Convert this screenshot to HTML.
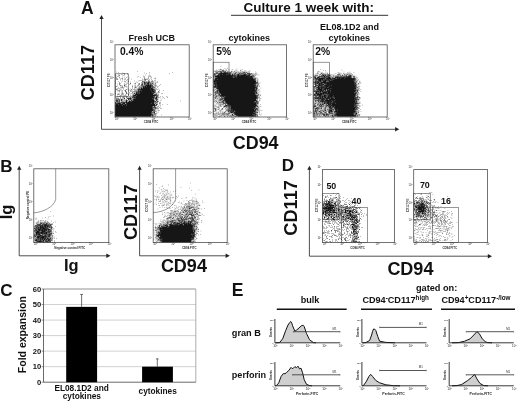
<!DOCTYPE html>
<html lang="en"><head><meta charset="utf-8"><title>Figure</title>
<style>html,body{margin:0;padding:0;background:#fff}svg{display:block}</style></head><body>
<svg width="520" height="403" viewBox="0 0 520 403" font-family="'Liberation Sans', sans-serif" font-weight="bold">
<defs><filter id="b" x="-5%" y="-5%" width="110%" height="110%"><feGaussianBlur stdDeviation="0.55"/></filter></defs>
<rect width="520" height="403" fill="#fff"/>
<text x="81.00" y="14.20" font-size="17.5" text-anchor="start" fill="#111" >A</text>
<path d="M101.50 18.00L101.50 129.30L396.30 129.30" stroke="#222" stroke-width="0.8" fill="none"/>
<path d="M101.50 15.00l-2.1 4h4.2z" fill="#222"/>
<path d="M399.30 129.30l-4.2 -2.2v4.4z" fill="#222"/>
<text transform="translate(94.40 72.60) rotate(-90)" font-size="18.2" text-anchor="middle" fill="#111" >CD117</text>
<text x="243.50" y="12.10" font-size="13.5" text-anchor="start" fill="#111" >Culture 1 week with:</text>
<path d="M231.00 15.30L388.20 15.30" stroke="#333" stroke-width="1.0" fill="none"/>
<text x="151.80" y="40.60" font-size="9" text-anchor="middle" fill="#111" >Fresh UCB</text>
<text x="249.20" y="40.60" font-size="9" text-anchor="middle" fill="#111" >cytokines</text>
<text x="349.40" y="30.00" font-size="9" text-anchor="middle" fill="#111" >EL08.1D2 and</text>
<text x="349.20" y="40.60" font-size="9" text-anchor="middle" fill="#111" >cytokines</text>
<text x="255.70" y="149.20" font-size="17.9" text-anchor="middle" fill="#111" >CD94</text>
<rect x="115.60" y="73.80" width="13.10" height="22.50" stroke="#444" stroke-width="0.55" fill="none"/>
<path d="M137 71.3h0.5v0.5h-0.5zM116.5 71.8h0.5v0.5h-0.5zM118.5 72.3h0.5v0.5h-0.5zM149.5 72.3h0.5v0.5h-0.5zM172.5 72.3h0.5v0.5h-0.5zM122.5 72.8h0.5v0.5h-0.5zM144.5 72.8h0.5v0.5h-0.5zM123 73.3h0.5v0.5h-0.5zM124.5 73.3h0.5v0.5h-0.5zM127 73.3h0.5v0.5h-0.5zM146.5 73.3h0.5v0.5h-0.5zM169.5 73.3h0.5v0.5h-0.5zM124.5 73.8h0.5v0.5h-0.5zM149.5 73.8h0.5v0.5h-0.5zM118.5 74.3h0.5v0.5h-0.5zM121.5 74.3h0.5v0.5h-0.5zM124.5 74.3h0.5v0.5h-0.5zM127 74.3h0.5v0.5h-0.5zM115.5 74.8h0.5v0.5h-0.5zM119.5 74.8h0.5v0.5h-0.5zM122.5 74.8h0.5v0.5h-0.5zM145 74.8h0.5v0.5h-0.5zM115.5 75.3h0.5v0.5h-0.5zM118 75.3h0.5v0.5h-0.5zM119 75.3h0.5v0.5h-0.5zM123 75.3h0.5v0.5h-0.5zM149.5 75.3h0.5v0.5h-0.5zM116.5 75.8h0.5v0.5h-0.5zM119 75.8h0.5v0.5h-0.5zM124 75.8h0.5v0.5h-0.5zM143.5 75.8h0.5v0.5h-0.5zM148 75.8h0.5v0.5h-0.5zM150 75.8h0.5v0.5h-0.5zM117.5 76.3h1v0.5h-1zM138 76.3h0.5v0.5h-0.5zM144.5 76.3h0.5v0.5h-0.5zM149 76.3h0.5v0.5h-0.5zM150 76.3h0.5v0.5h-0.5zM122 76.8h0.5v0.5h-0.5zM127 76.8h0.5v0.5h-0.5zM137.5 76.8h0.5v0.5h-0.5zM143 76.8h0.5v0.5h-0.5zM148 76.8h0.5v0.5h-0.5zM151 76.8h0.5v0.5h-0.5zM115 77.3h0.5v0.5h-0.5zM116.5 77.3h0.5v0.5h-0.5zM119.5 77.3h0.5v0.5h-0.5zM126 77.3h0.5v0.5h-0.5zM140 77.3h0.5v0.5h-0.5zM144 77.3h0.5v0.5h-0.5zM148 77.3h0.5v0.5h-0.5zM119 77.8h0.5v0.5h-0.5zM124.5 77.8h0.5v0.5h-0.5zM129 77.8h0.5v0.5h-0.5zM144.5 77.8h0.5v0.5h-0.5zM150.5 77.8h0.5v0.5h-0.5zM151.5 77.8h0.5v0.5h-0.5zM155.5 77.8h0.5v0.5h-0.5zM116 78.3h0.5v0.5h-0.5zM121.5 78.3h1.5v0.5h-1.5zM125.5 78.3h0.5v0.5h-0.5zM144 78.3h0.5v0.5h-0.5zM148.5 78.3h0.5v0.5h-0.5zM154.5 78.3h1v0.5h-1zM116.5 78.8h1.5v0.5h-1.5zM120 78.8h0.5v0.5h-0.5zM131 78.8h0.5v0.5h-0.5zM142 78.8h0.5v0.5h-0.5zM144 78.8h0.5v0.5h-0.5zM145.5 78.8h0.5v0.5h-0.5zM146.5 78.8h1v0.5h-1zM148.5 78.8h0.5v0.5h-0.5zM116 79.3h0.5v0.5h-0.5zM117.5 79.3h0.5v0.5h-0.5zM122 79.3h0.5v0.5h-0.5zM124 79.3h0.5v0.5h-0.5zM125.5 79.3h0.5v0.5h-0.5zM127.5 79.3h0.5v0.5h-0.5zM128.5 79.3h0.5v0.5h-0.5zM144.5 79.3h1v0.5h-1zM146.5 79.3h0.5v0.5h-0.5zM147.5 79.3h0.5v0.5h-0.5zM149 79.3h0.5v0.5h-0.5zM151.5 79.3h0.5v0.5h-0.5zM120.5 79.8h0.5v0.5h-0.5zM127.5 79.8h0.5v0.5h-0.5zM142.5 79.8h0.5v0.5h-0.5zM143.5 79.8h0.5v0.5h-0.5zM144.5 79.8h1.5v0.5h-1.5zM155 79.8h0.5v0.5h-0.5zM126.5 80.3h0.5v0.5h-0.5zM139.5 80.3h0.5v0.5h-0.5zM140.5 80.3h1v0.5h-1zM144.5 80.3h1v0.5h-1zM148 80.3h0.5v0.5h-0.5zM149.5 80.3h0.5v0.5h-0.5zM152.5 80.3h0.5v0.5h-0.5zM154.5 80.3h0.5v0.5h-0.5zM115.5 80.8h0.5v0.5h-0.5zM122 80.8h0.5v0.5h-0.5zM124 80.8h0.5v0.5h-0.5zM128.5 80.8h0.5v0.5h-0.5zM134 80.8h0.5v0.5h-0.5zM138.5 80.8h0.5v0.5h-0.5zM142.5 80.8h0.5v0.5h-0.5zM148 80.8h1v0.5h-1zM151.5 80.8h1v0.5h-1zM155.5 80.8h0.5v0.5h-0.5zM118.5 81.3h0.5v0.5h-0.5zM124.5 81.3h0.5v0.5h-0.5zM125.5 81.3h0.5v0.5h-0.5zM128 81.3h0.5v0.5h-0.5zM142.5 81.3h2v0.5h-2zM146 81.3h0.5v0.5h-0.5zM147 81.3h0.5v0.5h-0.5zM148 81.3h0.5v0.5h-0.5zM149 81.3h0.5v0.5h-0.5zM151 81.3h0.5v0.5h-0.5zM152.5 81.3h1v0.5h-1zM121 81.8h0.5v0.5h-0.5zM125 81.8h0.5v0.5h-0.5zM127.5 81.8h0.5v0.5h-0.5zM130.5 81.8h0.5v0.5h-0.5zM136.5 81.8h0.5v0.5h-0.5zM142 81.8h1v0.5h-1zM144 81.8h2.5v0.5h-2.5zM148 81.8h0.5v0.5h-0.5zM149 81.8h1.5v0.5h-1.5zM151.5 81.8h0.5v0.5h-0.5zM152.5 81.8h0.5v0.5h-0.5zM154 81.8h0.5v0.5h-0.5zM157 81.8h1v0.5h-1zM119 82.3h0.5v0.5h-0.5zM137 82.3h0.5v0.5h-0.5zM141.5 82.3h0.5v0.5h-0.5zM142.5 82.3h0.5v0.5h-0.5zM143.5 82.3h1.5v0.5h-1.5zM145.5 82.3h5v0.5h-5zM151.5 82.3h0.5v0.5h-0.5zM153.5 82.3h0.5v0.5h-0.5zM155 82.3h0.5v0.5h-0.5zM156.5 82.3h0.5v0.5h-0.5zM115 82.8h1v0.5h-1zM119.5 82.8h0.5v0.5h-0.5zM126.5 82.8h0.5v0.5h-0.5zM135.5 82.8h0.5v0.5h-0.5zM141 82.8h0.5v0.5h-0.5zM143 82.8h0.5v0.5h-0.5zM144 82.8h1.5v0.5h-1.5zM146.5 82.8h1v0.5h-1zM148 82.8h1v0.5h-1zM150.5 82.8h0.5v0.5h-0.5zM152 82.8h1.5v0.5h-1.5zM119.5 83.3h0.5v0.5h-0.5zM120.5 83.3h0.5v0.5h-0.5zM124 83.3h0.5v0.5h-0.5zM127.5 83.3h0.5v0.5h-0.5zM130 83.3h1v0.5h-1zM134 83.3h0.5v0.5h-0.5zM135.5 83.3h0.5v0.5h-0.5zM138 83.3h0.5v0.5h-0.5zM139.5 83.3h0.5v0.5h-0.5zM142 83.3h1v0.5h-1zM144 83.3h2v0.5h-2zM146.5 83.3h4v0.5h-4zM151 83.3h0.5v0.5h-0.5zM152 83.3h1v0.5h-1zM153.5 83.3h0.5v0.5h-0.5zM155 83.3h0.5v0.5h-0.5zM117 83.8h0.5v0.5h-0.5zM119 83.8h0.5v0.5h-0.5zM130 83.8h0.5v0.5h-0.5zM135.5 83.8h0.5v0.5h-0.5zM139 83.8h1v0.5h-1zM141.5 83.8h1v0.5h-1zM143 83.8h0.5v0.5h-0.5zM144.5 83.8h1v0.5h-1zM146 83.8h0.5v0.5h-0.5zM147 83.8h2v0.5h-2zM150 83.8h2v0.5h-2zM154 83.8h0.5v0.5h-0.5zM155 83.8h1v0.5h-1zM119.5 84.3h0.5v0.5h-0.5zM124 84.3h0.5v0.5h-0.5zM125.5 84.3h0.5v0.5h-0.5zM126.5 84.3h0.5v0.5h-0.5zM129 84.3h0.5v0.5h-0.5zM138 84.3h0.5v0.5h-0.5zM139.5 84.3h0.5v0.5h-0.5zM141.5 84.3h1.5v0.5h-1.5zM144 84.3h1.5v0.5h-1.5zM146.5 84.3h0.5v0.5h-0.5zM147.5 84.3h2.5v0.5h-2.5zM150.5 84.3h0.5v0.5h-0.5zM151.5 84.3h0.5v0.5h-0.5zM152.5 84.3h1v0.5h-1zM160 84.3h0.5v0.5h-0.5zM119 84.8h0.5v0.5h-0.5zM120.5 84.8h0.5v0.5h-0.5zM124 84.8h0.5v0.5h-0.5zM134 84.8h0.5v0.5h-0.5zM138 84.8h0.5v0.5h-0.5zM141 84.8h2.5v0.5h-2.5zM144.5 84.8h5v0.5h-5zM150 84.8h1.5v0.5h-1.5zM152.5 84.8h0.5v0.5h-0.5zM153.5 84.8h1v0.5h-1zM155 84.8h0.5v0.5h-0.5zM156.5 84.8h0.5v0.5h-0.5zM120 85.3h0.5v0.5h-0.5zM121.5 85.3h0.5v0.5h-0.5zM124 85.3h1v0.5h-1zM132 85.3h0.5v0.5h-0.5zM135.5 85.3h0.5v0.5h-0.5zM137 85.3h0.5v0.5h-0.5zM138.5 85.3h0.5v0.5h-0.5zM140.5 85.3h0.5v0.5h-0.5zM141.5 85.3h0.5v0.5h-0.5zM142.5 85.3h1v0.5h-1zM144 85.3h0.5v0.5h-0.5zM145.5 85.3h7.5v0.5h-7.5zM155.5 85.3h0.5v0.5h-0.5zM159.5 85.3h0.5v0.5h-0.5zM117.5 85.8h0.5v0.5h-0.5zM120 85.8h0.5v0.5h-0.5zM122.5 85.8h0.5v0.5h-0.5zM124 85.8h0.5v0.5h-0.5zM125.5 85.8h1v0.5h-1zM135.5 85.8h0.5v0.5h-0.5zM139 85.8h0.5v0.5h-0.5zM141 85.8h0.5v0.5h-0.5zM142.5 85.8h0.5v0.5h-0.5zM143.5 85.8h1v0.5h-1zM145 85.8h6.5v0.5h-6.5zM152.5 85.8h0.5v0.5h-0.5zM154 85.8h1.5v0.5h-1.5zM156 85.8h0.5v0.5h-0.5zM115.5 86.3h1.5v0.5h-1.5zM122 86.3h0.5v0.5h-0.5zM125.5 86.3h0.5v0.5h-0.5zM132 86.3h1v0.5h-1zM135 86.3h0.5v0.5h-0.5zM137 86.3h0.5v0.5h-0.5zM139 86.3h0.5v0.5h-0.5zM140 86.3h0.5v0.5h-0.5zM141 86.3h0.5v0.5h-0.5zM142 86.3h4.5v0.5h-4.5zM147 86.3h6v0.5h-6zM153.5 86.3h0.5v0.5h-0.5zM155 86.3h0.5v0.5h-0.5zM157.5 86.3h0.5v0.5h-0.5zM158.5 86.3h0.5v0.5h-0.5zM121.5 86.8h0.5v0.5h-0.5zM122.5 86.8h0.5v0.5h-0.5zM124.5 86.8h0.5v0.5h-0.5zM126.5 86.8h0.5v0.5h-0.5zM127.5 86.8h0.5v0.5h-0.5zM134 86.8h0.5v0.5h-0.5zM136.5 86.8h0.5v0.5h-0.5zM138.5 86.8h0.5v0.5h-0.5zM141.5 86.8h0.5v0.5h-0.5zM143 86.8h1v0.5h-1zM144.5 86.8h7v0.5h-7zM152.5 86.8h1.5v0.5h-1.5zM115.5 87.3h0.5v0.5h-0.5zM118 87.3h0.5v0.5h-0.5zM120.5 87.3h1v0.5h-1zM122 87.3h0.5v0.5h-0.5zM123.5 87.3h0.5v0.5h-0.5zM132 87.3h0.5v0.5h-0.5zM135 87.3h1v0.5h-1zM136.5 87.3h0.5v0.5h-0.5zM139.5 87.3h1v0.5h-1zM141 87.3h0.5v0.5h-0.5zM142 87.3h0.5v0.5h-0.5zM143 87.3h8.5v0.5h-8.5zM152 87.3h1v0.5h-1zM153.5 87.3h1.5v0.5h-1.5zM155.5 87.3h0.5v0.5h-0.5zM157.5 87.3h0.5v0.5h-0.5zM122.5 87.8h0.5v0.5h-0.5zM134.5 87.8h0.5v0.5h-0.5zM135.5 87.8h0.5v0.5h-0.5zM138.5 87.8h14v0.5h-14zM153 87.8h0.5v0.5h-0.5zM154 87.8h0.5v0.5h-0.5zM117.5 88.3h1v0.5h-1zM119 88.3h0.5v0.5h-0.5zM123.5 88.3h0.5v0.5h-0.5zM132 88.3h0.5v0.5h-0.5zM137 88.3h0.5v0.5h-0.5zM138.5 88.3h1v0.5h-1zM141 88.3h1v0.5h-1zM142.5 88.3h10.5v0.5h-10.5zM153.5 88.3h0.5v0.5h-0.5zM155.5 88.3h1v0.5h-1zM115 88.8h1.5v0.5h-1.5zM120 88.8h0.5v0.5h-0.5zM121.5 88.8h0.5v0.5h-0.5zM127.5 88.8h0.5v0.5h-0.5zM128.5 88.8h0.5v0.5h-0.5zM130.5 88.8h0.5v0.5h-0.5zM134.5 88.8h0.5v0.5h-0.5zM136.5 88.8h0.5v0.5h-0.5zM138.5 88.8h0.5v0.5h-0.5zM139.5 88.8h11v0.5h-11zM151 88.8h2v0.5h-2zM153.5 88.8h1.5v0.5h-1.5zM158 88.8h0.5v0.5h-0.5zM116 89.3h0.5v0.5h-0.5zM117 89.3h0.5v0.5h-0.5zM123 89.3h0.5v0.5h-0.5zM126 89.3h1v0.5h-1zM131 89.3h0.5v0.5h-0.5zM133.5 89.3h0.5v0.5h-0.5zM134.5 89.3h0.5v0.5h-0.5zM135.5 89.3h0.5v0.5h-0.5zM137 89.3h0.5v0.5h-0.5zM138 89.3h16.5v0.5h-16.5zM155 89.3h0.5v0.5h-0.5zM156 89.3h0.5v0.5h-0.5zM157.5 89.3h0.5v0.5h-0.5zM116.5 89.8h1v0.5h-1zM119 89.8h0.5v0.5h-0.5zM120.5 89.8h0.5v0.5h-0.5zM125.5 89.8h0.5v0.5h-0.5zM129 89.8h0.5v0.5h-0.5zM131 89.8h1.5v0.5h-1.5zM136 89.8h0.5v0.5h-0.5zM137 89.8h3.5v0.5h-3.5zM141 89.8h13.5v0.5h-13.5zM155 89.8h0.5v0.5h-0.5zM159.5 89.8h0.5v0.5h-0.5zM118 90.3h0.5v0.5h-0.5zM119.5 90.3h0.5v0.5h-0.5zM121.5 90.3h1v0.5h-1zM124.5 90.3h1v0.5h-1zM128 90.3h0.5v0.5h-0.5zM130 90.3h0.5v0.5h-0.5zM135.5 90.3h0.5v0.5h-0.5zM138 90.3h1v0.5h-1zM139.5 90.3h14v0.5h-14zM154 90.3h1.5v0.5h-1.5zM163 90.3h0.5v0.5h-0.5zM117 90.8h0.5v0.5h-0.5zM118.5 90.8h1v0.5h-1zM125 90.8h1v0.5h-1zM128.5 90.8h0.5v0.5h-0.5zM130.5 90.8h0.5v0.5h-0.5zM134 90.8h1v0.5h-1zM135.5 90.8h2v0.5h-2zM138.5 90.8h0.5v0.5h-0.5zM139.5 90.8h1.5v0.5h-1.5zM141.5 90.8h10v0.5h-10zM152 90.8h2.5v0.5h-2.5zM155 90.8h1v0.5h-1zM159 90.8h0.5v0.5h-0.5zM115 91.3h0.5v0.5h-0.5zM119.5 91.3h0.5v0.5h-0.5zM122 91.3h0.5v0.5h-0.5zM125 91.3h0.5v0.5h-0.5zM126.5 91.3h0.5v0.5h-0.5zM130 91.3h0.5v0.5h-0.5zM131.5 91.3h0.5v0.5h-0.5zM132.5 91.3h1v0.5h-1zM134 91.3h0.5v0.5h-0.5zM135 91.3h0.5v0.5h-0.5zM136 91.3h0.5v0.5h-0.5zM137.5 91.3h17.5v0.5h-17.5zM158 91.3h1v0.5h-1zM115 91.8h0.5v0.5h-0.5zM121.5 91.8h0.5v0.5h-0.5zM125.5 91.8h0.5v0.5h-0.5zM133.5 91.8h0.5v0.5h-0.5zM135.5 91.8h1v0.5h-1zM137 91.8h17.5v0.5h-17.5zM155 91.8h1v0.5h-1zM158.5 91.8h0.5v0.5h-0.5zM122.5 92.3h0.5v0.5h-0.5zM126 92.3h1v0.5h-1zM129.5 92.3h0.5v0.5h-0.5zM132 92.3h1v0.5h-1zM136 92.3h1v0.5h-1zM137.5 92.3h1.5v0.5h-1.5zM139.5 92.3h12.5v0.5h-12.5zM152.5 92.3h2.5v0.5h-2.5zM157 92.3h0.5v0.5h-0.5zM158 92.3h0.5v0.5h-0.5zM159.5 92.3h0.5v0.5h-0.5zM119.5 92.8h0.5v0.5h-0.5zM122 92.8h0.5v0.5h-0.5zM126 92.8h0.5v0.5h-0.5zM133 92.8h0.5v0.5h-0.5zM134 92.8h1.5v0.5h-1.5zM136 92.8h2v0.5h-2zM138.5 92.8h15v0.5h-15zM154 92.8h2.5v0.5h-2.5zM115 93.3h1v0.5h-1zM118 93.3h0.5v0.5h-0.5zM121.5 93.3h1v0.5h-1zM123 93.3h0.5v0.5h-0.5zM126 93.3h1.5v0.5h-1.5zM131 93.3h0.5v0.5h-0.5zM132 93.3h0.5v0.5h-0.5zM134 93.3h1v0.5h-1zM135.5 93.3h1.5v0.5h-1.5zM137.5 93.3h1.5v0.5h-1.5zM139.5 93.3h14.5v0.5h-14.5zM156.5 93.3h0.5v0.5h-0.5zM161 93.3h0.5v0.5h-0.5zM162.5 93.3h0.5v0.5h-0.5zM117.5 93.8h0.5v0.5h-0.5zM122 93.8h0.5v0.5h-0.5zM128.5 93.8h1v0.5h-1zM130.5 93.8h0.5v0.5h-0.5zM133.5 93.8h1v0.5h-1zM135 93.8h0.5v0.5h-0.5zM136 93.8h18v0.5h-18zM156 93.8h0.5v0.5h-0.5zM157.5 93.8h0.5v0.5h-0.5zM158.5 93.8h0.5v0.5h-0.5zM117 94.3h0.5v0.5h-0.5zM118 94.3h1.5v0.5h-1.5zM121.5 94.3h0.5v0.5h-0.5zM122.5 94.3h0.5v0.5h-0.5zM123.5 94.3h0.5v0.5h-0.5zM125 94.3h0.5v0.5h-0.5zM128.5 94.3h0.5v0.5h-0.5zM132 94.3h0.5v0.5h-0.5zM133 94.3h0.5v0.5h-0.5zM135 94.3h18v0.5h-18zM154 94.3h2.5v0.5h-2.5zM158 94.3h0.5v0.5h-0.5zM121 94.8h0.5v0.5h-0.5zM126.5 94.8h0.5v0.5h-0.5zM128.5 94.8h0.5v0.5h-0.5zM133 94.8h0.5v0.5h-0.5zM134 94.8h23.5v0.5h-23.5zM120 95.3h0.5v0.5h-0.5zM121 95.3h0.5v0.5h-0.5zM123 95.3h0.5v0.5h-0.5zM124 95.3h0.5v0.5h-0.5zM125.5 95.3h0.5v0.5h-0.5zM130 95.3h0.5v0.5h-0.5zM132.5 95.3h4v0.5h-4zM137 95.3h20v0.5h-20zM157.5 95.3h0.5v0.5h-0.5zM158.5 95.3h0.5v0.5h-0.5zM117 95.8h0.5v0.5h-0.5zM119 95.8h0.5v0.5h-0.5zM120.5 95.8h0.5v0.5h-0.5zM122 95.8h0.5v0.5h-0.5zM125 95.8h0.5v0.5h-0.5zM128 95.8h0.5v0.5h-0.5zM131 95.8h0.5v0.5h-0.5zM132 95.8h0.5v0.5h-0.5zM133 95.8h22v0.5h-22zM155.5 95.8h0.5v0.5h-0.5zM157 95.8h1.5v0.5h-1.5zM117 96.3h0.5v0.5h-0.5zM119.5 96.3h0.5v0.5h-0.5zM120.5 96.3h0.5v0.5h-0.5zM123 96.3h0.5v0.5h-0.5zM126 96.3h0.5v0.5h-0.5zM127 96.3h0.5v0.5h-0.5zM129 96.3h0.5v0.5h-0.5zM130.5 96.3h1v0.5h-1zM132.5 96.3h1.5v0.5h-1.5zM134.5 96.3h0.5v0.5h-0.5zM135.5 96.3h17.5v0.5h-17.5zM153.5 96.3h1v0.5h-1zM156 96.3h1v0.5h-1zM157.5 96.3h0.5v0.5h-0.5zM160 96.3h0.5v0.5h-0.5zM162.5 96.3h0.5v0.5h-0.5zM166.5 96.3h0.5v0.5h-0.5zM115 96.8h0.5v0.5h-0.5zM118 96.8h0.5v0.5h-0.5zM124 96.8h1v0.5h-1zM126 96.8h0.5v0.5h-0.5zM129.5 96.8h1v0.5h-1zM132 96.8h1v0.5h-1zM133.5 96.8h22v0.5h-22zM156 96.8h1v0.5h-1zM157.5 96.8h0.5v0.5h-0.5zM158.5 96.8h0.5v0.5h-0.5zM167.5 96.8h0.5v0.5h-0.5zM115 97.3h0.5v0.5h-0.5zM116.5 97.3h0.5v0.5h-0.5zM120.5 97.3h0.5v0.5h-0.5zM122.5 97.3h1.5v0.5h-1.5zM126 97.3h1v0.5h-1zM130.5 97.3h0.5v0.5h-0.5zM131.5 97.3h0.5v0.5h-0.5zM132.5 97.3h22v0.5h-22zM155 97.3h0.5v0.5h-0.5zM156 97.3h1.5v0.5h-1.5zM158 97.3h0.5v0.5h-0.5zM159 97.3h0.5v0.5h-0.5zM163.5 97.3h0.5v0.5h-0.5zM167 97.3h0.5v0.5h-0.5zM117.5 97.8h0.5v0.5h-0.5zM120 97.8h0.5v0.5h-0.5zM122 97.8h0.5v0.5h-0.5zM124.5 97.8h0.5v0.5h-0.5zM127 97.8h4v0.5h-4zM132 97.8h1.5v0.5h-1.5zM134 97.8h1v0.5h-1zM135.5 97.8h19v0.5h-19zM155 97.8h0.5v0.5h-0.5zM156 97.8h1v0.5h-1zM157.5 97.8h0.5v0.5h-0.5zM160.5 97.8h0.5v0.5h-0.5zM162 97.8h0.5v0.5h-0.5zM115.5 98.3h0.5v0.5h-0.5zM116.5 98.3h1v0.5h-1zM118.5 98.3h0.5v0.5h-0.5zM120.5 98.3h0.5v0.5h-0.5zM123.5 98.3h1.5v0.5h-1.5zM127 98.3h5v0.5h-5zM133.5 98.3h0.5v0.5h-0.5zM134.5 98.3h17.5v0.5h-17.5zM152.5 98.3h1.5v0.5h-1.5zM154.5 98.3h3v0.5h-3zM164 98.3h0.5v0.5h-0.5zM116 98.8h1.5v0.5h-1.5zM118 98.8h1v0.5h-1zM119.5 98.8h0.5v0.5h-0.5zM121.5 98.8h0.5v0.5h-0.5zM122.5 98.8h0.5v0.5h-0.5zM124 98.8h1v0.5h-1zM126 98.8h0.5v0.5h-0.5zM128 98.8h0.5v0.5h-0.5zM129 98.8h0.5v0.5h-0.5zM130 98.8h1.5v0.5h-1.5zM132.5 98.8h21v0.5h-21zM154 98.8h0.5v0.5h-0.5zM155 98.8h2v0.5h-2zM158 98.8h0.5v0.5h-0.5zM116 99.3h0.5v0.5h-0.5zM117.5 99.3h0.5v0.5h-0.5zM118.5 99.3h1v0.5h-1zM120 99.3h0.5v0.5h-0.5zM121 99.3h1v0.5h-1zM122.5 99.3h1v0.5h-1zM125 99.3h0.5v0.5h-0.5zM126.5 99.3h0.5v0.5h-0.5zM128 99.3h1.5v0.5h-1.5zM130 99.3h1.5v0.5h-1.5zM132.5 99.3h21.5v0.5h-21.5zM155.5 99.3h1v0.5h-1zM157 99.3h1v0.5h-1zM115.5 99.8h0.5v0.5h-0.5zM116.5 99.8h1v0.5h-1zM118.5 99.8h1.5v0.5h-1.5zM121 99.8h1.5v0.5h-1.5zM126.5 99.8h0.5v0.5h-0.5zM128 99.8h1v0.5h-1zM129.5 99.8h0.5v0.5h-0.5zM131 99.8h0.5v0.5h-0.5zM132 99.8h0.5v0.5h-0.5zM133.5 99.8h20.5v0.5h-20.5zM154.5 99.8h0.5v0.5h-0.5zM156 99.8h1v0.5h-1zM157.5 99.8h0.5v0.5h-0.5zM161 99.8h0.5v0.5h-0.5zM115.5 100.3h2.5v0.5h-2.5zM118.5 100.3h2v0.5h-2zM121 100.3h1v0.5h-1zM122.5 100.3h1v0.5h-1zM124.5 100.3h1v0.5h-1zM126 100.3h2v0.5h-2zM129.5 100.3h0.5v0.5h-0.5zM130.5 100.3h1.5v0.5h-1.5zM132.5 100.3h22v0.5h-22zM156 100.3h1v0.5h-1zM160 100.3h0.5v0.5h-0.5zM116 100.8h2.5v0.5h-2.5zM121.5 100.8h0.5v0.5h-0.5zM124 100.8h0.5v0.5h-0.5zM125.5 100.8h1.5v0.5h-1.5zM127.5 100.8h0.5v0.5h-0.5zM129 100.8h1v0.5h-1zM130.5 100.8h24.5v0.5h-24.5zM155.5 100.8h0.5v0.5h-0.5zM157 100.8h1v0.5h-1zM158.5 100.8h0.5v0.5h-0.5zM180 100.8h0.5v0.5h-0.5zM116 101.3h0.5v0.5h-0.5zM117.5 101.3h1v0.5h-1zM119 101.3h1v0.5h-1zM122 101.3h1v0.5h-1zM123.5 101.3h0.5v0.5h-0.5zM125 101.3h0.5v0.5h-0.5zM126 101.3h1v0.5h-1zM128 101.3h0.5v0.5h-0.5zM129 101.3h2v0.5h-2zM131.5 101.3h23v0.5h-23zM155 101.3h1v0.5h-1zM156.5 101.3h0.5v0.5h-0.5zM157.5 101.3h1v0.5h-1zM115.5 101.8h3v0.5h-3zM119 101.8h1v0.5h-1zM120.5 101.8h1.5v0.5h-1.5zM123 101.8h0.5v0.5h-0.5zM124 101.8h0.5v0.5h-0.5zM125.5 101.8h30.5v0.5h-30.5zM156.5 101.8h1.5v0.5h-1.5zM115 102.3h1v0.5h-1zM117 102.3h0.5v0.5h-0.5zM118.5 102.3h1v0.5h-1zM120 102.3h0.5v0.5h-0.5zM121 102.3h6v0.5h-6zM127.5 102.3h27v0.5h-27zM155.5 102.3h1v0.5h-1zM157 102.3h0.5v0.5h-0.5zM159.5 102.3h1v0.5h-1zM115 102.8h2.5v0.5h-2.5zM118 102.8h2v0.5h-2zM120.5 102.8h1v0.5h-1zM122 102.8h3v0.5h-3zM125.5 102.8h28.5v0.5h-28.5zM156 102.8h1v0.5h-1zM160.5 102.8h0.5v0.5h-0.5zM115 103.3h1.5v0.5h-1.5zM117 103.3h4v0.5h-4zM121.5 103.3h0.5v0.5h-0.5zM122.5 103.3h2.5v0.5h-2.5zM126 103.3h25v0.5h-25zM151.5 103.3h2.5v0.5h-2.5zM154.5 103.3h1.5v0.5h-1.5zM159 103.3h1v0.5h-1zM115 103.8h6.5v0.5h-6.5zM122 103.8h4v0.5h-4zM126.5 103.8h29v0.5h-29zM156.5 103.8h1.5v0.5h-1.5zM160 103.8h0.5v0.5h-0.5zM115.5 104.3h3v0.5h-3zM119 104.3h4.5v0.5h-4.5zM124.5 104.3h30.5v0.5h-30.5zM156 104.3h1v0.5h-1zM157.5 104.3h0.5v0.5h-0.5zM162 104.3h0.5v0.5h-0.5zM167.5 104.3h0.5v0.5h-0.5zM115 104.8h40v0.5h-40zM155.5 104.8h1.5v0.5h-1.5zM159 104.8h0.5v0.5h-0.5zM115 105.3h7v0.5h-7zM122.5 105.3h4v0.5h-4zM127 105.3h29.5v0.5h-29.5zM160 105.3h0.5v0.5h-0.5zM115 105.8h40.5v0.5h-40.5zM156 105.8h0.5v0.5h-0.5zM158.5 105.8h0.5v0.5h-0.5zM115 106.3h37v0.5h-37zM152.5 106.3h0.5v0.5h-0.5zM154 106.3h1.5v0.5h-1.5zM157.5 106.3h1v0.5h-1zM115 106.8h38v0.5h-38zM153.5 106.8h0.5v0.5h-0.5zM154.5 106.8h0.5v0.5h-0.5zM160 106.8h0.5v0.5h-0.5zM115 107.3h37.5v0.5h-37.5zM153 107.3h3.5v0.5h-3.5zM157 107.3h0.5v0.5h-0.5zM159 107.3h0.5v0.5h-0.5zM115 107.8h38v0.5h-38zM153.5 107.8h1v0.5h-1zM155 107.8h1.5v0.5h-1.5zM157.5 107.8h0.5v0.5h-0.5zM158.5 107.8h0.5v0.5h-0.5zM115 108.3h38v0.5h-38zM153.5 108.3h1v0.5h-1zM155 108.3h1v0.5h-1zM156.5 108.3h0.5v0.5h-0.5zM157.5 108.3h0.5v0.5h-0.5zM158.5 108.3h0.5v0.5h-0.5zM160.5 108.3h1v0.5h-1zM115 108.8h37.5v0.5h-37.5zM153 108.8h0.5v0.5h-0.5zM154 108.8h0.5v0.5h-0.5zM156 108.8h0.5v0.5h-0.5zM115 109.3h39v0.5h-39zM154.5 109.3h1v0.5h-1zM115 109.8h38.5v0.5h-38.5zM154.5 109.8h1v0.5h-1zM157 109.8h0.5v0.5h-0.5zM158.5 109.8h0.5v0.5h-0.5zM115 110.3h38.5v0.5h-38.5zM154 110.3h1v0.5h-1zM158.5 110.3h1v0.5h-1zM115 110.8h39v0.5h-39zM154.5 110.8h1v0.5h-1zM156.5 110.8h0.5v0.5h-0.5zM115 111.3h37v0.5h-37zM153 111.3h0.5v0.5h-0.5zM154.5 111.3h1v0.5h-1zM156.5 111.3h0.5v0.5h-0.5zM115 111.8h36.5v0.5h-36.5zM152.5 111.8h1v0.5h-1zM154 111.8h1v0.5h-1zM158 111.8h0.5v0.5h-0.5zM115 112.3h37v0.5h-37zM152.5 112.3h1v0.5h-1zM154 112.3h1v0.5h-1zM115 112.8h36.5v0.5h-36.5zM152 112.8h3v0.5h-3zM156.5 112.8h0.5v0.5h-0.5zM157.5 112.8h0.5v0.5h-0.5zM115 113.3h37v0.5h-37zM154.5 113.3h0.5v0.5h-0.5zM155.5 113.3h1v0.5h-1zM115 113.8h36.5v0.5h-36.5zM152 113.8h1.5v0.5h-1.5zM154 113.8h0.5v0.5h-0.5zM155 113.8h1v0.5h-1zM115 114.3h37.5v0.5h-37.5zM153 114.3h0.5v0.5h-0.5zM154 114.3h0.5v0.5h-0.5zM115 114.8h38.5v0.5h-38.5zM154.5 114.8h2v0.5h-2zM161 114.8h0.5v0.5h-0.5zM115 115.3h36v0.5h-36zM151.5 115.3h2v0.5h-2zM154.5 115.3h0.5v0.5h-0.5zM115 115.8h36.5v0.5h-36.5zM152 115.8h0.5v0.5h-0.5zM153.5 115.8h0.5v0.5h-0.5zM155.5 115.8h0.5v0.5h-0.5zM115 116.3h36v0.5h-36zM151.5 116.3h1.5v0.5h-1.5zM153.5 116.3h0.5v0.5h-0.5zM154.5 116.3h0.5v0.5h-0.5zM155.5 116.3h0.5v0.5h-0.5zM157 116.3h0.5v0.5h-0.5z" fill="#161616" filter="url(#b)"/>
<rect x="115.00" y="44.80" width="74.20" height="72.20" stroke="#505050" stroke-width="0.8" fill="none"/>
<text x="116.90" y="119.50" font-size="2.6" text-anchor="middle" fill="#2a2a2a" font-weight="normal">10<tspan dy="-1" font-size="1.8">0</tspan></text>
<text x="113.80" y="113.80" font-size="2.6" text-anchor="end" fill="#2a2a2a" font-weight="normal">10<tspan dy="-1" font-size="1.8">0</tspan></text>
<text x="135.15" y="119.50" font-size="2.6" text-anchor="middle" fill="#2a2a2a" font-weight="normal">10<tspan dy="-1" font-size="1.8">1</tspan></text>
<text x="113.80" y="96.20" font-size="2.6" text-anchor="end" fill="#2a2a2a" font-weight="normal">10<tspan dy="-1" font-size="1.8">1</tspan></text>
<text x="153.40" y="119.50" font-size="2.6" text-anchor="middle" fill="#2a2a2a" font-weight="normal">10<tspan dy="-1" font-size="1.8">2</tspan></text>
<text x="113.80" y="78.60" font-size="2.6" text-anchor="end" fill="#2a2a2a" font-weight="normal">10<tspan dy="-1" font-size="1.8">2</tspan></text>
<text x="171.65" y="119.50" font-size="2.6" text-anchor="middle" fill="#2a2a2a" font-weight="normal">10<tspan dy="-1" font-size="1.8">3</tspan></text>
<text x="113.80" y="61.00" font-size="2.6" text-anchor="end" fill="#2a2a2a" font-weight="normal">10<tspan dy="-1" font-size="1.8">3</tspan></text>
<text x="189.90" y="119.50" font-size="2.6" text-anchor="middle" fill="#2a2a2a" font-weight="normal">10<tspan dy="-1" font-size="1.8">4</tspan></text>
<text x="113.80" y="43.40" font-size="2.6" text-anchor="end" fill="#2a2a2a" font-weight="normal">10<tspan dy="-1" font-size="1.8">4</tspan></text>
<text x="151.14" y="123.40" font-size="2.9" text-anchor="middle" fill="#2a2a2a">CD94 FITC</text>
<text transform="translate(110.00 80.18) rotate(-90)" font-size="2.9" text-anchor="middle" fill="#2a2a2a">CD117 PE</text>
<text x="119.90" y="54.70" font-size="10.3" text-anchor="start" fill="#111" >0.4%</text>
<rect x="213.20" y="62.20" width="15.80" height="51.80" stroke="#444" stroke-width="0.55" fill="none"/>
<path d="M220.7 66.3h0.5v0.5h-0.5zM224.7 68.3h0.5v0.5h-0.5zM227.2 68.3h0.5v0.5h-0.5zM220.7 68.8h0.5v0.5h-0.5zM226.2 68.8h0.5v0.5h-0.5zM236.7 68.8h0.5v0.5h-0.5zM218.7 69.3h0.5v0.5h-0.5zM220.2 69.3h1v0.5h-1zM221.7 69.3h0.5v0.5h-0.5zM228.7 69.3h0.5v0.5h-0.5zM232.2 69.3h0.5v0.5h-0.5zM242.2 69.3h0.5v0.5h-0.5zM216.2 69.8h0.5v0.5h-0.5zM219.7 69.8h0.5v0.5h-0.5zM223.2 69.8h1v0.5h-1zM225.2 69.8h0.5v0.5h-0.5zM231.7 69.8h0.5v0.5h-0.5zM235.7 69.8h0.5v0.5h-0.5zM240.7 69.8h0.5v0.5h-0.5zM217.7 70.3h0.5v0.5h-0.5zM220.7 70.3h0.5v0.5h-0.5zM221.7 70.3h1.5v0.5h-1.5zM223.7 70.3h0.5v0.5h-0.5zM226.2 70.3h1v0.5h-1zM236.7 70.3h0.5v0.5h-0.5zM240.2 70.3h0.5v0.5h-0.5zM244.7 70.3h0.5v0.5h-0.5zM214.2 70.8h0.5v0.5h-0.5zM215.2 70.8h0.5v0.5h-0.5zM216.2 70.8h1v0.5h-1zM219.2 70.8h0.5v0.5h-0.5zM222.2 70.8h1.5v0.5h-1.5zM224.7 70.8h1v0.5h-1zM228.7 70.8h0.5v0.5h-0.5zM235.7 70.8h0.5v0.5h-0.5zM240.2 70.8h0.5v0.5h-0.5zM241.2 70.8h0.5v0.5h-0.5zM245.7 70.8h0.5v0.5h-0.5zM249.2 70.8h1v0.5h-1zM214.2 71.3h0.5v0.5h-0.5zM215.7 71.3h0.5v0.5h-0.5zM217.2 71.3h0.5v0.5h-0.5zM218.2 71.3h1v0.5h-1zM219.7 71.3h2v0.5h-2zM222.2 71.3h0.5v0.5h-0.5zM223.2 71.3h1v0.5h-1zM224.7 71.3h0.5v0.5h-0.5zM225.7 71.3h0.5v0.5h-0.5zM227.2 71.3h0.5v0.5h-0.5zM229.7 71.3h0.5v0.5h-0.5zM231.2 71.3h1v0.5h-1zM232.7 71.3h0.5v0.5h-0.5zM234.2 71.3h1v0.5h-1zM238.7 71.3h0.5v0.5h-0.5zM242.2 71.3h0.5v0.5h-0.5zM244.7 71.3h0.5v0.5h-0.5zM248.2 71.3h0.5v0.5h-0.5zM215.2 71.8h1v0.5h-1zM216.7 71.8h0.5v0.5h-0.5zM217.7 71.8h1v0.5h-1zM219.2 71.8h3v0.5h-3zM222.7 71.8h0.5v0.5h-0.5zM223.7 71.8h2.5v0.5h-2.5zM227.2 71.8h1.5v0.5h-1.5zM231.2 71.8h1v0.5h-1zM234.2 71.8h0.5v0.5h-0.5zM236.2 71.8h0.5v0.5h-0.5zM237.2 71.8h1v0.5h-1zM240.2 71.8h0.5v0.5h-0.5zM242.2 71.8h0.5v0.5h-0.5zM243.2 71.8h1v0.5h-1zM244.7 71.8h0.5v0.5h-0.5zM246.2 71.8h0.5v0.5h-0.5zM247.2 71.8h0.5v0.5h-0.5zM255.2 71.8h0.5v0.5h-0.5zM216.2 72.3h0.5v0.5h-0.5zM217.2 72.3h0.5v0.5h-0.5zM220.2 72.3h0.5v0.5h-0.5zM221.2 72.3h1v0.5h-1zM223.2 72.3h0.5v0.5h-0.5zM224.2 72.3h1.5v0.5h-1.5zM226.2 72.3h1.5v0.5h-1.5zM228.2 72.3h0.5v0.5h-0.5zM229.2 72.3h2v0.5h-2zM232.7 72.3h1v0.5h-1zM235.2 72.3h1v0.5h-1zM236.7 72.3h0.5v0.5h-0.5zM238.2 72.3h0.5v0.5h-0.5zM239.7 72.3h0.5v0.5h-0.5zM240.7 72.3h0.5v0.5h-0.5zM242.7 72.3h0.5v0.5h-0.5zM243.7 72.3h1.5v0.5h-1.5zM245.7 72.3h1.5v0.5h-1.5zM248.7 72.3h1v0.5h-1zM213.7 72.8h0.5v0.5h-0.5zM215.2 72.8h0.5v0.5h-0.5zM216.2 72.8h2.5v0.5h-2.5zM219.2 72.8h0.5v0.5h-0.5zM220.2 72.8h8v0.5h-8zM228.7 72.8h1v0.5h-1zM230.2 72.8h1.5v0.5h-1.5zM234.7 72.8h0.5v0.5h-0.5zM235.7 72.8h1v0.5h-1zM238.2 72.8h0.5v0.5h-0.5zM239.2 72.8h1v0.5h-1zM240.7 72.8h2v0.5h-2zM243.2 72.8h1v0.5h-1zM244.7 72.8h1v0.5h-1zM247.2 72.8h0.5v0.5h-0.5zM248.2 72.8h0.5v0.5h-0.5zM256.2 72.8h0.5v0.5h-0.5zM214.2 73.3h1v0.5h-1zM215.7 73.3h1.5v0.5h-1.5zM217.7 73.3h0.5v0.5h-0.5zM218.7 73.3h12v0.5h-12zM232.2 73.3h0.5v0.5h-0.5zM233.2 73.3h0.5v0.5h-0.5zM234.2 73.3h1.5v0.5h-1.5zM237.2 73.3h0.5v0.5h-0.5zM238.7 73.3h2v0.5h-2zM241.2 73.3h1.5v0.5h-1.5zM243.2 73.3h1v0.5h-1zM244.7 73.3h1v0.5h-1zM246.7 73.3h3.5v0.5h-3.5zM250.7 73.3h1.5v0.5h-1.5zM252.7 73.3h0.5v0.5h-0.5zM255.2 73.3h0.5v0.5h-0.5zM213.2 73.8h0.5v0.5h-0.5zM214.2 73.8h1.5v0.5h-1.5zM216.7 73.8h1v0.5h-1zM218.2 73.8h9.5v0.5h-9.5zM228.2 73.8h0.5v0.5h-0.5zM229.2 73.8h1.5v0.5h-1.5zM231.2 73.8h1.5v0.5h-1.5zM233.7 73.8h0.5v0.5h-0.5zM234.7 73.8h2v0.5h-2zM237.2 73.8h0.5v0.5h-0.5zM238.2 73.8h1v0.5h-1zM240.7 73.8h0.5v0.5h-0.5zM242.2 73.8h0.5v0.5h-0.5zM243.7 73.8h1.5v0.5h-1.5zM245.7 73.8h0.5v0.5h-0.5zM246.7 73.8h0.5v0.5h-0.5zM247.7 73.8h0.5v0.5h-0.5zM248.7 73.8h2.5v0.5h-2.5zM253.2 73.8h0.5v0.5h-0.5zM254.2 73.8h0.5v0.5h-0.5zM255.2 73.8h0.5v0.5h-0.5zM256.7 73.8h0.5v0.5h-0.5zM213.2 74.3h2v0.5h-2zM215.7 74.3h0.5v0.5h-0.5zM218.2 74.3h4v0.5h-4zM222.7 74.3h3.5v0.5h-3.5zM226.7 74.3h4v0.5h-4zM231.7 74.3h1.5v0.5h-1.5zM233.7 74.3h1.5v0.5h-1.5zM236.2 74.3h0.5v0.5h-0.5zM237.2 74.3h4.5v0.5h-4.5zM242.2 74.3h0.5v0.5h-0.5zM243.2 74.3h4v0.5h-4zM247.7 74.3h1v0.5h-1zM249.2 74.3h1.5v0.5h-1.5zM251.7 74.3h1v0.5h-1zM253.7 74.3h0.5v0.5h-0.5zM256.7 74.3h0.5v0.5h-0.5zM214.7 74.8h1v0.5h-1zM216.7 74.8h0.5v0.5h-0.5zM217.7 74.8h1.5v0.5h-1.5zM219.7 74.8h11.5v0.5h-11.5zM231.7 74.8h2v0.5h-2zM234.2 74.8h0.5v0.5h-0.5zM235.2 74.8h1v0.5h-1zM236.7 74.8h2.5v0.5h-2.5zM239.7 74.8h0.5v0.5h-0.5zM240.7 74.8h5.5v0.5h-5.5zM246.7 74.8h3.5v0.5h-3.5zM250.7 74.8h1v0.5h-1zM252.2 74.8h0.5v0.5h-0.5zM254.2 74.8h0.5v0.5h-0.5zM255.2 74.8h0.5v0.5h-0.5zM256.7 74.8h0.5v0.5h-0.5zM258.7 74.8h0.5v0.5h-0.5zM213.2 75.3h0.5v0.5h-0.5zM214.2 75.3h1v0.5h-1zM215.7 75.3h0.5v0.5h-0.5zM216.7 75.3h19v0.5h-19zM236.2 75.3h0.5v0.5h-0.5zM237.2 75.3h10.5v0.5h-10.5zM248.2 75.3h2v0.5h-2zM252.2 75.3h2v0.5h-2zM255.2 75.3h0.5v0.5h-0.5zM213.2 75.8h1v0.5h-1zM214.7 75.8h18.5v0.5h-18.5zM233.7 75.8h18.5v0.5h-18.5zM252.7 75.8h0.5v0.5h-0.5zM253.7 75.8h0.5v0.5h-0.5zM254.7 75.8h0.5v0.5h-0.5zM213.2 76.3h1.5v0.5h-1.5zM215.2 76.3h20.5v0.5h-20.5zM236.2 76.3h18v0.5h-18zM213.2 76.8h0.5v0.5h-0.5zM214.7 76.8h18v0.5h-18zM233.2 76.8h1v0.5h-1zM234.7 76.8h1.5v0.5h-1.5zM236.7 76.8h13v0.5h-13zM250.2 76.8h2v0.5h-2zM252.7 76.8h0.5v0.5h-0.5zM254.2 76.8h1v0.5h-1zM213.2 77.3h1v0.5h-1zM215.7 77.3h0.5v0.5h-0.5zM216.7 77.3h16.5v0.5h-16.5zM233.7 77.3h20v0.5h-20zM255.7 77.3h0.5v0.5h-0.5zM213.2 77.8h0.5v0.5h-0.5zM214.2 77.8h39v0.5h-39zM254.2 77.8h1v0.5h-1zM256.7 77.8h0.5v0.5h-0.5zM214.7 78.3h39v0.5h-39zM254.2 78.3h0.5v0.5h-0.5zM255.2 78.3h1v0.5h-1zM213.2 78.8h1v0.5h-1zM215.2 78.8h39.5v0.5h-39.5zM255.2 78.8h1v0.5h-1zM257.2 78.8h1v0.5h-1zM213.7 79.3h3.5v0.5h-3.5zM217.7 79.3h38v0.5h-38zM213.2 79.8h1v0.5h-1zM214.7 79.8h40v0.5h-40zM255.2 79.8h0.5v0.5h-0.5zM256.7 79.8h0.5v0.5h-0.5zM257.7 79.8h0.5v0.5h-0.5zM213.7 80.3h42v0.5h-42zM256.7 80.3h0.5v0.5h-0.5zM213.2 80.8h43v0.5h-43zM257.2 80.8h1v0.5h-1zM213.2 81.3h43v0.5h-43zM257.7 81.3h0.5v0.5h-0.5zM213.2 81.8h2.5v0.5h-2.5zM216.2 81.8h40v0.5h-40zM257.2 81.8h0.5v0.5h-0.5zM213.7 82.3h44.5v0.5h-44.5zM214.2 82.8h1.5v0.5h-1.5zM216.2 82.8h39.5v0.5h-39.5zM256.2 82.8h1v0.5h-1zM257.7 82.8h0.5v0.5h-0.5zM259.7 82.8h0.5v0.5h-0.5zM213.7 83.3h43v0.5h-43zM257.2 83.3h1v0.5h-1zM258.7 83.3h0.5v0.5h-0.5zM213.2 83.8h43v0.5h-43zM256.7 83.8h0.5v0.5h-0.5zM258.2 83.8h0.5v0.5h-0.5zM214.2 84.3h41v0.5h-41zM255.7 84.3h0.5v0.5h-0.5zM257.2 84.3h0.5v0.5h-0.5zM258.2 84.3h0.5v0.5h-0.5zM213.2 84.8h0.5v0.5h-0.5zM214.2 84.8h0.5v0.5h-0.5zM215.2 84.8h1v0.5h-1zM216.7 84.8h37.5v0.5h-37.5zM254.7 84.8h1.5v0.5h-1.5zM256.7 84.8h1v0.5h-1zM258.7 84.8h0.5v0.5h-0.5zM213.2 85.3h0.5v0.5h-0.5zM214.7 85.3h41.5v0.5h-41.5zM256.7 85.3h1v0.5h-1zM258.7 85.3h0.5v0.5h-0.5zM213.7 85.8h2.5v0.5h-2.5zM216.7 85.8h39v0.5h-39zM256.7 85.8h1v0.5h-1zM213.2 86.3h42.5v0.5h-42.5zM256.2 86.3h1.5v0.5h-1.5zM258.7 86.3h1v0.5h-1zM213.2 86.8h1.5v0.5h-1.5zM215.2 86.8h41.5v0.5h-41.5zM257.2 86.8h0.5v0.5h-0.5zM213.2 87.3h0.5v0.5h-0.5zM214.2 87.3h2.5v0.5h-2.5zM217.2 87.3h40v0.5h-40zM257.7 87.3h0.5v0.5h-0.5zM213.2 87.8h0.5v0.5h-0.5zM214.2 87.8h1v0.5h-1zM215.7 87.8h40v0.5h-40zM256.2 87.8h1v0.5h-1zM260.7 87.8h0.5v0.5h-0.5zM213.2 88.3h0.5v0.5h-0.5zM216.2 88.3h39v0.5h-39zM255.7 88.3h2v0.5h-2zM213.7 88.8h0.5v0.5h-0.5zM215.7 88.8h0.5v0.5h-0.5zM216.7 88.8h41v0.5h-41zM213.7 89.3h0.5v0.5h-0.5zM214.7 89.3h1v0.5h-1zM217.7 89.3h37.5v0.5h-37.5zM255.7 89.3h1.5v0.5h-1.5zM258.7 89.3h0.5v0.5h-0.5zM213.2 89.8h1v0.5h-1zM215.7 89.8h1v0.5h-1zM217.2 89.8h1v0.5h-1zM218.7 89.8h37v0.5h-37zM256.2 89.8h0.5v0.5h-0.5zM257.7 89.8h1v0.5h-1zM259.2 89.8h0.5v0.5h-0.5zM213.2 90.3h0.5v0.5h-0.5zM214.2 90.3h0.5v0.5h-0.5zM216.7 90.3h40v0.5h-40zM257.7 90.3h0.5v0.5h-0.5zM213.2 90.8h1v0.5h-1zM214.7 90.8h0.5v0.5h-0.5zM216.2 90.8h1.5v0.5h-1.5zM218.2 90.8h39v0.5h-39zM257.7 90.8h0.5v0.5h-0.5zM215.2 91.3h0.5v0.5h-0.5zM216.7 91.3h1.5v0.5h-1.5zM218.7 91.3h37.5v0.5h-37.5zM256.7 91.3h0.5v0.5h-0.5zM259.7 91.3h0.5v0.5h-0.5zM213.7 91.8h0.5v0.5h-0.5zM214.7 91.8h3v0.5h-3zM218.7 91.8h36v0.5h-36zM255.7 91.8h1v0.5h-1zM257.7 91.8h0.5v0.5h-0.5zM213.2 92.3h0.5v0.5h-0.5zM214.7 92.3h0.5v0.5h-0.5zM215.7 92.3h0.5v0.5h-0.5zM216.7 92.3h1v0.5h-1zM218.2 92.3h39v0.5h-39zM258.7 92.3h0.5v0.5h-0.5zM214.2 92.8h2v0.5h-2zM216.7 92.8h2v0.5h-2zM219.7 92.8h37.5v0.5h-37.5zM257.7 92.8h0.5v0.5h-0.5zM215.7 93.3h1v0.5h-1zM217.2 93.3h0.5v0.5h-0.5zM218.2 93.3h37v0.5h-37zM255.7 93.3h2v0.5h-2zM258.7 93.3h0.5v0.5h-0.5zM214.7 93.8h1v0.5h-1zM216.7 93.8h0.5v0.5h-0.5zM217.7 93.8h0.5v0.5h-0.5zM219.2 93.8h0.5v0.5h-0.5zM220.7 93.8h35v0.5h-35zM256.2 93.8h0.5v0.5h-0.5zM213.7 94.3h0.5v0.5h-0.5zM215.2 94.3h1v0.5h-1zM218.2 94.3h2v0.5h-2zM220.7 94.3h35v0.5h-35zM256.7 94.3h0.5v0.5h-0.5zM257.7 94.3h1.5v0.5h-1.5zM213.2 94.8h1v0.5h-1zM214.7 94.8h0.5v0.5h-0.5zM215.7 94.8h0.5v0.5h-0.5zM216.7 94.8h0.5v0.5h-0.5zM217.7 94.8h0.5v0.5h-0.5zM218.7 94.8h2v0.5h-2zM221.2 94.8h35v0.5h-35zM256.7 94.8h0.5v0.5h-0.5zM257.7 94.8h0.5v0.5h-0.5zM259.7 94.8h1v0.5h-1zM213.2 95.3h1v0.5h-1zM215.7 95.3h0.5v0.5h-0.5zM216.7 95.3h0.5v0.5h-0.5zM217.7 95.3h1v0.5h-1zM219.2 95.3h39.5v0.5h-39.5zM260.2 95.3h0.5v0.5h-0.5zM214.2 95.8h1v0.5h-1zM215.7 95.8h1v0.5h-1zM218.7 95.8h0.5v0.5h-0.5zM220.2 95.8h36.5v0.5h-36.5zM257.2 95.8h0.5v0.5h-0.5zM258.7 95.8h0.5v0.5h-0.5zM213.2 96.3h0.5v0.5h-0.5zM215.2 96.3h0.5v0.5h-0.5zM216.2 96.3h0.5v0.5h-0.5zM217.2 96.3h0.5v0.5h-0.5zM218.7 96.3h0.5v0.5h-0.5zM219.7 96.3h2v0.5h-2zM222.2 96.3h2.5v0.5h-2.5zM225.2 96.3h32.5v0.5h-32.5zM213.2 96.8h0.5v0.5h-0.5zM214.7 96.8h0.5v0.5h-0.5zM215.7 96.8h2v0.5h-2zM218.2 96.8h0.5v0.5h-0.5zM219.7 96.8h0.5v0.5h-0.5zM221.2 96.8h0.5v0.5h-0.5zM222.2 96.8h1.5v0.5h-1.5zM224.2 96.8h32.5v0.5h-32.5zM257.2 96.8h1v0.5h-1zM258.7 96.8h0.5v0.5h-0.5zM259.7 96.8h0.5v0.5h-0.5zM214.2 97.3h0.5v0.5h-0.5zM215.2 97.3h1v0.5h-1zM218.7 97.3h1v0.5h-1zM221.2 97.3h1v0.5h-1zM222.7 97.3h0.5v0.5h-0.5zM223.7 97.3h33.5v0.5h-33.5zM257.7 97.3h0.5v0.5h-0.5zM259.2 97.3h0.5v0.5h-0.5zM214.7 97.8h0.5v0.5h-0.5zM215.7 97.8h0.5v0.5h-0.5zM220.7 97.8h1v0.5h-1zM222.7 97.8h1v0.5h-1zM224.2 97.8h34.5v0.5h-34.5zM214.7 98.3h1.5v0.5h-1.5zM217.2 98.3h1v0.5h-1zM219.7 98.3h0.5v0.5h-0.5zM220.7 98.3h0.5v0.5h-0.5zM221.7 98.3h35v0.5h-35zM257.2 98.3h0.5v0.5h-0.5zM259.7 98.3h0.5v0.5h-0.5zM260.7 98.3h0.5v0.5h-0.5zM213.2 98.8h0.5v0.5h-0.5zM216.2 98.8h0.5v0.5h-0.5zM217.7 98.8h1v0.5h-1zM219.2 98.8h1.5v0.5h-1.5zM221.2 98.8h2v0.5h-2zM224.2 98.8h33.5v0.5h-33.5zM214.2 99.3h0.5v0.5h-0.5zM219.7 99.3h1v0.5h-1zM221.2 99.3h1.5v0.5h-1.5zM223.7 99.3h32.5v0.5h-32.5zM257.2 99.3h0.5v0.5h-0.5zM259.7 99.3h0.5v0.5h-0.5zM215.2 99.8h0.5v0.5h-0.5zM216.7 99.8h0.5v0.5h-0.5zM217.7 99.8h0.5v0.5h-0.5zM219.2 99.8h2.5v0.5h-2.5zM222.2 99.8h0.5v0.5h-0.5zM223.2 99.8h33v0.5h-33zM259.2 99.8h0.5v0.5h-0.5zM214.2 100.3h0.5v0.5h-0.5zM215.7 100.3h0.5v0.5h-0.5zM218.7 100.3h0.5v0.5h-0.5zM219.7 100.3h0.5v0.5h-0.5zM220.7 100.3h0.5v0.5h-0.5zM222.7 100.3h1.5v0.5h-1.5zM224.7 100.3h33v0.5h-33zM259.7 100.3h0.5v0.5h-0.5zM214.7 100.8h0.5v0.5h-0.5zM216.2 100.8h0.5v0.5h-0.5zM218.2 100.8h1v0.5h-1zM220.7 100.8h1v0.5h-1zM222.2 100.8h0.5v0.5h-0.5zM223.2 100.8h34v0.5h-34zM258.7 100.8h0.5v0.5h-0.5zM214.7 101.3h0.5v0.5h-0.5zM216.2 101.3h1v0.5h-1zM219.7 101.3h0.5v0.5h-0.5zM221.7 101.3h1v0.5h-1zM223.2 101.3h1v0.5h-1zM224.7 101.3h0.5v0.5h-0.5zM225.7 101.3h29v0.5h-29zM255.7 101.3h2.5v0.5h-2.5zM258.7 101.3h0.5v0.5h-0.5zM214.2 101.8h0.5v0.5h-0.5zM215.2 101.8h0.5v0.5h-0.5zM217.7 101.8h0.5v0.5h-0.5zM219.2 101.8h0.5v0.5h-0.5zM220.7 101.8h0.5v0.5h-0.5zM221.7 101.8h2v0.5h-2zM224.7 101.8h31v0.5h-31zM256.2 101.8h0.5v0.5h-0.5zM257.2 101.8h0.5v0.5h-0.5zM258.2 101.8h0.5v0.5h-0.5zM213.2 102.3h0.5v0.5h-0.5zM215.7 102.3h0.5v0.5h-0.5zM217.2 102.3h0.5v0.5h-0.5zM219.2 102.3h1.5v0.5h-1.5zM221.2 102.3h0.5v0.5h-0.5zM222.2 102.3h2v0.5h-2zM225.2 102.3h29v0.5h-29zM254.7 102.3h3.5v0.5h-3.5zM217.2 102.8h2v0.5h-2zM219.7 102.8h0.5v0.5h-0.5zM220.7 102.8h1v0.5h-1zM223.7 102.8h1v0.5h-1zM225.2 102.8h0.5v0.5h-0.5zM226.2 102.8h30.5v0.5h-30.5zM257.7 102.8h1v0.5h-1zM216.2 103.3h0.5v0.5h-0.5zM219.7 103.3h0.5v0.5h-0.5zM222.7 103.3h34v0.5h-34zM257.2 103.3h1v0.5h-1zM214.7 103.8h0.5v0.5h-0.5zM218.7 103.8h0.5v0.5h-0.5zM220.7 103.8h0.5v0.5h-0.5zM222.7 103.8h0.5v0.5h-0.5zM223.7 103.8h0.5v0.5h-0.5zM227.2 103.8h29v0.5h-29zM256.7 103.8h2v0.5h-2zM216.7 104.3h0.5v0.5h-0.5zM218.7 104.3h0.5v0.5h-0.5zM220.2 104.3h0.5v0.5h-0.5zM221.2 104.3h0.5v0.5h-0.5zM222.2 104.3h0.5v0.5h-0.5zM223.2 104.3h0.5v0.5h-0.5zM225.2 104.3h1v0.5h-1zM227.2 104.3h29.5v0.5h-29.5zM260.2 104.3h0.5v0.5h-0.5zM214.7 104.8h0.5v0.5h-0.5zM218.7 104.8h1v0.5h-1zM220.2 104.8h0.5v0.5h-0.5zM221.7 104.8h0.5v0.5h-0.5zM222.7 104.8h0.5v0.5h-0.5zM224.7 104.8h2v0.5h-2zM227.2 104.8h0.5v0.5h-0.5zM228.2 104.8h0.5v0.5h-0.5zM229.2 104.8h27.5v0.5h-27.5zM257.2 104.8h0.5v0.5h-0.5zM215.7 105.3h0.5v0.5h-0.5zM220.2 105.3h0.5v0.5h-0.5zM223.7 105.3h0.5v0.5h-0.5zM225.2 105.3h32v0.5h-32zM258.7 105.3h0.5v0.5h-0.5zM213.2 105.8h0.5v0.5h-0.5zM214.2 105.8h0.5v0.5h-0.5zM215.2 105.8h0.5v0.5h-0.5zM218.7 105.8h1v0.5h-1zM220.2 105.8h0.5v0.5h-0.5zM221.2 105.8h0.5v0.5h-0.5zM224.2 105.8h0.5v0.5h-0.5zM225.2 105.8h0.5v0.5h-0.5zM226.2 105.8h1.5v0.5h-1.5zM228.2 105.8h1v0.5h-1zM229.7 105.8h0.5v0.5h-0.5zM230.7 105.8h27v0.5h-27zM213.7 106.3h0.5v0.5h-0.5zM215.7 106.3h0.5v0.5h-0.5zM217.7 106.3h0.5v0.5h-0.5zM220.2 106.3h0.5v0.5h-0.5zM221.2 106.3h0.5v0.5h-0.5zM223.7 106.3h2.5v0.5h-2.5zM226.7 106.3h0.5v0.5h-0.5zM227.7 106.3h0.5v0.5h-0.5zM228.7 106.3h1v0.5h-1zM230.2 106.3h26v0.5h-26zM256.7 106.3h1.5v0.5h-1.5zM259.7 106.3h0.5v0.5h-0.5zM260.7 106.3h0.5v0.5h-0.5zM213.7 106.8h0.5v0.5h-0.5zM216.2 106.8h0.5v0.5h-0.5zM217.7 106.8h1v0.5h-1zM223.2 106.8h2v0.5h-2zM225.7 106.8h1.5v0.5h-1.5zM227.7 106.8h0.5v0.5h-0.5zM228.7 106.8h26.5v0.5h-26.5zM255.7 106.8h0.5v0.5h-0.5zM257.2 106.8h1.5v0.5h-1.5zM217.2 107.3h0.5v0.5h-0.5zM218.2 107.3h0.5v0.5h-0.5zM223.2 107.3h0.5v0.5h-0.5zM226.7 107.3h0.5v0.5h-0.5zM228.2 107.3h1.5v0.5h-1.5zM230.7 107.3h25.5v0.5h-25.5zM258.7 107.3h0.5v0.5h-0.5zM214.2 107.8h0.5v0.5h-0.5zM215.7 107.8h0.5v0.5h-0.5zM218.7 107.8h1v0.5h-1zM225.7 107.8h0.5v0.5h-0.5zM226.7 107.8h1v0.5h-1zM229.2 107.8h0.5v0.5h-0.5zM230.2 107.8h23.5v0.5h-23.5zM254.2 107.8h1v0.5h-1zM255.7 107.8h1v0.5h-1zM257.7 107.8h1v0.5h-1zM213.7 108.3h1v0.5h-1zM215.2 108.3h0.5v0.5h-0.5zM221.7 108.3h1.5v0.5h-1.5zM225.2 108.3h0.5v0.5h-0.5zM227.7 108.3h1v0.5h-1zM229.2 108.3h26v0.5h-26zM255.7 108.3h2v0.5h-2zM214.7 108.8h1.5v0.5h-1.5zM216.7 108.8h0.5v0.5h-0.5zM218.2 108.8h0.5v0.5h-0.5zM219.2 108.8h0.5v0.5h-0.5zM222.2 108.8h0.5v0.5h-0.5zM224.7 108.8h0.5v0.5h-0.5zM226.7 108.8h0.5v0.5h-0.5zM227.7 108.8h0.5v0.5h-0.5zM228.7 108.8h0.5v0.5h-0.5zM230.7 108.8h27v0.5h-27zM258.7 108.8h0.5v0.5h-0.5zM259.7 108.8h0.5v0.5h-0.5zM215.2 109.3h0.5v0.5h-0.5zM217.7 109.3h1v0.5h-1zM221.2 109.3h1.5v0.5h-1.5zM226.7 109.3h0.5v0.5h-0.5zM228.2 109.3h1v0.5h-1zM229.7 109.3h1v0.5h-1zM231.2 109.3h23v0.5h-23zM254.7 109.3h2v0.5h-2zM257.2 109.3h1v0.5h-1zM214.2 109.8h0.5v0.5h-0.5zM215.2 109.8h1.5v0.5h-1.5zM220.7 109.8h0.5v0.5h-0.5zM222.7 109.8h0.5v0.5h-0.5zM225.2 109.8h0.5v0.5h-0.5zM226.2 109.8h2v0.5h-2zM228.7 109.8h3.5v0.5h-3.5zM232.7 109.8h22v0.5h-22zM255.2 109.8h1v0.5h-1zM257.2 109.8h1.5v0.5h-1.5zM215.2 110.3h1v0.5h-1zM219.7 110.3h0.5v0.5h-0.5zM220.7 110.3h0.5v0.5h-0.5zM226.2 110.3h0.5v0.5h-0.5zM227.2 110.3h0.5v0.5h-0.5zM228.2 110.3h0.5v0.5h-0.5zM229.2 110.3h0.5v0.5h-0.5zM230.2 110.3h0.5v0.5h-0.5zM231.2 110.3h25.5v0.5h-25.5zM257.7 110.3h0.5v0.5h-0.5zM260.7 110.3h0.5v0.5h-0.5zM261.7 110.3h0.5v0.5h-0.5zM219.7 110.8h0.5v0.5h-0.5zM226.7 110.8h0.5v0.5h-0.5zM227.7 110.8h6.5v0.5h-6.5zM234.7 110.8h21v0.5h-21zM257.2 110.8h1v0.5h-1zM258.7 110.8h1v0.5h-1zM213.2 111.3h0.5v0.5h-0.5zM214.2 111.3h1v0.5h-1zM215.7 111.3h0.5v0.5h-0.5zM220.2 111.3h0.5v0.5h-0.5zM222.7 111.3h0.5v0.5h-0.5zM224.7 111.3h1.5v0.5h-1.5zM228.2 111.3h1v0.5h-1zM230.2 111.3h1.5v0.5h-1.5zM232.2 111.3h2.5v0.5h-2.5zM235.2 111.3h21v0.5h-21zM256.7 111.3h0.5v0.5h-0.5zM217.7 111.8h0.5v0.5h-0.5zM218.7 111.8h0.5v0.5h-0.5zM220.7 111.8h0.5v0.5h-0.5zM221.7 111.8h0.5v0.5h-0.5zM227.2 111.8h0.5v0.5h-0.5zM228.2 111.8h0.5v0.5h-0.5zM229.2 111.8h0.5v0.5h-0.5zM230.2 111.8h3.5v0.5h-3.5zM234.2 111.8h20.5v0.5h-20.5zM255.2 111.8h0.5v0.5h-0.5zM256.2 111.8h1v0.5h-1zM259.2 111.8h0.5v0.5h-0.5zM216.7 112.3h0.5v0.5h-0.5zM218.2 112.3h0.5v0.5h-0.5zM222.2 112.3h0.5v0.5h-0.5zM223.7 112.3h1.5v0.5h-1.5zM225.7 112.3h0.5v0.5h-0.5zM229.7 112.3h0.5v0.5h-0.5zM230.7 112.3h2.5v0.5h-2.5zM233.7 112.3h20v0.5h-20zM254.2 112.3h2v0.5h-2zM256.7 112.3h1.5v0.5h-1.5zM215.7 112.8h0.5v0.5h-0.5zM220.2 112.8h0.5v0.5h-0.5zM222.7 112.8h0.5v0.5h-0.5zM223.7 112.8h1v0.5h-1zM228.7 112.8h0.5v0.5h-0.5zM229.7 112.8h2.5v0.5h-2.5zM232.7 112.8h22v0.5h-22zM255.2 112.8h0.5v0.5h-0.5zM256.2 112.8h1.5v0.5h-1.5zM259.2 112.8h0.5v0.5h-0.5zM213.2 113.3h0.5v0.5h-0.5zM216.2 113.3h0.5v0.5h-0.5zM218.7 113.3h0.5v0.5h-0.5zM221.7 113.3h0.5v0.5h-0.5zM223.7 113.3h0.5v0.5h-0.5zM226.7 113.3h0.5v0.5h-0.5zM228.2 113.3h0.5v0.5h-0.5zM229.2 113.3h0.5v0.5h-0.5zM233.2 113.3h0.5v0.5h-0.5zM234.2 113.3h21.5v0.5h-21.5zM213.7 113.8h0.5v0.5h-0.5zM222.2 113.8h1v0.5h-1zM223.7 113.8h0.5v0.5h-0.5zM225.2 113.8h0.5v0.5h-0.5zM226.2 113.8h1v0.5h-1zM227.7 113.8h0.5v0.5h-0.5zM228.7 113.8h0.5v0.5h-0.5zM229.7 113.8h0.5v0.5h-0.5zM231.7 113.8h1.5v0.5h-1.5zM233.7 113.8h1v0.5h-1zM235.2 113.8h21v0.5h-21zM256.7 113.8h0.5v0.5h-0.5zM257.7 113.8h0.5v0.5h-0.5zM261.2 113.8h0.5v0.5h-0.5zM213.7 114.3h0.5v0.5h-0.5zM218.2 114.3h0.5v0.5h-0.5zM224.7 114.3h0.5v0.5h-0.5zM227.2 114.3h0.5v0.5h-0.5zM228.2 114.3h0.5v0.5h-0.5zM230.7 114.3h0.5v0.5h-0.5zM231.7 114.3h1.5v0.5h-1.5zM234.2 114.3h18.5v0.5h-18.5zM253.2 114.3h1.5v0.5h-1.5zM255.2 114.3h1.5v0.5h-1.5zM257.2 114.3h0.5v0.5h-0.5zM259.2 114.3h0.5v0.5h-0.5zM213.7 114.8h0.5v0.5h-0.5zM215.2 114.8h0.5v0.5h-0.5zM219.2 114.8h0.5v0.5h-0.5zM221.7 114.8h0.5v0.5h-0.5zM222.7 114.8h1.5v0.5h-1.5zM224.7 114.8h0.5v0.5h-0.5zM226.2 114.8h0.5v0.5h-0.5zM227.2 114.8h0.5v0.5h-0.5zM232.2 114.8h1v0.5h-1zM234.7 114.8h19v0.5h-19zM254.2 114.8h2v0.5h-2zM256.7 114.8h0.5v0.5h-0.5zM260.2 114.8h0.5v0.5h-0.5zM213.2 115.3h0.5v0.5h-0.5zM214.7 115.3h0.5v0.5h-0.5zM215.7 115.3h1v0.5h-1zM217.2 115.3h0.5v0.5h-0.5zM220.7 115.3h1v0.5h-1zM222.7 115.3h0.5v0.5h-0.5zM225.7 115.3h0.5v0.5h-0.5zM228.2 115.3h1v0.5h-1zM229.7 115.3h1v0.5h-1zM231.2 115.3h2.5v0.5h-2.5zM234.2 115.3h0.5v0.5h-0.5zM235.7 115.3h19.5v0.5h-19.5zM255.7 115.3h0.5v0.5h-0.5zM256.7 115.3h1v0.5h-1zM219.2 115.8h0.5v0.5h-0.5zM220.2 115.8h0.5v0.5h-0.5zM224.2 115.8h1v0.5h-1zM227.2 115.8h1v0.5h-1zM229.7 115.8h0.5v0.5h-0.5zM230.7 115.8h0.5v0.5h-0.5zM233.2 115.8h1v0.5h-1zM235.7 115.8h0.5v0.5h-0.5zM237.2 115.8h17v0.5h-17zM254.7 115.8h1.5v0.5h-1.5zM256.7 115.8h1v0.5h-1zM213.2 116.3h0.5v0.5h-0.5zM218.2 116.3h0.5v0.5h-0.5zM219.2 116.3h0.5v0.5h-0.5zM220.7 116.3h0.5v0.5h-0.5zM224.2 116.3h1v0.5h-1zM227.2 116.3h0.5v0.5h-0.5zM229.7 116.3h0.5v0.5h-0.5zM230.7 116.3h1v0.5h-1zM232.7 116.3h0.5v0.5h-0.5zM234.2 116.3h3v0.5h-3zM237.7 116.3h18.5v0.5h-18.5zM256.7 116.3h1v0.5h-1zM258.7 116.3h0.5v0.5h-0.5z" fill="#161616" filter="url(#b)"/>
<rect x="213.20" y="44.80" width="73.40" height="72.20" stroke="#505050" stroke-width="0.8" fill="none"/>
<text x="215.10" y="119.50" font-size="2.6" text-anchor="middle" fill="#2a2a2a" font-weight="normal">10<tspan dy="-1" font-size="1.8">0</tspan></text>
<text x="212.00" y="113.80" font-size="2.6" text-anchor="end" fill="#2a2a2a" font-weight="normal">10<tspan dy="-1" font-size="1.8">0</tspan></text>
<text x="233.15" y="119.50" font-size="2.6" text-anchor="middle" fill="#2a2a2a" font-weight="normal">10<tspan dy="-1" font-size="1.8">1</tspan></text>
<text x="212.00" y="96.20" font-size="2.6" text-anchor="end" fill="#2a2a2a" font-weight="normal">10<tspan dy="-1" font-size="1.8">1</tspan></text>
<text x="251.20" y="119.50" font-size="2.6" text-anchor="middle" fill="#2a2a2a" font-weight="normal">10<tspan dy="-1" font-size="1.8">2</tspan></text>
<text x="212.00" y="78.60" font-size="2.6" text-anchor="end" fill="#2a2a2a" font-weight="normal">10<tspan dy="-1" font-size="1.8">2</tspan></text>
<text x="269.25" y="119.50" font-size="2.6" text-anchor="middle" fill="#2a2a2a" font-weight="normal">10<tspan dy="-1" font-size="1.8">3</tspan></text>
<text x="212.00" y="61.00" font-size="2.6" text-anchor="end" fill="#2a2a2a" font-weight="normal">10<tspan dy="-1" font-size="1.8">3</tspan></text>
<text x="287.30" y="119.50" font-size="2.6" text-anchor="middle" fill="#2a2a2a" font-weight="normal">10<tspan dy="-1" font-size="1.8">4</tspan></text>
<text x="212.00" y="43.40" font-size="2.6" text-anchor="end" fill="#2a2a2a" font-weight="normal">10<tspan dy="-1" font-size="1.8">4</tspan></text>
<text x="248.95" y="123.40" font-size="2.9" text-anchor="middle" fill="#2a2a2a">CD94 FITC</text>
<text transform="translate(208.20 80.18) rotate(-90)" font-size="2.9" text-anchor="middle" fill="#2a2a2a">CD117 PE</text>
<text x="216.20" y="55.00" font-size="10.3" text-anchor="start" fill="#111" >5%</text>
<rect x="313.20" y="62.20" width="16.30" height="51.80" stroke="#444" stroke-width="0.55" fill="none"/>
<path d="M320.2 69.3h0.5v0.5h-0.5zM341.7 69.8h0.5v0.5h-0.5zM323.2 70.3h0.5v0.5h-0.5zM325.2 70.3h0.5v0.5h-0.5zM318.2 71.3h1v0.5h-1zM317.2 71.8h0.5v0.5h-0.5zM319.7 71.8h0.5v0.5h-0.5zM325.7 71.8h0.5v0.5h-0.5zM343.7 71.8h0.5v0.5h-0.5zM349.7 71.8h0.5v0.5h-0.5zM317.7 72.3h0.5v0.5h-0.5zM322.2 72.3h0.5v0.5h-0.5zM337.7 72.3h0.5v0.5h-0.5zM338.7 72.3h0.5v0.5h-0.5zM347.7 72.3h0.5v0.5h-0.5zM353.7 72.3h0.5v0.5h-0.5zM317.7 72.8h0.5v0.5h-0.5zM320.7 72.8h1v0.5h-1zM325.7 72.8h0.5v0.5h-0.5zM327.2 72.8h0.5v0.5h-0.5zM340.7 72.8h0.5v0.5h-0.5zM347.7 72.8h0.5v0.5h-0.5zM349.7 72.8h0.5v0.5h-0.5zM315.7 73.3h0.5v0.5h-0.5zM317.2 73.3h1v0.5h-1zM321.2 73.3h1v0.5h-1zM323.2 73.3h0.5v0.5h-0.5zM324.2 73.3h0.5v0.5h-0.5zM327.2 73.3h0.5v0.5h-0.5zM329.2 73.3h0.5v0.5h-0.5zM335.7 73.3h0.5v0.5h-0.5zM338.7 73.3h0.5v0.5h-0.5zM340.7 73.3h0.5v0.5h-0.5zM343.2 73.3h1v0.5h-1zM348.7 73.3h0.5v0.5h-0.5zM350.2 73.3h0.5v0.5h-0.5zM351.2 73.3h0.5v0.5h-0.5zM318.2 73.8h0.5v0.5h-0.5zM320.7 73.8h1v0.5h-1zM322.2 73.8h1.5v0.5h-1.5zM325.7 73.8h0.5v0.5h-0.5zM326.7 73.8h0.5v0.5h-0.5zM327.7 73.8h0.5v0.5h-0.5zM334.7 73.8h0.5v0.5h-0.5zM338.7 73.8h1.5v0.5h-1.5zM344.7 73.8h1v0.5h-1zM346.2 73.8h1v0.5h-1zM347.7 73.8h1v0.5h-1zM349.2 73.8h0.5v0.5h-0.5zM319.2 74.3h2v0.5h-2zM322.2 74.3h1v0.5h-1zM324.2 74.3h1.5v0.5h-1.5zM327.7 74.3h1v0.5h-1zM329.2 74.3h0.5v0.5h-0.5zM330.7 74.3h0.5v0.5h-0.5zM332.7 74.3h0.5v0.5h-0.5zM337.2 74.3h1.5v0.5h-1.5zM339.2 74.3h1v0.5h-1zM340.7 74.3h0.5v0.5h-0.5zM342.7 74.3h0.5v0.5h-0.5zM344.2 74.3h1v0.5h-1zM347.2 74.3h1v0.5h-1zM349.7 74.3h0.5v0.5h-0.5zM351.2 74.3h0.5v0.5h-0.5zM352.2 74.3h0.5v0.5h-0.5zM314.7 74.8h1v0.5h-1zM316.2 74.8h1.5v0.5h-1.5zM322.7 74.8h2v0.5h-2zM325.2 74.8h4.5v0.5h-4.5zM330.7 74.8h0.5v0.5h-0.5zM331.7 74.8h0.5v0.5h-0.5zM337.2 74.8h0.5v0.5h-0.5zM338.2 74.8h1v0.5h-1zM342.2 74.8h0.5v0.5h-0.5zM344.2 74.8h0.5v0.5h-0.5zM346.2 74.8h1v0.5h-1zM347.7 74.8h0.5v0.5h-0.5zM349.2 74.8h2v0.5h-2zM352.2 74.8h0.5v0.5h-0.5zM353.7 74.8h0.5v0.5h-0.5zM313.2 75.3h1v0.5h-1zM315.7 75.3h0.5v0.5h-0.5zM317.2 75.3h0.5v0.5h-0.5zM319.7 75.3h0.5v0.5h-0.5zM321.2 75.3h3v0.5h-3zM324.7 75.3h1.5v0.5h-1.5zM327.2 75.3h0.5v0.5h-0.5zM328.2 75.3h2.5v0.5h-2.5zM332.7 75.3h0.5v0.5h-0.5zM333.7 75.3h0.5v0.5h-0.5zM336.2 75.3h0.5v0.5h-0.5zM338.7 75.3h0.5v0.5h-0.5zM340.2 75.3h1v0.5h-1zM341.7 75.3h2v0.5h-2zM344.7 75.3h1v0.5h-1zM346.2 75.3h0.5v0.5h-0.5zM348.2 75.3h1.5v0.5h-1.5zM350.2 75.3h1.5v0.5h-1.5zM313.7 75.8h0.5v0.5h-0.5zM314.7 75.8h2.5v0.5h-2.5zM317.7 75.8h0.5v0.5h-0.5zM319.2 75.8h1v0.5h-1zM320.7 75.8h1v0.5h-1zM322.2 75.8h3.5v0.5h-3.5zM326.2 75.8h0.5v0.5h-0.5zM327.2 75.8h1v0.5h-1zM328.7 75.8h1v0.5h-1zM330.2 75.8h0.5v0.5h-0.5zM333.2 75.8h1v0.5h-1zM334.7 75.8h1.5v0.5h-1.5zM336.7 75.8h2v0.5h-2zM339.2 75.8h1.5v0.5h-1.5zM341.7 75.8h1v0.5h-1zM344.2 75.8h1v0.5h-1zM345.7 75.8h1.5v0.5h-1.5zM348.2 75.8h0.5v0.5h-0.5zM349.2 75.8h2v0.5h-2zM351.7 75.8h1v0.5h-1zM353.7 75.8h0.5v0.5h-0.5zM355.7 75.8h0.5v0.5h-0.5zM313.7 76.3h1.5v0.5h-1.5zM315.7 76.3h0.5v0.5h-0.5zM318.2 76.3h0.5v0.5h-0.5zM319.2 76.3h2.5v0.5h-2.5zM322.2 76.3h1v0.5h-1zM323.7 76.3h1.5v0.5h-1.5zM325.7 76.3h3.5v0.5h-3.5zM330.2 76.3h0.5v0.5h-0.5zM331.2 76.3h0.5v0.5h-0.5zM332.7 76.3h0.5v0.5h-0.5zM334.7 76.3h0.5v0.5h-0.5zM336.2 76.3h1v0.5h-1zM337.7 76.3h0.5v0.5h-0.5zM338.7 76.3h0.5v0.5h-0.5zM340.2 76.3h0.5v0.5h-0.5zM341.2 76.3h1v0.5h-1zM343.2 76.3h1.5v0.5h-1.5zM345.2 76.3h7v0.5h-7zM353.2 76.3h2v0.5h-2zM315.2 76.8h0.5v0.5h-0.5zM317.2 76.8h3v0.5h-3zM320.7 76.8h2v0.5h-2zM323.2 76.8h2.5v0.5h-2.5zM326.2 76.8h1v0.5h-1zM327.7 76.8h2.5v0.5h-2.5zM331.2 76.8h0.5v0.5h-0.5zM332.7 76.8h1v0.5h-1zM335.2 76.8h1v0.5h-1zM336.7 76.8h8.5v0.5h-8.5zM345.7 76.8h1v0.5h-1zM347.2 76.8h3.5v0.5h-3.5zM353.2 76.8h1v0.5h-1zM313.7 77.3h2.5v0.5h-2.5zM317.2 77.3h2v0.5h-2zM319.7 77.3h0.5v0.5h-0.5zM321.7 77.3h1v0.5h-1zM323.2 77.3h3v0.5h-3zM326.7 77.3h1v0.5h-1zM328.2 77.3h2.5v0.5h-2.5zM331.7 77.3h1v0.5h-1zM334.7 77.3h7v0.5h-7zM342.2 77.3h9.5v0.5h-9.5zM353.7 77.3h1v0.5h-1zM356.2 77.3h0.5v0.5h-0.5zM313.7 77.8h2.5v0.5h-2.5zM316.7 77.8h7v0.5h-7zM324.2 77.8h0.5v0.5h-0.5zM325.2 77.8h6v0.5h-6zM331.7 77.8h6.5v0.5h-6.5zM338.7 77.8h1.5v0.5h-1.5zM340.7 77.8h3.5v0.5h-3.5zM344.7 77.8h8v0.5h-8zM353.2 77.8h2.5v0.5h-2.5zM356.7 77.8h1v0.5h-1zM313.7 78.3h0.5v0.5h-0.5zM314.7 78.3h3.5v0.5h-3.5zM318.7 78.3h6.5v0.5h-6.5zM325.7 78.3h6v0.5h-6zM332.2 78.3h3.5v0.5h-3.5zM336.7 78.3h18.5v0.5h-18.5zM355.7 78.3h0.5v0.5h-0.5zM313.7 78.8h0.5v0.5h-0.5zM315.2 78.8h2.5v0.5h-2.5zM318.2 78.8h7.5v0.5h-7.5zM326.2 78.8h5.5v0.5h-5.5zM332.2 78.8h0.5v0.5h-0.5zM333.2 78.8h21v0.5h-21zM354.7 78.8h1v0.5h-1zM313.2 79.3h1.5v0.5h-1.5zM315.2 79.3h0.5v0.5h-0.5zM316.2 79.3h7v0.5h-7zM323.7 79.3h1v0.5h-1zM325.2 79.3h4.5v0.5h-4.5zM330.2 79.3h3.5v0.5h-3.5zM334.2 79.3h21.5v0.5h-21.5zM356.7 79.3h0.5v0.5h-0.5zM358.2 79.3h0.5v0.5h-0.5zM313.7 79.8h0.5v0.5h-0.5zM314.7 79.8h1v0.5h-1zM316.2 79.8h1v0.5h-1zM317.7 79.8h3.5v0.5h-3.5zM321.7 79.8h5v0.5h-5zM327.2 79.8h0.5v0.5h-0.5zM328.2 79.8h1v0.5h-1zM329.7 79.8h25.5v0.5h-25.5zM355.7 79.8h1v0.5h-1zM314.7 80.3h0.5v0.5h-0.5zM315.7 80.3h0.5v0.5h-0.5zM316.7 80.3h0.5v0.5h-0.5zM317.7 80.3h6v0.5h-6zM324.2 80.3h6v0.5h-6zM330.7 80.3h1v0.5h-1zM332.2 80.3h21.5v0.5h-21.5zM354.2 80.3h1v0.5h-1zM355.7 80.3h0.5v0.5h-0.5zM357.2 80.3h1v0.5h-1zM314.7 80.8h2.5v0.5h-2.5zM317.7 80.8h0.5v0.5h-0.5zM318.7 80.8h3v0.5h-3zM322.7 80.8h5v0.5h-5zM328.2 80.8h26.5v0.5h-26.5zM355.2 80.8h1v0.5h-1zM359.7 80.8h0.5v0.5h-0.5zM314.2 81.3h0.5v0.5h-0.5zM315.2 81.3h1v0.5h-1zM316.7 81.3h4.5v0.5h-4.5zM321.7 81.3h0.5v0.5h-0.5zM322.7 81.3h3.5v0.5h-3.5zM326.7 81.3h0.5v0.5h-0.5zM327.7 81.3h0.5v0.5h-0.5zM328.7 81.3h25.5v0.5h-25.5zM354.7 81.3h0.5v0.5h-0.5zM355.7 81.3h1v0.5h-1zM357.2 81.3h0.5v0.5h-0.5zM359.2 81.3h0.5v0.5h-0.5zM313.2 81.8h1v0.5h-1zM314.7 81.8h4.5v0.5h-4.5zM320.2 81.8h6v0.5h-6zM326.7 81.8h28.5v0.5h-28.5zM356.2 81.8h0.5v0.5h-0.5zM313.2 82.3h3.5v0.5h-3.5zM317.2 82.3h2.5v0.5h-2.5zM320.2 82.3h34.5v0.5h-34.5zM355.2 82.3h1.5v0.5h-1.5zM359.2 82.3h0.5v0.5h-0.5zM360.2 82.3h0.5v0.5h-0.5zM313.2 82.8h0.5v0.5h-0.5zM314.2 82.8h0.5v0.5h-0.5zM315.2 82.8h1v0.5h-1zM316.7 82.8h3.5v0.5h-3.5zM320.7 82.8h8.5v0.5h-8.5zM329.7 82.8h26.5v0.5h-26.5zM357.2 82.8h0.5v0.5h-0.5zM358.7 82.8h0.5v0.5h-0.5zM313.7 83.3h0.5v0.5h-0.5zM315.2 83.3h3v0.5h-3zM318.7 83.3h4v0.5h-4zM323.7 83.3h31v0.5h-31zM355.2 83.3h1v0.5h-1zM358.2 83.3h1v0.5h-1zM360.7 83.3h0.5v0.5h-0.5zM314.2 83.8h2.5v0.5h-2.5zM317.2 83.8h5.5v0.5h-5.5zM323.2 83.8h1v0.5h-1zM324.7 83.8h1v0.5h-1zM326.2 83.8h30.5v0.5h-30.5zM358.2 83.8h0.5v0.5h-0.5zM314.2 84.3h0.5v0.5h-0.5zM315.2 84.3h1.5v0.5h-1.5zM318.2 84.3h2.5v0.5h-2.5zM321.2 84.3h3v0.5h-3zM324.7 84.3h1v0.5h-1zM326.2 84.3h29.5v0.5h-29.5zM356.2 84.3h1v0.5h-1zM357.7 84.3h0.5v0.5h-0.5zM315.2 84.8h1v0.5h-1zM316.7 84.8h1v0.5h-1zM318.7 84.8h36v0.5h-36zM355.2 84.8h1v0.5h-1zM358.7 84.8h0.5v0.5h-0.5zM315.2 85.3h7v0.5h-7zM322.7 85.3h0.5v0.5h-0.5zM324.2 85.3h7v0.5h-7zM331.7 85.3h25v0.5h-25zM313.2 85.8h1v0.5h-1zM315.2 85.8h1v0.5h-1zM316.7 85.8h0.5v0.5h-0.5zM317.7 85.8h3v0.5h-3zM321.2 85.8h8v0.5h-8zM329.7 85.8h27v0.5h-27zM357.2 85.8h0.5v0.5h-0.5zM359.7 85.8h0.5v0.5h-0.5zM313.2 86.3h3.5v0.5h-3.5zM317.7 86.3h2v0.5h-2zM320.2 86.3h2.5v0.5h-2.5zM323.2 86.3h1.5v0.5h-1.5zM325.2 86.3h31v0.5h-31zM356.7 86.3h0.5v0.5h-0.5zM358.2 86.3h1v0.5h-1zM313.2 86.8h1v0.5h-1zM314.7 86.8h1.5v0.5h-1.5zM317.2 86.8h2.5v0.5h-2.5zM320.2 86.8h0.5v0.5h-0.5zM321.2 86.8h7v0.5h-7zM328.7 86.8h26.5v0.5h-26.5zM355.7 86.8h1v0.5h-1zM359.2 86.8h0.5v0.5h-0.5zM313.7 87.3h1v0.5h-1zM315.7 87.3h9v0.5h-9zM325.2 87.3h2v0.5h-2zM327.7 87.3h28.5v0.5h-28.5zM356.7 87.3h1.5v0.5h-1.5zM313.7 87.8h1v0.5h-1zM316.2 87.8h0.5v0.5h-0.5zM317.2 87.8h5.5v0.5h-5.5zM323.2 87.8h33.5v0.5h-33.5zM357.2 87.8h0.5v0.5h-0.5zM358.2 87.8h0.5v0.5h-0.5zM313.7 88.3h1v0.5h-1zM315.2 88.3h1v0.5h-1zM316.7 88.3h0.5v0.5h-0.5zM317.7 88.3h2.5v0.5h-2.5zM320.7 88.3h3v0.5h-3zM324.2 88.3h6.5v0.5h-6.5zM331.2 88.3h25v0.5h-25zM356.7 88.3h0.5v0.5h-0.5zM359.2 88.3h0.5v0.5h-0.5zM313.2 88.8h0.5v0.5h-0.5zM315.7 88.8h1.5v0.5h-1.5zM317.7 88.8h5v0.5h-5zM323.2 88.8h33v0.5h-33zM357.7 88.8h1.5v0.5h-1.5zM313.2 89.3h0.5v0.5h-0.5zM314.2 89.3h1v0.5h-1zM316.2 89.3h6.5v0.5h-6.5zM323.2 89.3h3v0.5h-3zM326.7 89.3h1.5v0.5h-1.5zM328.7 89.3h26v0.5h-26zM355.2 89.3h2v0.5h-2zM357.7 89.3h0.5v0.5h-0.5zM360.2 89.3h0.5v0.5h-0.5zM313.7 89.8h1v0.5h-1zM316.7 89.8h9.5v0.5h-9.5zM326.7 89.8h2v0.5h-2zM329.2 89.8h26.5v0.5h-26.5zM357.2 89.8h1v0.5h-1zM359.7 89.8h0.5v0.5h-0.5zM313.7 90.3h0.5v0.5h-0.5zM314.7 90.3h1v0.5h-1zM316.2 90.3h0.5v0.5h-0.5zM317.2 90.3h0.5v0.5h-0.5zM318.2 90.3h0.5v0.5h-0.5zM319.2 90.3h3.5v0.5h-3.5zM323.2 90.3h1v0.5h-1zM324.7 90.3h1.5v0.5h-1.5zM327.2 90.3h3v0.5h-3zM330.7 90.3h27.5v0.5h-27.5zM358.7 90.3h0.5v0.5h-0.5zM313.2 90.8h0.5v0.5h-0.5zM314.2 90.8h10v0.5h-10zM324.7 90.8h0.5v0.5h-0.5zM325.7 90.8h30.5v0.5h-30.5zM356.7 90.8h1v0.5h-1zM358.7 90.8h0.5v0.5h-0.5zM313.2 91.3h2v0.5h-2zM315.7 91.3h3.5v0.5h-3.5zM319.7 91.3h4v0.5h-4zM324.2 91.3h31.5v0.5h-31.5zM356.7 91.3h1v0.5h-1zM360.7 91.3h0.5v0.5h-0.5zM313.7 91.8h0.5v0.5h-0.5zM314.7 91.8h3v0.5h-3zM318.2 91.8h3v0.5h-3zM322.2 91.8h4.5v0.5h-4.5zM327.2 91.8h3v0.5h-3zM330.7 91.8h25v0.5h-25zM356.2 91.8h1.5v0.5h-1.5zM313.7 92.3h0.5v0.5h-0.5zM315.7 92.3h2v0.5h-2zM318.2 92.3h1.5v0.5h-1.5zM320.2 92.3h1v0.5h-1zM321.7 92.3h5.5v0.5h-5.5zM327.7 92.3h27v0.5h-27zM355.2 92.3h1.5v0.5h-1.5zM357.7 92.3h1v0.5h-1zM313.2 92.8h0.5v0.5h-0.5zM315.2 92.8h2v0.5h-2zM317.7 92.8h1v0.5h-1zM319.2 92.8h3v0.5h-3zM322.7 92.8h32v0.5h-32zM355.2 92.8h1.5v0.5h-1.5zM357.2 92.8h0.5v0.5h-0.5zM358.2 92.8h0.5v0.5h-0.5zM314.7 93.3h4.5v0.5h-4.5zM319.7 93.3h5v0.5h-5zM325.2 93.3h31.5v0.5h-31.5zM357.2 93.3h0.5v0.5h-0.5zM314.2 93.8h1v0.5h-1zM316.2 93.8h10.5v0.5h-10.5zM327.2 93.8h29v0.5h-29zM356.7 93.8h0.5v0.5h-0.5zM358.2 93.8h0.5v0.5h-0.5zM359.2 93.8h0.5v0.5h-0.5zM313.7 94.3h2.5v0.5h-2.5zM316.7 94.3h6v0.5h-6zM323.2 94.3h1v0.5h-1zM324.7 94.3h0.5v0.5h-0.5zM325.7 94.3h0.5v0.5h-0.5zM326.7 94.3h2v0.5h-2zM329.2 94.3h27v0.5h-27zM357.2 94.3h1v0.5h-1zM313.2 94.8h2.5v0.5h-2.5zM316.2 94.8h6.5v0.5h-6.5zM323.2 94.8h4v0.5h-4zM327.7 94.8h27.5v0.5h-27.5zM355.7 94.8h0.5v0.5h-0.5zM356.7 94.8h1v0.5h-1zM313.2 95.3h1.5v0.5h-1.5zM315.2 95.3h1.5v0.5h-1.5zM317.2 95.3h1v0.5h-1zM318.7 95.3h2.5v0.5h-2.5zM321.7 95.3h1v0.5h-1zM323.2 95.3h4.5v0.5h-4.5zM328.2 95.3h27.5v0.5h-27.5zM356.7 95.3h0.5v0.5h-0.5zM314.2 95.8h2.5v0.5h-2.5zM317.2 95.8h6v0.5h-6zM323.7 95.8h2v0.5h-2zM326.7 95.8h6.5v0.5h-6.5zM333.7 95.8h24v0.5h-24zM358.2 95.8h0.5v0.5h-0.5zM313.2 96.3h0.5v0.5h-0.5zM315.7 96.3h1v0.5h-1zM318.7 96.3h2.5v0.5h-2.5zM321.7 96.3h5.5v0.5h-5.5zM327.7 96.3h27.5v0.5h-27.5zM357.2 96.3h1v0.5h-1zM314.7 96.8h3v0.5h-3zM318.2 96.8h1.5v0.5h-1.5zM320.2 96.8h6v0.5h-6zM326.7 96.8h2.5v0.5h-2.5zM329.7 96.8h2.5v0.5h-2.5zM332.7 96.8h23.5v0.5h-23.5zM357.2 96.8h0.5v0.5h-0.5zM358.2 96.8h1v0.5h-1zM313.7 97.3h1v0.5h-1zM315.2 97.3h0.5v0.5h-0.5zM316.2 97.3h0.5v0.5h-0.5zM317.2 97.3h4v0.5h-4zM321.7 97.3h1.5v0.5h-1.5zM324.2 97.3h2.5v0.5h-2.5zM327.2 97.3h6.5v0.5h-6.5zM334.2 97.3h20.5v0.5h-20.5zM355.2 97.3h3v0.5h-3zM358.7 97.3h1v0.5h-1zM313.2 97.8h6v0.5h-6zM319.7 97.8h10.5v0.5h-10.5zM330.7 97.8h3v0.5h-3zM334.2 97.8h21.5v0.5h-21.5zM356.2 97.8h1.5v0.5h-1.5zM359.2 97.8h1.5v0.5h-1.5zM313.2 98.3h0.5v0.5h-0.5zM314.2 98.3h0.5v0.5h-0.5zM315.2 98.3h6.5v0.5h-6.5zM322.2 98.3h2.5v0.5h-2.5zM325.2 98.3h4.5v0.5h-4.5zM330.2 98.3h4v0.5h-4zM334.7 98.3h21.5v0.5h-21.5zM356.7 98.3h0.5v0.5h-0.5zM357.7 98.3h0.5v0.5h-0.5zM313.2 98.8h0.5v0.5h-0.5zM314.7 98.8h1.5v0.5h-1.5zM316.7 98.8h1v0.5h-1zM318.2 98.8h0.5v0.5h-0.5zM319.2 98.8h6v0.5h-6zM325.7 98.8h2v0.5h-2zM328.2 98.8h28.5v0.5h-28.5zM357.2 98.8h1.5v0.5h-1.5zM359.2 98.8h0.5v0.5h-0.5zM313.7 99.3h0.5v0.5h-0.5zM314.7 99.3h0.5v0.5h-0.5zM316.2 99.3h0.5v0.5h-0.5zM318.2 99.3h1v0.5h-1zM319.7 99.3h0.5v0.5h-0.5zM321.2 99.3h4.5v0.5h-4.5zM326.2 99.3h2v0.5h-2zM329.2 99.3h25.5v0.5h-25.5zM355.2 99.3h2.5v0.5h-2.5zM358.2 99.3h1v0.5h-1zM314.2 99.8h1v0.5h-1zM316.7 99.8h7v0.5h-7zM324.2 99.8h0.5v0.5h-0.5zM325.2 99.8h32v0.5h-32zM357.7 99.8h1v0.5h-1zM314.7 100.3h1.5v0.5h-1.5zM316.7 100.3h1v0.5h-1zM318.2 100.3h0.5v0.5h-0.5zM319.2 100.3h0.5v0.5h-0.5zM320.2 100.3h0.5v0.5h-0.5zM321.2 100.3h3v0.5h-3zM324.7 100.3h7v0.5h-7zM332.2 100.3h2.5v0.5h-2.5zM335.2 100.3h20.5v0.5h-20.5zM356.2 100.3h0.5v0.5h-0.5zM313.7 100.8h0.5v0.5h-0.5zM315.2 100.8h2v0.5h-2zM317.7 100.8h2v0.5h-2zM320.2 100.8h2.5v0.5h-2.5zM323.2 100.8h32v0.5h-32zM355.7 100.8h3v0.5h-3zM359.7 100.8h0.5v0.5h-0.5zM313.2 101.3h0.5v0.5h-0.5zM315.2 101.3h0.5v0.5h-0.5zM317.7 101.3h1.5v0.5h-1.5zM319.7 101.3h1.5v0.5h-1.5zM321.7 101.3h10.5v0.5h-10.5zM332.7 101.3h23v0.5h-23zM356.2 101.3h1v0.5h-1zM313.2 101.8h0.5v0.5h-0.5zM314.2 101.8h0.5v0.5h-0.5zM315.2 101.8h1.5v0.5h-1.5zM318.7 101.8h0.5v0.5h-0.5zM320.2 101.8h4v0.5h-4zM324.7 101.8h0.5v0.5h-0.5zM325.7 101.8h1v0.5h-1zM327.2 101.8h2.5v0.5h-2.5zM330.2 101.8h3.5v0.5h-3.5zM334.2 101.8h23v0.5h-23zM358.7 101.8h0.5v0.5h-0.5zM313.7 102.3h0.5v0.5h-0.5zM316.7 102.3h0.5v0.5h-0.5zM317.7 102.3h0.5v0.5h-0.5zM318.7 102.3h1v0.5h-1zM320.2 102.3h0.5v0.5h-0.5zM321.7 102.3h1v0.5h-1zM323.7 102.3h8v0.5h-8zM332.2 102.3h23.5v0.5h-23.5zM356.2 102.3h0.5v0.5h-0.5zM357.2 102.3h0.5v0.5h-0.5zM359.7 102.3h0.5v0.5h-0.5zM314.7 102.8h0.5v0.5h-0.5zM315.7 102.8h0.5v0.5h-0.5zM317.7 102.8h0.5v0.5h-0.5zM318.7 102.8h1.5v0.5h-1.5zM321.2 102.8h0.5v0.5h-0.5zM322.2 102.8h1v0.5h-1zM323.7 102.8h2v0.5h-2zM326.7 102.8h2.5v0.5h-2.5zM329.7 102.8h2v0.5h-2zM332.2 102.8h25.5v0.5h-25.5zM358.7 102.8h0.5v0.5h-0.5zM359.7 102.8h0.5v0.5h-0.5zM313.7 103.3h0.5v0.5h-0.5zM314.7 103.3h1.5v0.5h-1.5zM318.2 103.3h0.5v0.5h-0.5zM319.7 103.3h1v0.5h-1zM321.2 103.3h0.5v0.5h-0.5zM322.7 103.3h0.5v0.5h-0.5zM323.7 103.3h1.5v0.5h-1.5zM325.7 103.3h9.5v0.5h-9.5zM335.7 103.3h23.5v0.5h-23.5zM359.7 103.3h0.5v0.5h-0.5zM314.2 103.8h0.5v0.5h-0.5zM315.7 103.8h0.5v0.5h-0.5zM316.7 103.8h2v0.5h-2zM320.2 103.8h0.5v0.5h-0.5zM321.7 103.8h5v0.5h-5zM327.2 103.8h2.5v0.5h-2.5zM330.2 103.8h24v0.5h-24zM354.7 103.8h2v0.5h-2zM357.7 103.8h0.5v0.5h-0.5zM314.2 104.3h0.5v0.5h-0.5zM317.2 104.3h1v0.5h-1zM318.7 104.3h0.5v0.5h-0.5zM319.7 104.3h1.5v0.5h-1.5zM321.7 104.3h2v0.5h-2zM325.7 104.3h1v0.5h-1zM327.7 104.3h3.5v0.5h-3.5zM331.7 104.3h24v0.5h-24zM356.2 104.3h0.5v0.5h-0.5zM357.2 104.3h0.5v0.5h-0.5zM313.7 104.8h2v0.5h-2zM318.2 104.8h0.5v0.5h-0.5zM319.2 104.8h3v0.5h-3zM322.7 104.8h0.5v0.5h-0.5zM323.7 104.8h0.5v0.5h-0.5zM326.2 104.8h1v0.5h-1zM327.7 104.8h29v0.5h-29zM357.7 104.8h1.5v0.5h-1.5zM362.2 104.8h0.5v0.5h-0.5zM314.2 105.3h0.5v0.5h-0.5zM315.2 105.3h0.5v0.5h-0.5zM317.2 105.3h1v0.5h-1zM319.2 105.3h1v0.5h-1zM321.2 105.3h0.5v0.5h-0.5zM322.7 105.3h1v0.5h-1zM324.2 105.3h0.5v0.5h-0.5zM325.2 105.3h1v0.5h-1zM326.7 105.3h1.5v0.5h-1.5zM328.7 105.3h0.5v0.5h-0.5zM329.7 105.3h1v0.5h-1zM331.2 105.3h24.5v0.5h-24.5zM356.2 105.3h0.5v0.5h-0.5zM357.2 105.3h0.5v0.5h-0.5zM358.7 105.3h0.5v0.5h-0.5zM313.7 105.8h0.5v0.5h-0.5zM314.7 105.8h2.5v0.5h-2.5zM318.2 105.8h0.5v0.5h-0.5zM319.2 105.8h0.5v0.5h-0.5zM320.2 105.8h2.5v0.5h-2.5zM323.7 105.8h0.5v0.5h-0.5zM324.7 105.8h0.5v0.5h-0.5zM325.7 105.8h29v0.5h-29zM355.2 105.8h2.5v0.5h-2.5zM359.7 105.8h0.5v0.5h-0.5zM360.7 105.8h0.5v0.5h-0.5zM313.2 106.3h2.5v0.5h-2.5zM318.7 106.3h1v0.5h-1zM320.2 106.3h1.5v0.5h-1.5zM322.2 106.3h1.5v0.5h-1.5zM325.2 106.3h0.5v0.5h-0.5zM326.2 106.3h1v0.5h-1zM328.2 106.3h1v0.5h-1zM329.7 106.3h2v0.5h-2zM332.2 106.3h2v0.5h-2zM334.7 106.3h20v0.5h-20zM355.2 106.3h1.5v0.5h-1.5zM359.2 106.3h0.5v0.5h-0.5zM313.2 106.8h2.5v0.5h-2.5zM316.2 106.8h0.5v0.5h-0.5zM317.2 106.8h0.5v0.5h-0.5zM318.2 106.8h0.5v0.5h-0.5zM319.7 106.8h0.5v0.5h-0.5zM320.7 106.8h1v0.5h-1zM323.7 106.8h0.5v0.5h-0.5zM324.7 106.8h0.5v0.5h-0.5zM325.7 106.8h0.5v0.5h-0.5zM326.7 106.8h0.5v0.5h-0.5zM328.7 106.8h2.5v0.5h-2.5zM332.2 106.8h26v0.5h-26zM313.2 107.3h1v0.5h-1zM316.7 107.3h1v0.5h-1zM318.2 107.3h0.5v0.5h-0.5zM319.2 107.3h0.5v0.5h-0.5zM320.7 107.3h0.5v0.5h-0.5zM321.7 107.3h0.5v0.5h-0.5zM322.7 107.3h0.5v0.5h-0.5zM324.7 107.3h1v0.5h-1zM326.7 107.3h0.5v0.5h-0.5zM327.7 107.3h0.5v0.5h-0.5zM329.2 107.3h4.5v0.5h-4.5zM334.2 107.3h22v0.5h-22zM356.7 107.3h0.5v0.5h-0.5zM357.7 107.3h0.5v0.5h-0.5zM358.7 107.3h0.5v0.5h-0.5zM313.2 107.8h0.5v0.5h-0.5zM314.7 107.8h0.5v0.5h-0.5zM315.7 107.8h3v0.5h-3zM319.2 107.8h0.5v0.5h-0.5zM320.7 107.8h1v0.5h-1zM323.2 107.8h0.5v0.5h-0.5zM324.2 107.8h0.5v0.5h-0.5zM325.2 107.8h1v0.5h-1zM327.7 107.8h2v0.5h-2zM330.2 107.8h1.5v0.5h-1.5zM332.2 107.8h0.5v0.5h-0.5zM333.7 107.8h22v0.5h-22zM356.2 107.8h1.5v0.5h-1.5zM358.2 107.8h0.5v0.5h-0.5zM313.2 108.3h0.5v0.5h-0.5zM314.2 108.3h3v0.5h-3zM317.7 108.3h1v0.5h-1zM319.7 108.3h0.5v0.5h-0.5zM320.7 108.3h1v0.5h-1zM322.7 108.3h0.5v0.5h-0.5zM324.2 108.3h0.5v0.5h-0.5zM325.2 108.3h1v0.5h-1zM326.7 108.3h0.5v0.5h-0.5zM329.7 108.3h3v0.5h-3zM333.2 108.3h0.5v0.5h-0.5zM334.2 108.3h21.5v0.5h-21.5zM356.2 108.3h1v0.5h-1zM358.2 108.3h0.5v0.5h-0.5zM359.2 108.3h0.5v0.5h-0.5zM315.2 108.8h0.5v0.5h-0.5zM316.2 108.8h0.5v0.5h-0.5zM317.2 108.8h3v0.5h-3zM320.7 108.8h1.5v0.5h-1.5zM323.7 108.8h0.5v0.5h-0.5zM324.7 108.8h0.5v0.5h-0.5zM327.2 108.8h0.5v0.5h-0.5zM328.7 108.8h1v0.5h-1zM330.2 108.8h2v0.5h-2zM333.2 108.8h0.5v0.5h-0.5zM334.2 108.8h0.5v0.5h-0.5zM335.2 108.8h20.5v0.5h-20.5zM356.2 108.8h2v0.5h-2zM313.7 109.3h0.5v0.5h-0.5zM314.7 109.3h1v0.5h-1zM316.7 109.3h1v0.5h-1zM322.7 109.3h0.5v0.5h-0.5zM323.7 109.3h0.5v0.5h-0.5zM324.7 109.3h1v0.5h-1zM326.7 109.3h1v0.5h-1zM328.2 109.3h0.5v0.5h-0.5zM329.7 109.3h0.5v0.5h-0.5zM330.7 109.3h0.5v0.5h-0.5zM331.7 109.3h2.5v0.5h-2.5zM334.7 109.3h22v0.5h-22zM357.2 109.3h0.5v0.5h-0.5zM360.2 109.3h0.5v0.5h-0.5zM313.2 109.8h0.5v0.5h-0.5zM314.7 109.8h1.5v0.5h-1.5zM316.7 109.8h0.5v0.5h-0.5zM317.7 109.8h1v0.5h-1zM320.2 109.8h1v0.5h-1zM321.7 109.8h0.5v0.5h-0.5zM324.2 109.8h2v0.5h-2zM327.2 109.8h0.5v0.5h-0.5zM328.2 109.8h5v0.5h-5zM333.7 109.8h0.5v0.5h-0.5zM334.7 109.8h2.5v0.5h-2.5zM337.7 109.8h18v0.5h-18zM356.2 109.8h0.5v0.5h-0.5zM357.7 109.8h0.5v0.5h-0.5zM313.2 110.3h0.5v0.5h-0.5zM314.7 110.3h0.5v0.5h-0.5zM315.7 110.3h0.5v0.5h-0.5zM316.7 110.3h1v0.5h-1zM320.2 110.3h0.5v0.5h-0.5zM321.2 110.3h0.5v0.5h-0.5zM322.2 110.3h1v0.5h-1zM323.7 110.3h0.5v0.5h-0.5zM324.7 110.3h1v0.5h-1zM328.7 110.3h3.5v0.5h-3.5zM333.2 110.3h1v0.5h-1zM335.2 110.3h19.5v0.5h-19.5zM355.2 110.3h0.5v0.5h-0.5zM358.7 110.3h0.5v0.5h-0.5zM314.2 110.8h3v0.5h-3zM317.7 110.8h1v0.5h-1zM319.2 110.8h1v0.5h-1zM321.2 110.8h0.5v0.5h-0.5zM322.7 110.8h1v0.5h-1zM324.7 110.8h4v0.5h-4zM329.7 110.8h3v0.5h-3zM334.2 110.8h0.5v0.5h-0.5zM335.2 110.8h22v0.5h-22zM357.7 110.8h0.5v0.5h-0.5zM358.7 110.8h0.5v0.5h-0.5zM313.2 111.3h1v0.5h-1zM314.7 111.3h1v0.5h-1zM316.7 111.3h0.5v0.5h-0.5zM318.7 111.3h2v0.5h-2zM322.7 111.3h1.5v0.5h-1.5zM324.7 111.3h0.5v0.5h-0.5zM328.2 111.3h0.5v0.5h-0.5zM329.2 111.3h3.5v0.5h-3.5zM333.2 111.3h23v0.5h-23zM356.7 111.3h0.5v0.5h-0.5zM360.7 111.3h0.5v0.5h-0.5zM313.2 111.8h0.5v0.5h-0.5zM314.7 111.8h3v0.5h-3zM318.2 111.8h0.5v0.5h-0.5zM319.2 111.8h0.5v0.5h-0.5zM320.2 111.8h2v0.5h-2zM322.7 111.8h0.5v0.5h-0.5zM324.2 111.8h0.5v0.5h-0.5zM325.7 111.8h1v0.5h-1zM328.2 111.8h2v0.5h-2zM330.7 111.8h2.5v0.5h-2.5zM334.2 111.8h21v0.5h-21zM356.7 111.8h0.5v0.5h-0.5zM357.7 111.8h1.5v0.5h-1.5zM313.2 112.3h0.5v0.5h-0.5zM314.2 112.3h0.5v0.5h-0.5zM316.2 112.3h1v0.5h-1zM318.7 112.3h0.5v0.5h-0.5zM319.7 112.3h0.5v0.5h-0.5zM320.7 112.3h1v0.5h-1zM324.2 112.3h2v0.5h-2zM328.2 112.3h2v0.5h-2zM330.7 112.3h0.5v0.5h-0.5zM331.7 112.3h0.5v0.5h-0.5zM333.7 112.3h1.5v0.5h-1.5zM335.7 112.3h20.5v0.5h-20.5zM356.7 112.3h0.5v0.5h-0.5zM358.2 112.3h0.5v0.5h-0.5zM313.7 112.8h1.5v0.5h-1.5zM315.7 112.8h0.5v0.5h-0.5zM316.7 112.8h0.5v0.5h-0.5zM320.2 112.8h1.5v0.5h-1.5zM322.2 112.8h0.5v0.5h-0.5zM323.2 112.8h0.5v0.5h-0.5zM325.2 112.8h1.5v0.5h-1.5zM329.2 112.8h2v0.5h-2zM331.7 112.8h1v0.5h-1zM333.2 112.8h0.5v0.5h-0.5zM335.2 112.8h1v0.5h-1zM336.7 112.8h17v0.5h-17zM354.2 112.8h0.5v0.5h-0.5zM355.7 112.8h1.5v0.5h-1.5zM357.7 112.8h0.5v0.5h-0.5zM314.2 113.3h1v0.5h-1zM316.2 113.3h0.5v0.5h-0.5zM317.2 113.3h0.5v0.5h-0.5zM318.2 113.3h1v0.5h-1zM320.2 113.3h0.5v0.5h-0.5zM321.7 113.3h0.5v0.5h-0.5zM322.7 113.3h0.5v0.5h-0.5zM323.7 113.3h1v0.5h-1zM326.7 113.3h0.5v0.5h-0.5zM327.7 113.3h0.5v0.5h-0.5zM330.2 113.3h2.5v0.5h-2.5zM333.2 113.3h0.5v0.5h-0.5zM334.2 113.3h1v0.5h-1zM335.7 113.3h21.5v0.5h-21.5zM313.7 113.8h0.5v0.5h-0.5zM316.2 113.8h0.5v0.5h-0.5zM317.2 113.8h0.5v0.5h-0.5zM318.7 113.8h1v0.5h-1zM320.7 113.8h0.5v0.5h-0.5zM322.2 113.8h1v0.5h-1zM325.7 113.8h1.5v0.5h-1.5zM328.7 113.8h1v0.5h-1zM330.7 113.8h0.5v0.5h-0.5zM331.7 113.8h1v0.5h-1zM333.7 113.8h1v0.5h-1zM335.2 113.8h18.5v0.5h-18.5zM355.2 113.8h2v0.5h-2zM358.7 113.8h0.5v0.5h-0.5zM313.2 114.3h0.5v0.5h-0.5zM314.2 114.3h0.5v0.5h-0.5zM315.2 114.3h0.5v0.5h-0.5zM316.7 114.3h1v0.5h-1zM320.7 114.3h0.5v0.5h-0.5zM322.7 114.3h2.5v0.5h-2.5zM326.2 114.3h2.5v0.5h-2.5zM329.2 114.3h0.5v0.5h-0.5zM330.7 114.3h0.5v0.5h-0.5zM332.7 114.3h1v0.5h-1zM334.2 114.3h0.5v0.5h-0.5zM335.2 114.3h19.5v0.5h-19.5zM355.2 114.3h1v0.5h-1zM356.7 114.3h0.5v0.5h-0.5zM357.7 114.3h0.5v0.5h-0.5zM358.7 114.3h0.5v0.5h-0.5zM359.7 114.3h0.5v0.5h-0.5zM313.2 114.8h0.5v0.5h-0.5zM314.2 114.8h1v0.5h-1zM316.7 114.8h0.5v0.5h-0.5zM319.2 114.8h1v0.5h-1zM322.7 114.8h2.5v0.5h-2.5zM325.7 114.8h2v0.5h-2zM328.2 114.8h0.5v0.5h-0.5zM331.2 114.8h0.5v0.5h-0.5zM332.2 114.8h1v0.5h-1zM334.2 114.8h20.5v0.5h-20.5zM355.2 114.8h1v0.5h-1zM356.7 114.8h0.5v0.5h-0.5zM358.2 114.8h0.5v0.5h-0.5zM359.2 114.8h0.5v0.5h-0.5zM313.2 115.3h0.5v0.5h-0.5zM314.2 115.3h0.5v0.5h-0.5zM315.7 115.3h1v0.5h-1zM317.2 115.3h1v0.5h-1zM318.7 115.3h1v0.5h-1zM320.7 115.3h1v0.5h-1zM323.2 115.3h2v0.5h-2zM326.2 115.3h0.5v0.5h-0.5zM327.7 115.3h1v0.5h-1zM329.7 115.3h1.5v0.5h-1.5zM331.7 115.3h2v0.5h-2zM334.2 115.3h22v0.5h-22zM356.7 115.3h1v0.5h-1zM358.7 115.3h1v0.5h-1zM313.2 115.8h0.5v0.5h-0.5zM314.2 115.8h0.5v0.5h-0.5zM315.2 115.8h1v0.5h-1zM320.7 115.8h0.5v0.5h-0.5zM324.7 115.8h2v0.5h-2zM327.2 115.8h1v0.5h-1zM328.7 115.8h0.5v0.5h-0.5zM331.2 115.8h0.5v0.5h-0.5zM332.2 115.8h1v0.5h-1zM333.7 115.8h1v0.5h-1zM335.2 115.8h0.5v0.5h-0.5zM336.7 115.8h19v0.5h-19zM356.2 115.8h0.5v0.5h-0.5zM357.2 115.8h1v0.5h-1zM313.2 116.3h1.5v0.5h-1.5zM315.7 116.3h0.5v0.5h-0.5zM316.7 116.3h0.5v0.5h-0.5zM317.7 116.3h1v0.5h-1zM319.2 116.3h0.5v0.5h-0.5zM320.2 116.3h0.5v0.5h-0.5zM322.2 116.3h0.5v0.5h-0.5zM323.7 116.3h0.5v0.5h-0.5zM325.2 116.3h1v0.5h-1zM327.7 116.3h1v0.5h-1zM329.7 116.3h0.5v0.5h-0.5zM330.7 116.3h0.5v0.5h-0.5zM332.2 116.3h2v0.5h-2zM334.7 116.3h1v0.5h-1zM336.2 116.3h20v0.5h-20zM357.2 116.3h0.5v0.5h-0.5z" fill="#161616" filter="url(#b)"/>
<rect x="313.20" y="44.80" width="74.00" height="72.20" stroke="#505050" stroke-width="0.8" fill="none"/>
<text x="315.10" y="119.50" font-size="2.6" text-anchor="middle" fill="#2a2a2a" font-weight="normal">10<tspan dy="-1" font-size="1.8">0</tspan></text>
<text x="312.00" y="113.80" font-size="2.6" text-anchor="end" fill="#2a2a2a" font-weight="normal">10<tspan dy="-1" font-size="1.8">0</tspan></text>
<text x="333.30" y="119.50" font-size="2.6" text-anchor="middle" fill="#2a2a2a" font-weight="normal">10<tspan dy="-1" font-size="1.8">1</tspan></text>
<text x="312.00" y="96.20" font-size="2.6" text-anchor="end" fill="#2a2a2a" font-weight="normal">10<tspan dy="-1" font-size="1.8">1</tspan></text>
<text x="351.50" y="119.50" font-size="2.6" text-anchor="middle" fill="#2a2a2a" font-weight="normal">10<tspan dy="-1" font-size="1.8">2</tspan></text>
<text x="312.00" y="78.60" font-size="2.6" text-anchor="end" fill="#2a2a2a" font-weight="normal">10<tspan dy="-1" font-size="1.8">2</tspan></text>
<text x="369.70" y="119.50" font-size="2.6" text-anchor="middle" fill="#2a2a2a" font-weight="normal">10<tspan dy="-1" font-size="1.8">3</tspan></text>
<text x="312.00" y="61.00" font-size="2.6" text-anchor="end" fill="#2a2a2a" font-weight="normal">10<tspan dy="-1" font-size="1.8">3</tspan></text>
<text x="387.90" y="119.50" font-size="2.6" text-anchor="middle" fill="#2a2a2a" font-weight="normal">10<tspan dy="-1" font-size="1.8">4</tspan></text>
<text x="312.00" y="43.40" font-size="2.6" text-anchor="end" fill="#2a2a2a" font-weight="normal">10<tspan dy="-1" font-size="1.8">4</tspan></text>
<text x="349.24" y="123.40" font-size="2.9" text-anchor="middle" fill="#2a2a2a">CD94 FITC</text>
<text transform="translate(308.20 80.18) rotate(-90)" font-size="2.9" text-anchor="middle" fill="#2a2a2a">CD117 PE</text>
<text x="315.20" y="55.00" font-size="10.3" text-anchor="start" fill="#111" >2%</text>
<text x="0.20" y="172.20" font-size="17" text-anchor="start" fill="#111" >B</text>
<path d="M19.20 168.80L19.20 255.80L107.50 255.80" stroke="#222" stroke-width="0.8" fill="none"/>
<path d="M19.20 165.80l-2.1 4h4.2z" fill="#222"/>
<path d="M110.50 255.80l-4.2 -2.2v4.4z" fill="#222"/>
<text transform="translate(12.30 212.00) rotate(-90)" font-size="16.5" text-anchor="middle" fill="#111" >Ig</text>
<text x="71.30" y="271.40" font-size="16.5" text-anchor="middle" fill="#111" >Ig</text>
<path d="M33.8 212.9C43 212 53.5 207.5 55.7 199.5L55.7 168.8" stroke="#444" stroke-width="0.55" fill="none"/>
<path d="M50.3 211.3h0.5v0.5h-0.5zM53.3 215.8h0.5v0.5h-0.5zM49.8 216.3h0.5v0.5h-0.5zM48.3 216.8h0.5v0.5h-0.5zM45.3 217.3h0.5v0.5h-0.5zM35.8 217.8h0.5v0.5h-0.5zM42.3 217.8h0.5v0.5h-0.5zM35.8 218.3h0.5v0.5h-0.5zM47.8 218.8h0.5v0.5h-0.5zM35.8 219.3h0.5v0.5h-0.5zM38.3 220.3h0.5v0.5h-0.5zM40.3 220.3h0.5v0.5h-0.5zM41.8 220.3h0.5v0.5h-0.5zM43.3 220.3h0.5v0.5h-0.5zM45.3 220.3h0.5v0.5h-0.5zM40.3 220.8h0.5v0.5h-0.5zM41.3 220.8h0.5v0.5h-0.5zM42.8 220.8h0.5v0.5h-0.5zM45.8 220.8h0.5v0.5h-0.5zM51.3 220.8h0.5v0.5h-0.5zM38.3 221.3h0.5v0.5h-0.5zM39.8 221.3h0.5v0.5h-0.5zM44.3 221.3h1v0.5h-1zM47.3 221.3h0.5v0.5h-0.5zM36.8 221.8h0.5v0.5h-0.5zM37.8 221.8h0.5v0.5h-0.5zM45.3 221.8h0.5v0.5h-0.5zM47.3 221.8h1v0.5h-1zM55.3 221.8h0.5v0.5h-0.5zM35.8 222.3h0.5v0.5h-0.5zM37.8 222.3h0.5v0.5h-0.5zM40.3 222.3h1v0.5h-1zM42.3 222.3h1v0.5h-1zM44.3 222.3h0.5v0.5h-0.5zM45.3 222.3h1v0.5h-1zM48.3 222.3h0.5v0.5h-0.5zM53.3 222.3h0.5v0.5h-0.5zM37.3 222.8h1v0.5h-1zM38.8 222.8h0.5v0.5h-0.5zM40.3 222.8h2v0.5h-2zM42.8 222.8h2v0.5h-2zM45.8 222.8h0.5v0.5h-0.5zM46.8 222.8h1.5v0.5h-1.5zM49.8 222.8h0.5v0.5h-0.5zM36.3 223.3h0.5v0.5h-0.5zM40.3 223.3h1.5v0.5h-1.5zM42.8 223.3h0.5v0.5h-0.5zM43.8 223.3h0.5v0.5h-0.5zM45.8 223.3h1.5v0.5h-1.5zM47.8 223.3h0.5v0.5h-0.5zM48.8 223.3h1v0.5h-1zM52.3 223.3h0.5v0.5h-0.5zM35.8 223.8h1v0.5h-1zM37.3 223.8h1v0.5h-1zM38.8 223.8h1v0.5h-1zM40.3 223.8h2.5v0.5h-2.5zM43.3 223.8h4v0.5h-4zM47.8 223.8h0.5v0.5h-0.5zM49.3 223.8h0.5v0.5h-0.5zM50.8 223.8h1v0.5h-1zM37.3 224.3h1.5v0.5h-1.5zM39.3 224.3h1.5v0.5h-1.5zM42.3 224.3h1.5v0.5h-1.5zM44.3 224.3h3.5v0.5h-3.5zM48.3 224.3h1v0.5h-1zM49.8 224.3h1v0.5h-1zM51.3 224.3h1.5v0.5h-1.5zM36.8 224.8h4.5v0.5h-4.5zM41.8 224.8h1v0.5h-1zM43.3 224.8h2.5v0.5h-2.5zM46.3 224.8h1v0.5h-1zM47.8 224.8h3.5v0.5h-3.5zM34.8 225.3h2.5v0.5h-2.5zM37.8 225.3h0.5v0.5h-0.5zM38.8 225.3h1v0.5h-1zM40.3 225.3h2.5v0.5h-2.5zM43.3 225.3h6v0.5h-6zM49.8 225.3h1v0.5h-1zM51.3 225.3h0.5v0.5h-0.5zM35.3 225.8h1.5v0.5h-1.5zM37.3 225.8h6.5v0.5h-6.5zM44.3 225.8h4v0.5h-4zM49.3 225.8h1.5v0.5h-1.5zM34.3 226.3h1.5v0.5h-1.5zM36.3 226.3h2v0.5h-2zM39.8 226.3h3.5v0.5h-3.5zM43.8 226.3h2.5v0.5h-2.5zM46.8 226.3h3v0.5h-3zM50.8 226.3h1v0.5h-1zM55.3 226.3h0.5v0.5h-0.5zM34.3 226.8h0.5v0.5h-0.5zM35.3 226.8h0.5v0.5h-0.5zM36.3 226.8h0.5v0.5h-0.5zM37.3 226.8h4v0.5h-4zM41.8 226.8h10.5v0.5h-10.5zM35.8 227.3h1.5v0.5h-1.5zM37.8 227.3h1v0.5h-1zM39.3 227.3h5v0.5h-5zM44.8 227.3h2v0.5h-2zM47.3 227.3h0.5v0.5h-0.5zM48.8 227.3h1.5v0.5h-1.5zM50.8 227.3h1v0.5h-1zM52.3 227.3h0.5v0.5h-0.5zM33.8 227.8h5.5v0.5h-5.5zM39.8 227.8h6v0.5h-6zM46.3 227.8h2.5v0.5h-2.5zM49.8 227.8h0.5v0.5h-0.5zM50.8 227.8h1v0.5h-1zM52.3 227.8h0.5v0.5h-0.5zM34.3 228.3h1.5v0.5h-1.5zM36.3 228.3h1v0.5h-1zM37.8 228.3h1v0.5h-1zM39.3 228.3h2.5v0.5h-2.5zM42.3 228.3h6v0.5h-6zM50.8 228.3h1v0.5h-1zM53.8 228.3h0.5v0.5h-0.5zM33.8 228.8h0.5v0.5h-0.5zM34.8 228.8h0.5v0.5h-0.5zM36.3 228.8h9.5v0.5h-9.5zM46.3 228.8h1v0.5h-1zM47.8 228.8h2v0.5h-2zM50.3 228.8h0.5v0.5h-0.5zM51.3 228.8h0.5v0.5h-0.5zM53.3 228.8h0.5v0.5h-0.5zM34.8 229.3h2.5v0.5h-2.5zM37.8 229.3h3v0.5h-3zM41.3 229.3h10v0.5h-10zM52.3 229.3h0.5v0.5h-0.5zM34.3 229.8h0.5v0.5h-0.5zM35.3 229.8h1v0.5h-1zM36.8 229.8h0.5v0.5h-0.5zM37.8 229.8h5.5v0.5h-5.5zM43.8 229.8h3.5v0.5h-3.5zM47.8 229.8h2v0.5h-2zM50.8 229.8h1v0.5h-1zM33.8 230.3h1v0.5h-1zM35.3 230.3h2.5v0.5h-2.5zM38.3 230.3h9v0.5h-9zM47.8 230.3h1.5v0.5h-1.5zM49.8 230.3h1.5v0.5h-1.5zM34.3 230.8h6v0.5h-6zM41.3 230.8h4v0.5h-4zM45.8 230.8h1v0.5h-1zM47.3 230.8h1v0.5h-1zM48.8 230.8h1v0.5h-1zM50.3 230.8h1.5v0.5h-1.5zM53.3 230.8h0.5v0.5h-0.5zM33.8 231.3h1v0.5h-1zM35.8 231.3h0.5v0.5h-0.5zM36.8 231.3h3v0.5h-3zM40.3 231.3h0.5v0.5h-0.5zM41.3 231.3h5v0.5h-5zM47.3 231.3h4v0.5h-4zM51.8 231.3h0.5v0.5h-0.5zM55.3 231.3h0.5v0.5h-0.5zM34.8 231.8h4.5v0.5h-4.5zM39.8 231.8h5.5v0.5h-5.5zM45.8 231.8h4v0.5h-4zM50.3 231.8h0.5v0.5h-0.5zM51.3 231.8h0.5v0.5h-0.5zM34.3 232.3h0.5v0.5h-0.5zM35.3 232.3h8.5v0.5h-8.5zM44.3 232.3h3v0.5h-3zM47.8 232.3h2.5v0.5h-2.5zM50.8 232.3h0.5v0.5h-0.5zM51.8 232.3h0.5v0.5h-0.5zM55.8 232.3h0.5v0.5h-0.5zM35.8 232.8h4.5v0.5h-4.5zM40.8 232.8h7.5v0.5h-7.5zM49.3 232.8h0.5v0.5h-0.5zM50.3 232.8h0.5v0.5h-0.5zM51.3 232.8h0.5v0.5h-0.5zM52.8 232.8h0.5v0.5h-0.5zM33.8 233.3h0.5v0.5h-0.5zM35.3 233.3h4.5v0.5h-4.5zM40.3 233.3h2.5v0.5h-2.5zM43.3 233.3h4v0.5h-4zM48.3 233.3h1.5v0.5h-1.5zM50.3 233.3h2v0.5h-2zM52.8 233.3h1v0.5h-1zM33.8 233.8h1v0.5h-1zM35.8 233.8h1.5v0.5h-1.5zM37.8 233.8h7v0.5h-7zM45.3 233.8h2.5v0.5h-2.5zM48.3 233.8h3.5v0.5h-3.5zM34.3 234.3h0.5v0.5h-0.5zM35.3 234.3h5v0.5h-5zM42.3 234.3h0.5v0.5h-0.5zM43.3 234.3h0.5v0.5h-0.5zM44.3 234.3h1.5v0.5h-1.5zM46.3 234.3h1.5v0.5h-1.5zM48.3 234.3h2v0.5h-2zM50.8 234.3h0.5v0.5h-0.5zM51.8 234.3h0.5v0.5h-0.5zM33.8 234.8h1v0.5h-1zM35.3 234.8h1.5v0.5h-1.5zM37.3 234.8h1v0.5h-1zM38.8 234.8h2.5v0.5h-2.5zM41.8 234.8h1.5v0.5h-1.5zM43.8 234.8h0.5v0.5h-0.5zM44.8 234.8h1v0.5h-1zM46.3 234.8h0.5v0.5h-0.5zM47.3 234.8h4v0.5h-4zM33.8 235.3h1v0.5h-1zM35.3 235.3h0.5v0.5h-0.5zM36.3 235.3h1v0.5h-1zM37.8 235.3h1v0.5h-1zM39.3 235.3h3v0.5h-3zM42.8 235.3h0.5v0.5h-0.5zM44.3 235.3h2.5v0.5h-2.5zM47.3 235.3h0.5v0.5h-0.5zM48.3 235.3h1.5v0.5h-1.5zM50.3 235.3h0.5v0.5h-0.5zM51.3 235.3h0.5v0.5h-0.5zM52.3 235.3h1v0.5h-1zM33.8 235.8h1v0.5h-1zM35.3 235.8h1.5v0.5h-1.5zM37.3 235.8h9v0.5h-9zM46.8 235.8h3.5v0.5h-3.5zM50.8 235.8h0.5v0.5h-0.5zM52.3 235.8h0.5v0.5h-0.5zM33.8 236.3h0.5v0.5h-0.5zM34.8 236.3h1v0.5h-1zM36.8 236.3h4v0.5h-4zM41.3 236.3h6v0.5h-6zM47.8 236.3h2v0.5h-2zM50.3 236.3h0.5v0.5h-0.5zM52.3 236.3h0.5v0.5h-0.5zM33.8 236.8h2.5v0.5h-2.5zM36.8 236.8h3v0.5h-3zM40.3 236.8h4.5v0.5h-4.5zM45.3 236.8h2v0.5h-2zM47.8 236.8h0.5v0.5h-0.5zM48.8 236.8h1.5v0.5h-1.5zM51.3 236.8h0.5v0.5h-0.5zM52.3 236.8h0.5v0.5h-0.5zM54.3 236.8h0.5v0.5h-0.5zM33.8 237.3h0.5v0.5h-0.5zM36.3 237.3h10v0.5h-10zM47.3 237.3h1.5v0.5h-1.5zM49.3 237.3h0.5v0.5h-0.5zM50.3 237.3h0.5v0.5h-0.5zM51.8 237.3h0.5v0.5h-0.5zM33.8 237.8h0.5v0.5h-0.5zM35.3 237.8h0.5v0.5h-0.5zM36.3 237.8h3v0.5h-3zM39.8 237.8h4.5v0.5h-4.5zM44.8 237.8h3.5v0.5h-3.5zM49.8 237.8h1v0.5h-1zM51.3 237.8h1v0.5h-1zM53.3 237.8h0.5v0.5h-0.5zM33.8 238.3h0.5v0.5h-0.5zM34.8 238.3h0.5v0.5h-0.5zM35.8 238.3h0.5v0.5h-0.5zM37.3 238.3h0.5v0.5h-0.5zM38.3 238.3h3v0.5h-3zM41.8 238.3h4v0.5h-4zM46.8 238.3h2.5v0.5h-2.5zM49.8 238.3h1.5v0.5h-1.5zM51.8 238.3h1v0.5h-1zM54.3 238.3h0.5v0.5h-0.5zM56.3 238.3h0.5v0.5h-0.5zM35.3 238.8h0.5v0.5h-0.5zM36.3 238.8h3v0.5h-3zM40.3 238.8h2.5v0.5h-2.5zM43.3 238.8h4.5v0.5h-4.5zM48.3 238.8h2.5v0.5h-2.5zM33.8 239.3h0.5v0.5h-0.5zM34.8 239.3h0.5v0.5h-0.5zM35.8 239.3h1.5v0.5h-1.5zM37.8 239.3h3.5v0.5h-3.5zM41.8 239.3h1.5v0.5h-1.5zM43.8 239.3h1.5v0.5h-1.5zM45.8 239.3h1.5v0.5h-1.5zM47.8 239.3h2.5v0.5h-2.5zM50.8 239.3h0.5v0.5h-0.5zM51.8 239.3h0.5v0.5h-0.5zM34.3 239.8h3.5v0.5h-3.5zM38.8 239.8h0.5v0.5h-0.5zM39.8 239.8h6v0.5h-6zM46.3 239.8h3.5v0.5h-3.5zM50.3 239.8h2.5v0.5h-2.5zM34.8 240.3h2.5v0.5h-2.5zM37.8 240.3h1v0.5h-1zM39.3 240.3h2v0.5h-2zM41.8 240.3h0.5v0.5h-0.5zM42.8 240.3h1.5v0.5h-1.5zM44.8 240.3h2.5v0.5h-2.5zM47.8 240.3h2v0.5h-2zM50.3 240.3h1v0.5h-1zM51.8 240.3h0.5v0.5h-0.5zM54.3 240.3h0.5v0.5h-0.5zM33.8 240.8h0.5v0.5h-0.5zM35.3 240.8h5.5v0.5h-5.5zM41.3 240.8h1v0.5h-1zM42.8 240.8h1.5v0.5h-1.5zM45.8 240.8h0.5v0.5h-0.5zM46.8 240.8h0.5v0.5h-0.5zM47.8 240.8h2.5v0.5h-2.5zM50.8 240.8h0.5v0.5h-0.5zM35.8 241.3h0.5v0.5h-0.5zM36.8 241.3h7v0.5h-7zM44.8 241.3h3.5v0.5h-3.5zM49.3 241.3h1.5v0.5h-1.5zM54.3 241.3h0.5v0.5h-0.5zM33.8 241.8h1v0.5h-1zM36.3 241.8h0.5v0.5h-0.5zM37.3 241.8h1v0.5h-1zM38.8 241.8h3v0.5h-3zM42.3 241.8h7v0.5h-7zM49.8 241.8h1v0.5h-1zM51.8 241.8h0.5v0.5h-0.5zM34.8 242.3h0.5v0.5h-0.5zM35.8 242.3h0.5v0.5h-0.5zM36.8 242.3h0.5v0.5h-0.5zM38.3 242.3h3.5v0.5h-3.5zM42.3 242.3h3v0.5h-3zM45.8 242.3h0.5v0.5h-0.5zM46.8 242.3h2.5v0.5h-2.5zM49.8 242.3h1v0.5h-1zM51.8 242.3h0.5v0.5h-0.5z" fill="#161616" filter="url(#b)"/>
<rect x="33.80" y="168.80" width="75.00" height="73.80" stroke="#505050" stroke-width="0.8" fill="none"/>
<text x="35.70" y="245.10" font-size="2.6" text-anchor="middle" fill="#2a2a2a" font-weight="normal">10<tspan dy="-1" font-size="1.8">0</tspan></text>
<text x="32.60" y="239.40" font-size="2.6" text-anchor="end" fill="#2a2a2a" font-weight="normal">10<tspan dy="-1" font-size="1.8">0</tspan></text>
<text x="54.15" y="245.10" font-size="2.6" text-anchor="middle" fill="#2a2a2a" font-weight="normal">10<tspan dy="-1" font-size="1.8">1</tspan></text>
<text x="32.60" y="221.41" font-size="2.6" text-anchor="end" fill="#2a2a2a" font-weight="normal">10<tspan dy="-1" font-size="1.8">1</tspan></text>
<text x="72.60" y="245.10" font-size="2.6" text-anchor="middle" fill="#2a2a2a" font-weight="normal">10<tspan dy="-1" font-size="1.8">2</tspan></text>
<text x="32.60" y="203.42" font-size="2.6" text-anchor="end" fill="#2a2a2a" font-weight="normal">10<tspan dy="-1" font-size="1.8">2</tspan></text>
<text x="91.05" y="245.10" font-size="2.6" text-anchor="middle" fill="#2a2a2a" font-weight="normal">10<tspan dy="-1" font-size="1.8">3</tspan></text>
<text x="32.60" y="185.43" font-size="2.6" text-anchor="end" fill="#2a2a2a" font-weight="normal">10<tspan dy="-1" font-size="1.8">3</tspan></text>
<text x="109.50" y="245.10" font-size="2.6" text-anchor="middle" fill="#2a2a2a" font-weight="normal">10<tspan dy="-1" font-size="1.8">4</tspan></text>
<text x="32.60" y="167.44" font-size="2.6" text-anchor="end" fill="#2a2a2a" font-weight="normal">10<tspan dy="-1" font-size="1.8">4</tspan></text>
<text x="69.80" y="249.00" font-size="3.0" text-anchor="middle" fill="#2a2a2a">Negative control FITC</text>
<text transform="translate(28.80 204.96) rotate(-90)" font-size="3.0" text-anchor="middle" fill="#2a2a2a">Negative control PE</text>
<path d="M139.60 168.80L139.60 255.80L226.80 255.80" stroke="#222" stroke-width="0.8" fill="none"/>
<path d="M139.60 165.80l-2.1 4h4.2z" fill="#222"/>
<path d="M229.80 255.80l-4.2 -2.2v4.4z" fill="#222"/>
<text transform="translate(137.20 212.30) rotate(-90)" font-size="18.2" text-anchor="middle" fill="#111" >CD117</text>
<text x="183.90" y="271.70" font-size="18" text-anchor="middle" fill="#111" >CD94</text>
<path d="M153.2 212.6C162 212.3 172.5 208 175.6 199.5L175.6 168.8" stroke="#444" stroke-width="0.55" fill="none"/>
<path d="M190.2 182.8h0.5v0.5h-0.5zM156.2 184.3h0.5v0.5h-0.5zM168.2 184.8h0.5v0.5h-0.5zM162.2 185.8h0.5v0.5h-0.5zM161.7 186.3h0.5v0.5h-0.5zM180.7 187.3h0.5v0.5h-0.5zM159.2 187.8h0.5v0.5h-0.5zM189.2 187.8h0.5v0.5h-0.5zM163.2 188.3h0.5v0.5h-0.5zM161.2 189.3h0.5v0.5h-0.5zM164.7 189.3h0.5v0.5h-0.5zM161.7 189.8h0.5v0.5h-0.5zM166.2 189.8h0.5v0.5h-0.5zM167.2 189.8h0.5v0.5h-0.5zM198.7 189.8h0.5v0.5h-0.5zM165.7 190.3h0.5v0.5h-0.5zM191.2 190.3h0.5v0.5h-0.5zM155.2 190.8h0.5v0.5h-0.5zM157.2 190.8h0.5v0.5h-0.5zM158.7 190.8h0.5v0.5h-0.5zM163.2 190.8h0.5v0.5h-0.5zM165.7 190.8h0.5v0.5h-0.5zM167.2 190.8h0.5v0.5h-0.5zM175.2 190.8h0.5v0.5h-0.5zM162.2 191.3h0.5v0.5h-0.5zM164.2 191.3h0.5v0.5h-0.5zM173.2 191.3h0.5v0.5h-0.5zM161.7 191.8h0.5v0.5h-0.5zM167.7 191.8h0.5v0.5h-0.5zM170.2 191.8h0.5v0.5h-0.5zM157.2 192.3h0.5v0.5h-0.5zM160.2 192.8h0.5v0.5h-0.5zM163.7 192.8h0.5v0.5h-0.5zM165.7 192.8h0.5v0.5h-0.5zM167.2 192.8h0.5v0.5h-0.5zM159.7 193.3h0.5v0.5h-0.5zM162.7 193.3h0.5v0.5h-0.5zM168.2 193.3h0.5v0.5h-0.5zM166.2 193.8h0.5v0.5h-0.5zM169.2 193.8h0.5v0.5h-0.5zM195.2 193.8h0.5v0.5h-0.5zM162.7 194.3h0.5v0.5h-0.5zM164.7 194.3h0.5v0.5h-0.5zM156.7 194.8h0.5v0.5h-0.5zM164.2 194.8h0.5v0.5h-0.5zM166.2 194.8h0.5v0.5h-0.5zM167.7 194.8h0.5v0.5h-0.5zM170.2 194.8h0.5v0.5h-0.5zM171.2 194.8h1v0.5h-1zM161.2 195.3h0.5v0.5h-0.5zM164.7 195.3h0.5v0.5h-0.5zM154.2 195.8h0.5v0.5h-0.5zM163.2 195.8h0.5v0.5h-0.5zM165.2 195.8h0.5v0.5h-0.5zM169.7 195.8h0.5v0.5h-0.5zM178.2 195.8h0.5v0.5h-0.5zM155.2 196.3h0.5v0.5h-0.5zM157.2 196.3h0.5v0.5h-0.5zM162.7 196.3h0.5v0.5h-0.5zM164.2 196.3h0.5v0.5h-0.5zM167.7 196.3h0.5v0.5h-0.5zM176.2 196.3h0.5v0.5h-0.5zM156.2 196.8h0.5v0.5h-0.5zM158.2 196.8h0.5v0.5h-0.5zM159.2 196.8h0.5v0.5h-0.5zM166.7 196.8h1v0.5h-1zM169.7 196.8h0.5v0.5h-0.5zM157.2 197.3h0.5v0.5h-0.5zM162.2 197.3h0.5v0.5h-0.5zM164.2 197.3h0.5v0.5h-0.5zM170.7 197.3h0.5v0.5h-0.5zM172.2 197.3h0.5v0.5h-0.5zM173.2 197.3h0.5v0.5h-0.5zM177.2 197.3h0.5v0.5h-0.5zM186.2 197.3h0.5v0.5h-0.5zM192.7 197.3h0.5v0.5h-0.5zM161.2 197.8h0.5v0.5h-0.5zM162.7 197.8h0.5v0.5h-0.5zM164.2 197.8h0.5v0.5h-0.5zM165.7 197.8h0.5v0.5h-0.5zM166.7 197.8h1v0.5h-1zM168.2 197.8h0.5v0.5h-0.5zM169.7 197.8h1v0.5h-1zM172.7 197.8h0.5v0.5h-0.5zM185.7 197.8h0.5v0.5h-0.5zM194.7 197.8h0.5v0.5h-0.5zM175.7 198.3h0.5v0.5h-0.5zM181.7 198.3h0.5v0.5h-0.5zM156.2 198.8h0.5v0.5h-0.5zM158.2 198.8h0.5v0.5h-0.5zM161.7 198.8h0.5v0.5h-0.5zM163.2 198.8h0.5v0.5h-0.5zM165.2 198.8h0.5v0.5h-0.5zM166.7 198.8h0.5v0.5h-0.5zM168.2 198.8h0.5v0.5h-0.5zM169.7 198.8h0.5v0.5h-0.5zM192.2 198.8h0.5v0.5h-0.5zM196.2 198.8h0.5v0.5h-0.5zM154.7 199.3h0.5v0.5h-0.5zM156.2 199.3h0.5v0.5h-0.5zM158.2 199.3h0.5v0.5h-0.5zM160.7 199.3h0.5v0.5h-0.5zM162.2 199.3h0.5v0.5h-0.5zM163.2 199.3h0.5v0.5h-0.5zM166.2 199.3h1v0.5h-1zM169.7 199.3h0.5v0.5h-0.5zM159.7 199.8h0.5v0.5h-0.5zM162.2 199.8h0.5v0.5h-0.5zM166.7 199.8h0.5v0.5h-0.5zM170.7 199.8h0.5v0.5h-0.5zM191.2 199.8h0.5v0.5h-0.5zM195.7 199.8h0.5v0.5h-0.5zM156.2 200.3h0.5v0.5h-0.5zM160.2 200.3h0.5v0.5h-0.5zM164.2 200.3h0.5v0.5h-0.5zM170.2 200.3h0.5v0.5h-0.5zM186.7 200.3h0.5v0.5h-0.5zM189.2 200.3h0.5v0.5h-0.5zM190.2 200.3h0.5v0.5h-0.5zM191.7 200.3h0.5v0.5h-0.5zM192.7 200.3h0.5v0.5h-0.5zM193.7 200.3h0.5v0.5h-0.5zM196.2 200.3h0.5v0.5h-0.5zM165.2 200.8h0.5v0.5h-0.5zM170.2 200.8h0.5v0.5h-0.5zM175.2 200.8h0.5v0.5h-0.5zM183.7 200.8h0.5v0.5h-0.5zM202.2 200.8h0.5v0.5h-0.5zM158.7 201.3h1v0.5h-1zM160.2 201.3h0.5v0.5h-0.5zM162.7 201.3h0.5v0.5h-0.5zM166.7 201.3h0.5v0.5h-0.5zM188.2 201.3h0.5v0.5h-0.5zM192.2 201.3h1v0.5h-1zM193.7 201.3h0.5v0.5h-0.5zM194.7 201.3h1v0.5h-1zM196.2 201.3h0.5v0.5h-0.5zM197.2 201.3h0.5v0.5h-0.5zM163.7 201.8h0.5v0.5h-0.5zM165.2 201.8h0.5v0.5h-0.5zM166.7 201.8h0.5v0.5h-0.5zM169.7 201.8h0.5v0.5h-0.5zM170.7 201.8h0.5v0.5h-0.5zM172.7 201.8h0.5v0.5h-0.5zM179.2 201.8h0.5v0.5h-0.5zM188.2 201.8h1v0.5h-1zM196.2 201.8h1v0.5h-1zM162.7 202.3h0.5v0.5h-0.5zM168.2 202.3h0.5v0.5h-0.5zM178.2 202.3h0.5v0.5h-0.5zM189.2 202.3h1v0.5h-1zM192.7 202.3h0.5v0.5h-0.5zM194.7 202.3h0.5v0.5h-0.5zM197.2 202.3h0.5v0.5h-0.5zM198.2 202.3h0.5v0.5h-0.5zM202.7 202.3h0.5v0.5h-0.5zM155.7 202.8h0.5v0.5h-0.5zM164.2 202.8h0.5v0.5h-0.5zM181.2 202.8h1v0.5h-1zM188.2 202.8h0.5v0.5h-0.5zM190.7 202.8h0.5v0.5h-0.5zM192.7 202.8h0.5v0.5h-0.5zM158.2 203.3h0.5v0.5h-0.5zM160.2 203.3h0.5v0.5h-0.5zM161.7 203.3h0.5v0.5h-0.5zM166.7 203.3h0.5v0.5h-0.5zM169.2 203.3h0.5v0.5h-0.5zM170.2 203.3h0.5v0.5h-0.5zM185.2 203.3h0.5v0.5h-0.5zM186.2 203.3h0.5v0.5h-0.5zM187.7 203.3h0.5v0.5h-0.5zM188.7 203.3h1v0.5h-1zM192.7 203.3h0.5v0.5h-0.5zM194.7 203.3h0.5v0.5h-0.5zM196.2 203.3h0.5v0.5h-0.5zM197.2 203.3h0.5v0.5h-0.5zM153.7 203.8h0.5v0.5h-0.5zM167.7 203.8h1v0.5h-1zM170.7 203.8h0.5v0.5h-0.5zM180.7 203.8h0.5v0.5h-0.5zM185.2 203.8h0.5v0.5h-0.5zM187.7 203.8h0.5v0.5h-0.5zM190.7 203.8h2v0.5h-2zM193.2 203.8h0.5v0.5h-0.5zM195.7 203.8h1v0.5h-1zM197.7 203.8h0.5v0.5h-0.5zM198.7 203.8h0.5v0.5h-0.5zM156.2 204.3h0.5v0.5h-0.5zM164.2 204.3h0.5v0.5h-0.5zM166.7 204.3h0.5v0.5h-0.5zM172.7 204.3h0.5v0.5h-0.5zM182.7 204.3h0.5v0.5h-0.5zM184.7 204.3h0.5v0.5h-0.5zM186.2 204.3h1v0.5h-1zM188.7 204.3h1v0.5h-1zM193.7 204.3h1v0.5h-1zM162.7 204.8h0.5v0.5h-0.5zM163.7 204.8h0.5v0.5h-0.5zM166.7 204.8h0.5v0.5h-0.5zM184.7 204.8h0.5v0.5h-0.5zM188.2 204.8h0.5v0.5h-0.5zM189.7 204.8h0.5v0.5h-0.5zM191.7 204.8h0.5v0.5h-0.5zM193.7 204.8h0.5v0.5h-0.5zM197.7 204.8h0.5v0.5h-0.5zM199.2 204.8h0.5v0.5h-0.5zM158.7 205.3h1v0.5h-1zM161.7 205.3h0.5v0.5h-0.5zM162.7 205.3h0.5v0.5h-0.5zM163.7 205.3h0.5v0.5h-0.5zM166.2 205.3h0.5v0.5h-0.5zM168.7 205.3h0.5v0.5h-0.5zM174.2 205.3h0.5v0.5h-0.5zM175.7 205.3h0.5v0.5h-0.5zM185.2 205.3h0.5v0.5h-0.5zM187.7 205.3h0.5v0.5h-0.5zM190.7 205.3h0.5v0.5h-0.5zM194.2 205.3h0.5v0.5h-0.5zM198.2 205.3h0.5v0.5h-0.5zM199.2 205.3h1v0.5h-1zM184.2 205.8h0.5v0.5h-0.5zM186.2 205.8h1.5v0.5h-1.5zM188.7 205.8h1v0.5h-1zM190.2 205.8h1v0.5h-1zM191.7 205.8h0.5v0.5h-0.5zM194.7 205.8h0.5v0.5h-0.5zM196.7 205.8h1v0.5h-1zM179.7 206.3h0.5v0.5h-0.5zM181.2 206.3h0.5v0.5h-0.5zM183.7 206.3h1v0.5h-1zM186.2 206.3h0.5v0.5h-0.5zM187.2 206.3h0.5v0.5h-0.5zM188.2 206.3h0.5v0.5h-0.5zM189.2 206.3h0.5v0.5h-0.5zM192.7 206.3h0.5v0.5h-0.5zM193.7 206.3h0.5v0.5h-0.5zM196.2 206.3h0.5v0.5h-0.5zM162.2 206.8h0.5v0.5h-0.5zM166.7 206.8h0.5v0.5h-0.5zM176.2 206.8h0.5v0.5h-0.5zM178.2 206.8h0.5v0.5h-0.5zM187.7 206.8h2.5v0.5h-2.5zM191.2 206.8h1.5v0.5h-1.5zM193.2 206.8h0.5v0.5h-0.5zM195.7 206.8h0.5v0.5h-0.5zM197.7 206.8h0.5v0.5h-0.5zM159.7 207.3h0.5v0.5h-0.5zM164.2 207.3h0.5v0.5h-0.5zM166.7 207.3h0.5v0.5h-0.5zM169.2 207.3h0.5v0.5h-0.5zM172.2 207.3h0.5v0.5h-0.5zM181.7 207.3h0.5v0.5h-0.5zM184.2 207.3h1v0.5h-1zM186.2 207.3h0.5v0.5h-0.5zM187.7 207.3h0.5v0.5h-0.5zM190.2 207.3h2.5v0.5h-2.5zM193.7 207.3h0.5v0.5h-0.5zM194.7 207.3h0.5v0.5h-0.5zM195.7 207.3h0.5v0.5h-0.5zM196.7 207.3h0.5v0.5h-0.5zM169.7 207.8h0.5v0.5h-0.5zM174.7 207.8h0.5v0.5h-0.5zM176.7 207.8h0.5v0.5h-0.5zM177.7 207.8h0.5v0.5h-0.5zM180.7 207.8h0.5v0.5h-0.5zM182.2 207.8h0.5v0.5h-0.5zM183.2 207.8h1.5v0.5h-1.5zM185.7 207.8h2v0.5h-2zM188.7 207.8h1.5v0.5h-1.5zM192.7 207.8h1.5v0.5h-1.5zM197.7 207.8h0.5v0.5h-0.5zM198.7 207.8h0.5v0.5h-0.5zM167.7 208.3h0.5v0.5h-0.5zM169.7 208.3h0.5v0.5h-0.5zM175.2 208.3h0.5v0.5h-0.5zM183.7 208.3h0.5v0.5h-0.5zM185.2 208.3h0.5v0.5h-0.5zM187.2 208.3h0.5v0.5h-0.5zM188.7 208.3h3v0.5h-3zM194.7 208.3h0.5v0.5h-0.5zM198.2 208.3h1v0.5h-1zM204.2 208.3h0.5v0.5h-0.5zM157.7 208.8h0.5v0.5h-0.5zM180.2 208.8h0.5v0.5h-0.5zM182.2 208.8h0.5v0.5h-0.5zM183.2 208.8h0.5v0.5h-0.5zM188.2 208.8h0.5v0.5h-0.5zM189.2 208.8h1v0.5h-1zM193.7 208.8h1v0.5h-1zM195.7 208.8h2.5v0.5h-2.5zM199.7 208.8h0.5v0.5h-0.5zM201.2 208.8h0.5v0.5h-0.5zM174.7 209.3h0.5v0.5h-0.5zM178.2 209.3h0.5v0.5h-0.5zM179.7 209.3h0.5v0.5h-0.5zM182.7 209.3h0.5v0.5h-0.5zM183.7 209.3h0.5v0.5h-0.5zM185.2 209.3h1v0.5h-1zM187.2 209.3h0.5v0.5h-0.5zM192.2 209.3h1v0.5h-1zM193.7 209.3h2v0.5h-2zM196.2 209.3h0.5v0.5h-0.5zM181.2 209.8h0.5v0.5h-0.5zM182.2 209.8h0.5v0.5h-0.5zM184.2 209.8h1v0.5h-1zM185.7 209.8h1v0.5h-1zM187.2 209.8h0.5v0.5h-0.5zM188.2 209.8h1.5v0.5h-1.5zM190.2 209.8h0.5v0.5h-0.5zM191.7 209.8h1v0.5h-1zM193.2 209.8h1v0.5h-1zM170.2 210.3h0.5v0.5h-0.5zM171.2 210.3h0.5v0.5h-0.5zM174.7 210.3h0.5v0.5h-0.5zM176.7 210.3h1v0.5h-1zM181.2 210.3h1v0.5h-1zM182.7 210.3h0.5v0.5h-0.5zM184.2 210.3h1.5v0.5h-1.5zM186.2 210.3h1v0.5h-1zM187.7 210.3h0.5v0.5h-0.5zM189.2 210.3h0.5v0.5h-0.5zM191.2 210.3h1v0.5h-1zM192.7 210.3h0.5v0.5h-0.5zM195.2 210.3h1v0.5h-1zM198.2 210.3h0.5v0.5h-0.5zM170.7 210.8h1v0.5h-1zM172.2 210.8h1v0.5h-1zM173.7 210.8h0.5v0.5h-0.5zM175.7 210.8h0.5v0.5h-0.5zM178.2 210.8h0.5v0.5h-0.5zM183.2 210.8h0.5v0.5h-0.5zM184.2 210.8h0.5v0.5h-0.5zM185.7 210.8h0.5v0.5h-0.5zM186.7 210.8h0.5v0.5h-0.5zM187.7 210.8h0.5v0.5h-0.5zM188.7 210.8h2.5v0.5h-2.5zM193.2 210.8h0.5v0.5h-0.5zM194.2 210.8h1v0.5h-1zM195.7 210.8h0.5v0.5h-0.5zM197.2 210.8h0.5v0.5h-0.5zM174.2 211.3h0.5v0.5h-0.5zM175.2 211.3h1v0.5h-1zM177.2 211.3h0.5v0.5h-0.5zM178.2 211.3h0.5v0.5h-0.5zM182.2 211.3h0.5v0.5h-0.5zM183.2 211.3h0.5v0.5h-0.5zM185.2 211.3h1.5v0.5h-1.5zM187.7 211.3h1.5v0.5h-1.5zM191.2 211.3h0.5v0.5h-0.5zM192.2 211.3h0.5v0.5h-0.5zM193.7 211.3h0.5v0.5h-0.5zM194.7 211.3h1v0.5h-1zM196.2 211.3h1v0.5h-1zM197.7 211.3h0.5v0.5h-0.5zM172.7 211.8h0.5v0.5h-0.5zM174.2 211.8h1v0.5h-1zM175.7 211.8h0.5v0.5h-0.5zM176.7 211.8h0.5v0.5h-0.5zM179.7 211.8h1.5v0.5h-1.5zM181.7 211.8h0.5v0.5h-0.5zM182.7 211.8h0.5v0.5h-0.5zM183.7 211.8h0.5v0.5h-0.5zM185.2 211.8h1v0.5h-1zM186.7 211.8h0.5v0.5h-0.5zM189.7 211.8h1v0.5h-1zM191.2 211.8h1.5v0.5h-1.5zM194.2 211.8h0.5v0.5h-0.5zM195.2 211.8h0.5v0.5h-0.5zM197.2 211.8h0.5v0.5h-0.5zM198.7 211.8h0.5v0.5h-0.5zM164.2 212.3h0.5v0.5h-0.5zM167.7 212.3h0.5v0.5h-0.5zM171.7 212.3h0.5v0.5h-0.5zM173.7 212.3h0.5v0.5h-0.5zM177.7 212.3h0.5v0.5h-0.5zM181.7 212.3h0.5v0.5h-0.5zM182.7 212.3h1.5v0.5h-1.5zM186.7 212.3h1v0.5h-1zM188.2 212.3h0.5v0.5h-0.5zM189.2 212.3h1v0.5h-1zM190.7 212.3h0.5v0.5h-0.5zM192.2 212.3h1v0.5h-1zM194.2 212.3h2v0.5h-2zM197.7 212.3h0.5v0.5h-0.5zM199.2 212.3h1v0.5h-1zM162.2 212.8h0.5v0.5h-0.5zM165.7 212.8h0.5v0.5h-0.5zM167.7 212.8h0.5v0.5h-0.5zM168.7 212.8h0.5v0.5h-0.5zM170.2 212.8h1.5v0.5h-1.5zM173.2 212.8h1v0.5h-1zM175.2 212.8h0.5v0.5h-0.5zM178.2 212.8h0.5v0.5h-0.5zM179.2 212.8h0.5v0.5h-0.5zM180.2 212.8h1v0.5h-1zM183.7 212.8h1.5v0.5h-1.5zM185.7 212.8h0.5v0.5h-0.5zM187.2 212.8h1v0.5h-1zM189.2 212.8h0.5v0.5h-0.5zM190.2 212.8h1v0.5h-1zM191.7 212.8h1v0.5h-1zM194.7 212.8h0.5v0.5h-0.5zM196.2 212.8h0.5v0.5h-0.5zM199.2 212.8h0.5v0.5h-0.5zM169.2 213.3h0.5v0.5h-0.5zM170.2 213.3h0.5v0.5h-0.5zM171.7 213.3h1v0.5h-1zM175.7 213.3h2v0.5h-2zM179.2 213.3h0.5v0.5h-0.5zM180.7 213.3h0.5v0.5h-0.5zM185.7 213.3h1v0.5h-1zM187.7 213.3h0.5v0.5h-0.5zM189.7 213.3h0.5v0.5h-0.5zM191.2 213.3h1.5v0.5h-1.5zM193.7 213.3h0.5v0.5h-0.5zM196.2 213.3h1.5v0.5h-1.5zM200.7 213.3h0.5v0.5h-0.5zM170.7 213.8h0.5v0.5h-0.5zM173.2 213.8h0.5v0.5h-0.5zM174.2 213.8h1v0.5h-1zM177.7 213.8h0.5v0.5h-0.5zM178.7 213.8h0.5v0.5h-0.5zM179.7 213.8h1.5v0.5h-1.5zM182.2 213.8h0.5v0.5h-0.5zM186.2 213.8h0.5v0.5h-0.5zM187.2 213.8h1.5v0.5h-1.5zM189.2 213.8h2v0.5h-2zM192.7 213.8h0.5v0.5h-0.5zM195.7 213.8h0.5v0.5h-0.5zM196.7 213.8h0.5v0.5h-0.5zM197.7 213.8h0.5v0.5h-0.5zM162.2 214.3h0.5v0.5h-0.5zM170.7 214.3h0.5v0.5h-0.5zM173.2 214.3h1.5v0.5h-1.5zM176.2 214.3h0.5v0.5h-0.5zM177.7 214.3h0.5v0.5h-0.5zM179.2 214.3h0.5v0.5h-0.5zM181.2 214.3h2v0.5h-2zM184.7 214.3h2.5v0.5h-2.5zM188.2 214.3h0.5v0.5h-0.5zM189.2 214.3h3v0.5h-3zM193.2 214.3h1v0.5h-1zM194.7 214.3h1.5v0.5h-1.5zM196.7 214.3h1.5v0.5h-1.5zM202.2 214.3h0.5v0.5h-0.5zM164.7 214.8h0.5v0.5h-0.5zM167.7 214.8h0.5v0.5h-0.5zM169.7 214.8h1.5v0.5h-1.5zM171.7 214.8h1v0.5h-1zM175.7 214.8h1v0.5h-1zM177.7 214.8h0.5v0.5h-0.5zM178.7 214.8h0.5v0.5h-0.5zM179.7 214.8h0.5v0.5h-0.5zM181.7 214.8h0.5v0.5h-0.5zM183.2 214.8h1v0.5h-1zM186.2 214.8h0.5v0.5h-0.5zM187.2 214.8h0.5v0.5h-0.5zM188.2 214.8h0.5v0.5h-0.5zM189.2 214.8h0.5v0.5h-0.5zM190.7 214.8h3v0.5h-3zM194.2 214.8h0.5v0.5h-0.5zM199.2 214.8h0.5v0.5h-0.5zM167.7 215.3h0.5v0.5h-0.5zM169.2 215.3h0.5v0.5h-0.5zM171.2 215.3h0.5v0.5h-0.5zM172.7 215.3h1v0.5h-1zM174.2 215.3h0.5v0.5h-0.5zM175.2 215.3h0.5v0.5h-0.5zM178.7 215.3h0.5v0.5h-0.5zM179.7 215.3h0.5v0.5h-0.5zM180.7 215.3h0.5v0.5h-0.5zM183.7 215.3h0.5v0.5h-0.5zM184.7 215.3h1v0.5h-1zM186.2 215.3h0.5v0.5h-0.5zM187.7 215.3h1v0.5h-1zM191.2 215.3h3v0.5h-3zM198.2 215.3h1.5v0.5h-1.5zM200.2 215.3h1v0.5h-1zM203.7 215.3h0.5v0.5h-0.5zM165.2 215.8h0.5v0.5h-0.5zM169.2 215.8h0.5v0.5h-0.5zM174.7 215.8h1v0.5h-1zM176.7 215.8h0.5v0.5h-0.5zM178.2 215.8h1v0.5h-1zM180.2 215.8h1v0.5h-1zM182.7 215.8h0.5v0.5h-0.5zM184.2 215.8h0.5v0.5h-0.5zM185.2 215.8h0.5v0.5h-0.5zM187.2 215.8h0.5v0.5h-0.5zM188.2 215.8h0.5v0.5h-0.5zM190.7 215.8h1v0.5h-1zM192.7 215.8h0.5v0.5h-0.5zM194.2 215.8h1v0.5h-1zM195.7 215.8h1v0.5h-1zM197.2 215.8h0.5v0.5h-0.5zM164.2 216.3h0.5v0.5h-0.5zM166.2 216.3h0.5v0.5h-0.5zM170.2 216.3h0.5v0.5h-0.5zM171.2 216.3h0.5v0.5h-0.5zM175.2 216.3h0.5v0.5h-0.5zM176.2 216.3h0.5v0.5h-0.5zM177.2 216.3h0.5v0.5h-0.5zM179.2 216.3h1v0.5h-1zM180.7 216.3h0.5v0.5h-0.5zM181.7 216.3h1v0.5h-1zM184.7 216.3h0.5v0.5h-0.5zM185.7 216.3h0.5v0.5h-0.5zM186.7 216.3h1.5v0.5h-1.5zM191.7 216.3h1v0.5h-1zM193.7 216.3h1v0.5h-1zM197.7 216.3h0.5v0.5h-0.5zM164.2 216.8h0.5v0.5h-0.5zM167.7 216.8h0.5v0.5h-0.5zM169.2 216.8h0.5v0.5h-0.5zM170.2 216.8h1v0.5h-1zM171.7 216.8h0.5v0.5h-0.5zM172.7 216.8h1v0.5h-1zM174.2 216.8h0.5v0.5h-0.5zM176.7 216.8h0.5v0.5h-0.5zM178.7 216.8h0.5v0.5h-0.5zM181.2 216.8h1.5v0.5h-1.5zM184.2 216.8h1.5v0.5h-1.5zM186.2 216.8h1v0.5h-1zM187.7 216.8h0.5v0.5h-0.5zM189.2 216.8h1v0.5h-1zM191.2 216.8h0.5v0.5h-0.5zM192.7 216.8h0.5v0.5h-0.5zM193.7 216.8h0.5v0.5h-0.5zM194.7 216.8h1v0.5h-1zM196.7 216.8h0.5v0.5h-0.5zM198.2 216.8h0.5v0.5h-0.5zM163.2 217.3h0.5v0.5h-0.5zM168.2 217.3h2.5v0.5h-2.5zM171.2 217.3h0.5v0.5h-0.5zM173.2 217.3h0.5v0.5h-0.5zM175.2 217.3h0.5v0.5h-0.5zM177.7 217.3h0.5v0.5h-0.5zM180.2 217.3h1v0.5h-1zM182.2 217.3h1v0.5h-1zM184.2 217.3h1v0.5h-1zM185.7 217.3h0.5v0.5h-0.5zM186.7 217.3h0.5v0.5h-0.5zM188.7 217.3h0.5v0.5h-0.5zM190.2 217.3h1.5v0.5h-1.5zM192.2 217.3h1v0.5h-1zM194.2 217.3h1.5v0.5h-1.5zM197.7 217.3h0.5v0.5h-0.5zM167.2 217.8h0.5v0.5h-0.5zM170.7 217.8h0.5v0.5h-0.5zM172.7 217.8h1v0.5h-1zM177.2 217.8h1v0.5h-1zM179.2 217.8h3v0.5h-3zM183.2 217.8h0.5v0.5h-0.5zM184.2 217.8h0.5v0.5h-0.5zM186.2 217.8h1.5v0.5h-1.5zM189.2 217.8h1v0.5h-1zM191.2 217.8h2v0.5h-2zM194.7 217.8h1v0.5h-1zM197.7 217.8h0.5v0.5h-0.5zM166.7 218.3h1v0.5h-1zM168.2 218.3h1.5v0.5h-1.5zM170.2 218.3h0.5v0.5h-0.5zM171.7 218.3h1.5v0.5h-1.5zM176.2 218.3h0.5v0.5h-0.5zM177.2 218.3h1.5v0.5h-1.5zM179.7 218.3h0.5v0.5h-0.5zM181.2 218.3h1v0.5h-1zM183.2 218.3h0.5v0.5h-0.5zM184.7 218.3h1v0.5h-1zM186.2 218.3h0.5v0.5h-0.5zM187.7 218.3h4v0.5h-4zM192.2 218.3h1v0.5h-1zM193.7 218.3h1v0.5h-1zM195.2 218.3h0.5v0.5h-0.5zM198.7 218.3h0.5v0.5h-0.5zM166.2 218.8h1.5v0.5h-1.5zM168.7 218.8h0.5v0.5h-0.5zM172.2 218.8h0.5v0.5h-0.5zM173.2 218.8h0.5v0.5h-0.5zM174.2 218.8h1v0.5h-1zM175.7 218.8h0.5v0.5h-0.5zM176.7 218.8h0.5v0.5h-0.5zM178.2 218.8h1.5v0.5h-1.5zM180.2 218.8h0.5v0.5h-0.5zM181.2 218.8h3v0.5h-3zM185.2 218.8h1.5v0.5h-1.5zM187.2 218.8h0.5v0.5h-0.5zM188.2 218.8h0.5v0.5h-0.5zM190.2 218.8h1v0.5h-1zM192.2 218.8h2v0.5h-2zM196.7 218.8h0.5v0.5h-0.5zM197.7 218.8h0.5v0.5h-0.5zM199.2 218.8h0.5v0.5h-0.5zM170.7 219.3h0.5v0.5h-0.5zM175.7 219.3h0.5v0.5h-0.5zM176.7 219.3h1v0.5h-1zM178.2 219.3h0.5v0.5h-0.5zM180.7 219.3h1v0.5h-1zM182.2 219.3h0.5v0.5h-0.5zM183.2 219.3h2.5v0.5h-2.5zM186.2 219.3h1.5v0.5h-1.5zM188.2 219.3h0.5v0.5h-0.5zM190.2 219.3h0.5v0.5h-0.5zM191.2 219.3h3v0.5h-3zM195.2 219.3h0.5v0.5h-0.5zM197.2 219.3h1v0.5h-1zM160.2 219.8h0.5v0.5h-0.5zM163.2 219.8h0.5v0.5h-0.5zM164.2 219.8h0.5v0.5h-0.5zM166.7 219.8h1v0.5h-1zM168.2 219.8h0.5v0.5h-0.5zM170.2 219.8h1.5v0.5h-1.5zM173.2 219.8h1v0.5h-1zM177.2 219.8h1.5v0.5h-1.5zM179.2 219.8h1v0.5h-1zM180.7 219.8h2v0.5h-2zM184.2 219.8h1v0.5h-1zM185.7 219.8h1v0.5h-1zM188.7 219.8h0.5v0.5h-0.5zM189.7 219.8h0.5v0.5h-0.5zM191.7 219.8h0.5v0.5h-0.5zM193.7 219.8h0.5v0.5h-0.5zM195.7 219.8h1v0.5h-1zM198.2 219.8h0.5v0.5h-0.5zM162.7 220.3h0.5v0.5h-0.5zM164.7 220.3h0.5v0.5h-0.5zM168.7 220.3h0.5v0.5h-0.5zM171.7 220.3h1.5v0.5h-1.5zM173.7 220.3h3v0.5h-3zM177.7 220.3h3v0.5h-3zM181.2 220.3h0.5v0.5h-0.5zM182.2 220.3h1.5v0.5h-1.5zM184.2 220.3h0.5v0.5h-0.5zM186.7 220.3h0.5v0.5h-0.5zM187.7 220.3h1v0.5h-1zM189.7 220.3h0.5v0.5h-0.5zM191.2 220.3h3.5v0.5h-3.5zM195.7 220.3h0.5v0.5h-0.5zM201.2 220.3h0.5v0.5h-0.5zM165.7 220.8h0.5v0.5h-0.5zM166.7 220.8h1v0.5h-1zM168.7 220.8h0.5v0.5h-0.5zM169.7 220.8h1v0.5h-1zM171.2 220.8h2v0.5h-2zM173.7 220.8h0.5v0.5h-0.5zM175.7 220.8h0.5v0.5h-0.5zM178.2 220.8h0.5v0.5h-0.5zM179.2 220.8h0.5v0.5h-0.5zM180.2 220.8h1v0.5h-1zM182.2 220.8h2.5v0.5h-2.5zM185.2 220.8h1v0.5h-1zM188.2 220.8h0.5v0.5h-0.5zM189.2 220.8h0.5v0.5h-0.5zM190.7 220.8h2v0.5h-2zM193.2 220.8h0.5v0.5h-0.5zM194.2 220.8h1v0.5h-1zM196.2 220.8h0.5v0.5h-0.5zM201.7 220.8h0.5v0.5h-0.5zM160.7 221.3h0.5v0.5h-0.5zM162.7 221.3h0.5v0.5h-0.5zM165.2 221.3h0.5v0.5h-0.5zM167.2 221.3h0.5v0.5h-0.5zM168.2 221.3h0.5v0.5h-0.5zM169.2 221.3h0.5v0.5h-0.5zM170.2 221.3h1v0.5h-1zM171.7 221.3h1v0.5h-1zM173.2 221.3h0.5v0.5h-0.5zM174.7 221.3h0.5v0.5h-0.5zM175.7 221.3h0.5v0.5h-0.5zM176.7 221.3h0.5v0.5h-0.5zM178.7 221.3h1.5v0.5h-1.5zM181.2 221.3h1.5v0.5h-1.5zM183.7 221.3h1.5v0.5h-1.5zM185.7 221.3h1v0.5h-1zM187.7 221.3h5v0.5h-5zM193.7 221.3h2.5v0.5h-2.5zM197.7 221.3h0.5v0.5h-0.5zM161.2 221.8h0.5v0.5h-0.5zM162.7 221.8h0.5v0.5h-0.5zM163.7 221.8h0.5v0.5h-0.5zM166.7 221.8h0.5v0.5h-0.5zM167.7 221.8h0.5v0.5h-0.5zM168.7 221.8h0.5v0.5h-0.5zM169.7 221.8h1v0.5h-1zM171.2 221.8h1v0.5h-1zM172.7 221.8h0.5v0.5h-0.5zM173.7 221.8h1v0.5h-1zM175.2 221.8h0.5v0.5h-0.5zM176.7 221.8h1v0.5h-1zM178.2 221.8h1v0.5h-1zM179.7 221.8h3.5v0.5h-3.5zM184.2 221.8h1.5v0.5h-1.5zM186.2 221.8h3v0.5h-3zM189.7 221.8h1.5v0.5h-1.5zM191.7 221.8h0.5v0.5h-0.5zM192.7 221.8h1v0.5h-1zM195.7 221.8h0.5v0.5h-0.5zM196.7 221.8h0.5v0.5h-0.5zM162.7 222.3h0.5v0.5h-0.5zM163.7 222.3h0.5v0.5h-0.5zM165.7 222.3h1v0.5h-1zM167.2 222.3h1v0.5h-1zM168.7 222.3h0.5v0.5h-0.5zM169.7 222.3h0.5v0.5h-0.5zM170.7 222.3h0.5v0.5h-0.5zM171.7 222.3h1.5v0.5h-1.5zM173.7 222.3h3v0.5h-3zM177.2 222.3h0.5v0.5h-0.5zM179.2 222.3h0.5v0.5h-0.5zM180.2 222.3h2v0.5h-2zM183.2 222.3h3v0.5h-3zM186.7 222.3h0.5v0.5h-0.5zM188.2 222.3h4v0.5h-4zM194.2 222.3h1v0.5h-1zM195.7 222.3h0.5v0.5h-0.5zM196.7 222.3h1.5v0.5h-1.5zM198.7 222.3h0.5v0.5h-0.5zM201.2 222.3h0.5v0.5h-0.5zM158.7 222.8h0.5v0.5h-0.5zM164.2 222.8h0.5v0.5h-0.5zM167.2 222.8h1.5v0.5h-1.5zM170.2 222.8h0.5v0.5h-0.5zM171.2 222.8h1v0.5h-1zM173.2 222.8h2v0.5h-2zM175.7 222.8h0.5v0.5h-0.5zM176.7 222.8h3.5v0.5h-3.5zM181.7 222.8h0.5v0.5h-0.5zM182.7 222.8h2.5v0.5h-2.5zM186.2 222.8h3v0.5h-3zM190.2 222.8h1.5v0.5h-1.5zM192.2 222.8h1v0.5h-1zM193.7 222.8h0.5v0.5h-0.5zM195.2 222.8h0.5v0.5h-0.5zM196.2 222.8h1v0.5h-1zM153.7 223.3h0.5v0.5h-0.5zM159.7 223.3h0.5v0.5h-0.5zM160.7 223.3h0.5v0.5h-0.5zM163.7 223.3h0.5v0.5h-0.5zM165.2 223.3h0.5v0.5h-0.5zM166.2 223.3h0.5v0.5h-0.5zM167.2 223.3h0.5v0.5h-0.5zM168.7 223.3h0.5v0.5h-0.5zM170.7 223.3h1.5v0.5h-1.5zM173.2 223.3h1v0.5h-1zM174.7 223.3h1v0.5h-1zM176.2 223.3h4v0.5h-4zM180.7 223.3h10.5v0.5h-10.5zM191.7 223.3h2v0.5h-2zM194.2 223.3h1.5v0.5h-1.5zM196.7 223.3h1v0.5h-1zM155.2 223.8h0.5v0.5h-0.5zM156.2 223.8h1v0.5h-1zM160.2 223.8h1.5v0.5h-1.5zM162.2 223.8h0.5v0.5h-0.5zM163.2 223.8h0.5v0.5h-0.5zM165.2 223.8h0.5v0.5h-0.5zM166.7 223.8h1.5v0.5h-1.5zM168.7 223.8h0.5v0.5h-0.5zM169.7 223.8h1.5v0.5h-1.5zM171.7 223.8h0.5v0.5h-0.5zM172.7 223.8h6v0.5h-6zM179.2 223.8h3.5v0.5h-3.5zM183.2 223.8h4v0.5h-4zM187.7 223.8h3.5v0.5h-3.5zM193.7 223.8h1v0.5h-1zM195.2 223.8h1v0.5h-1zM197.2 223.8h0.5v0.5h-0.5zM160.7 224.3h0.5v0.5h-0.5zM163.2 224.3h0.5v0.5h-0.5zM164.2 224.3h1v0.5h-1zM166.2 224.3h1v0.5h-1zM168.7 224.3h4v0.5h-4zM173.7 224.3h2v0.5h-2zM176.2 224.3h2.5v0.5h-2.5zM179.2 224.3h4v0.5h-4zM183.7 224.3h9v0.5h-9zM193.2 224.3h2v0.5h-2zM195.7 224.3h0.5v0.5h-0.5zM198.2 224.3h0.5v0.5h-0.5zM159.2 224.8h1v0.5h-1zM160.7 224.8h1v0.5h-1zM162.7 224.8h1.5v0.5h-1.5zM164.7 224.8h4.5v0.5h-4.5zM169.7 224.8h4.5v0.5h-4.5zM174.7 224.8h3v0.5h-3zM178.2 224.8h5v0.5h-5zM183.7 224.8h10.5v0.5h-10.5zM195.7 224.8h0.5v0.5h-0.5zM196.7 224.8h0.5v0.5h-0.5zM158.7 225.3h1v0.5h-1zM160.2 225.3h0.5v0.5h-0.5zM161.7 225.3h0.5v0.5h-0.5zM163.2 225.3h0.5v0.5h-0.5zM164.2 225.3h3.5v0.5h-3.5zM169.2 225.3h25.5v0.5h-25.5zM155.2 225.8h0.5v0.5h-0.5zM157.2 225.8h0.5v0.5h-0.5zM158.7 225.8h1.5v0.5h-1.5zM161.2 225.8h2v0.5h-2zM163.7 225.8h0.5v0.5h-0.5zM164.7 225.8h1.5v0.5h-1.5zM166.7 225.8h1.5v0.5h-1.5zM169.2 225.8h23.5v0.5h-23.5zM193.7 225.8h1.5v0.5h-1.5zM195.7 225.8h0.5v0.5h-0.5zM196.7 225.8h0.5v0.5h-0.5zM159.2 226.3h0.5v0.5h-0.5zM160.7 226.3h2v0.5h-2zM163.2 226.3h1.5v0.5h-1.5zM165.7 226.3h28v0.5h-28zM194.2 226.3h1v0.5h-1zM195.7 226.3h1v0.5h-1zM155.2 226.8h0.5v0.5h-0.5zM157.2 226.8h0.5v0.5h-0.5zM158.2 226.8h2v0.5h-2zM160.7 226.8h0.5v0.5h-0.5zM162.2 226.8h31v0.5h-31zM193.7 226.8h1v0.5h-1zM195.2 226.8h0.5v0.5h-0.5zM196.2 226.8h1v0.5h-1zM153.7 227.3h0.5v0.5h-0.5zM155.2 227.3h1.5v0.5h-1.5zM157.2 227.3h0.5v0.5h-0.5zM158.2 227.3h1.5v0.5h-1.5zM160.2 227.3h7.5v0.5h-7.5zM168.2 227.3h25v0.5h-25zM193.7 227.3h0.5v0.5h-0.5zM197.2 227.3h0.5v0.5h-0.5zM155.7 227.8h0.5v0.5h-0.5zM158.2 227.8h1v0.5h-1zM159.7 227.8h33v0.5h-33zM193.2 227.8h1.5v0.5h-1.5zM195.7 227.8h1v0.5h-1zM197.2 227.8h0.5v0.5h-0.5zM155.2 228.3h0.5v0.5h-0.5zM156.7 228.3h1v0.5h-1zM158.7 228.3h35v0.5h-35zM194.7 228.3h0.5v0.5h-0.5zM196.2 228.3h0.5v0.5h-0.5zM155.7 228.8h0.5v0.5h-0.5zM156.7 228.8h0.5v0.5h-0.5zM157.7 228.8h1v0.5h-1zM159.2 228.8h33.5v0.5h-33.5zM193.2 228.8h1v0.5h-1zM194.7 228.8h1v0.5h-1zM196.2 228.8h0.5v0.5h-0.5zM198.2 228.8h0.5v0.5h-0.5zM153.7 229.3h0.5v0.5h-0.5zM156.7 229.3h1v0.5h-1zM158.7 229.3h0.5v0.5h-0.5zM159.7 229.3h2v0.5h-2zM162.2 229.3h31.5v0.5h-31.5zM194.2 229.3h1v0.5h-1zM195.7 229.3h0.5v0.5h-0.5zM196.7 229.3h0.5v0.5h-0.5zM197.7 229.3h1v0.5h-1zM153.2 229.8h0.5v0.5h-0.5zM155.7 229.8h0.5v0.5h-0.5zM157.7 229.8h36v0.5h-36zM194.2 229.8h0.5v0.5h-0.5zM195.7 229.8h1v0.5h-1zM154.7 230.3h2v0.5h-2zM159.7 230.3h35.5v0.5h-35.5zM156.2 230.8h0.5v0.5h-0.5zM157.2 230.8h0.5v0.5h-0.5zM159.7 230.8h33.5v0.5h-33.5zM193.7 230.8h2.5v0.5h-2.5zM197.7 230.8h0.5v0.5h-0.5zM200.7 230.8h0.5v0.5h-0.5zM156.2 231.3h0.5v0.5h-0.5zM157.7 231.3h1v0.5h-1zM159.2 231.3h0.5v0.5h-0.5zM160.2 231.3h33v0.5h-33zM193.7 231.3h1.5v0.5h-1.5zM197.7 231.3h1v0.5h-1zM154.7 231.8h0.5v0.5h-0.5zM157.7 231.8h1.5v0.5h-1.5zM159.7 231.8h35v0.5h-35zM195.7 231.8h0.5v0.5h-0.5zM156.2 232.3h1v0.5h-1zM157.7 232.3h36.5v0.5h-36.5zM194.7 232.3h0.5v0.5h-0.5zM196.2 232.3h0.5v0.5h-0.5zM154.7 232.8h0.5v0.5h-0.5zM156.7 232.8h0.5v0.5h-0.5zM157.7 232.8h0.5v0.5h-0.5zM158.7 232.8h1.5v0.5h-1.5zM160.7 232.8h34.5v0.5h-34.5zM156.7 233.3h1v0.5h-1zM158.2 233.3h36.5v0.5h-36.5zM196.2 233.3h1.5v0.5h-1.5zM158.2 233.8h0.5v0.5h-0.5zM159.2 233.8h32.5v0.5h-32.5zM192.2 233.8h1v0.5h-1zM193.7 233.8h1v0.5h-1zM195.7 233.8h0.5v0.5h-0.5zM155.7 234.3h1v0.5h-1zM157.7 234.3h34v0.5h-34zM192.2 234.3h3.5v0.5h-3.5zM200.2 234.3h0.5v0.5h-0.5zM154.2 234.8h0.5v0.5h-0.5zM155.2 234.8h0.5v0.5h-0.5zM156.2 234.8h38.5v0.5h-38.5zM195.7 234.8h1v0.5h-1zM198.2 234.8h0.5v0.5h-0.5zM156.2 235.3h39v0.5h-39zM157.2 235.8h2v0.5h-2zM159.7 235.8h32.5v0.5h-32.5zM192.7 235.8h2v0.5h-2zM155.7 236.3h1v0.5h-1zM157.2 236.3h2v0.5h-2zM160.2 236.3h34.5v0.5h-34.5zM195.2 236.3h0.5v0.5h-0.5zM156.2 236.8h0.5v0.5h-0.5zM157.7 236.8h1v0.5h-1zM159.2 236.8h34.5v0.5h-34.5zM194.2 236.8h1.5v0.5h-1.5zM155.2 237.3h1v0.5h-1zM156.7 237.3h0.5v0.5h-0.5zM158.7 237.3h35.5v0.5h-35.5zM195.7 237.3h0.5v0.5h-0.5zM157.7 237.8h1v0.5h-1zM159.2 237.8h35v0.5h-35zM155.7 238.3h0.5v0.5h-0.5zM156.7 238.3h0.5v0.5h-0.5zM157.7 238.3h0.5v0.5h-0.5zM159.2 238.3h32.5v0.5h-32.5zM192.2 238.3h2v0.5h-2zM196.2 238.3h1v0.5h-1zM153.2 238.8h1v0.5h-1zM156.2 238.8h0.5v0.5h-0.5zM157.7 238.8h0.5v0.5h-0.5zM158.7 238.8h1v0.5h-1zM160.2 238.8h1.5v0.5h-1.5zM162.2 238.8h29.5v0.5h-29.5zM192.2 238.8h1v0.5h-1zM193.7 238.8h0.5v0.5h-0.5zM156.7 239.3h0.5v0.5h-0.5zM157.7 239.3h1v0.5h-1zM159.7 239.3h1v0.5h-1zM161.2 239.3h32.5v0.5h-32.5zM194.7 239.3h0.5v0.5h-0.5zM195.7 239.3h0.5v0.5h-0.5zM155.2 239.8h0.5v0.5h-0.5zM158.2 239.8h34v0.5h-34zM193.2 239.8h0.5v0.5h-0.5zM157.2 240.3h1v0.5h-1zM158.7 240.3h0.5v0.5h-0.5zM159.7 240.3h31.5v0.5h-31.5zM194.2 240.3h0.5v0.5h-0.5zM156.2 240.8h0.5v0.5h-0.5zM160.7 240.8h1v0.5h-1zM162.2 240.8h31.5v0.5h-31.5zM195.2 240.8h0.5v0.5h-0.5zM156.2 241.3h0.5v0.5h-0.5zM157.7 241.3h0.5v0.5h-0.5zM160.2 241.3h0.5v0.5h-0.5zM161.2 241.3h30v0.5h-30zM193.2 241.3h1.5v0.5h-1.5zM157.2 241.8h0.5v0.5h-0.5zM159.2 241.8h1.5v0.5h-1.5zM161.2 241.8h30.5v0.5h-30.5zM192.2 241.8h1v0.5h-1zM193.7 241.8h0.5v0.5h-0.5zM195.2 241.8h0.5v0.5h-0.5zM159.2 242.3h0.5v0.5h-0.5zM161.2 242.3h28.5v0.5h-28.5zM190.2 242.3h2.5v0.5h-2.5zM193.7 242.3h0.5v0.5h-0.5zM195.2 242.3h0.5v0.5h-0.5z" fill="#161616" filter="url(#b)"/>
<rect x="153.20" y="168.80" width="74.00" height="73.80" stroke="#505050" stroke-width="0.8" fill="none"/>
<text x="155.10" y="245.10" font-size="2.6" text-anchor="middle" fill="#2a2a2a" font-weight="normal">10<tspan dy="-1" font-size="1.8">0</tspan></text>
<text x="152.00" y="239.40" font-size="2.6" text-anchor="end" fill="#2a2a2a" font-weight="normal">10<tspan dy="-1" font-size="1.8">0</tspan></text>
<text x="173.30" y="245.10" font-size="2.6" text-anchor="middle" fill="#2a2a2a" font-weight="normal">10<tspan dy="-1" font-size="1.8">1</tspan></text>
<text x="152.00" y="221.41" font-size="2.6" text-anchor="end" fill="#2a2a2a" font-weight="normal">10<tspan dy="-1" font-size="1.8">1</tspan></text>
<text x="191.50" y="245.10" font-size="2.6" text-anchor="middle" fill="#2a2a2a" font-weight="normal">10<tspan dy="-1" font-size="1.8">2</tspan></text>
<text x="152.00" y="203.42" font-size="2.6" text-anchor="end" fill="#2a2a2a" font-weight="normal">10<tspan dy="-1" font-size="1.8">2</tspan></text>
<text x="209.70" y="245.10" font-size="2.6" text-anchor="middle" fill="#2a2a2a" font-weight="normal">10<tspan dy="-1" font-size="1.8">3</tspan></text>
<text x="152.00" y="185.43" font-size="2.6" text-anchor="end" fill="#2a2a2a" font-weight="normal">10<tspan dy="-1" font-size="1.8">3</tspan></text>
<text x="227.90" y="245.10" font-size="2.6" text-anchor="middle" fill="#2a2a2a" font-weight="normal">10<tspan dy="-1" font-size="1.8">4</tspan></text>
<text x="152.00" y="167.44" font-size="2.6" text-anchor="end" fill="#2a2a2a" font-weight="normal">10<tspan dy="-1" font-size="1.8">4</tspan></text>
<text x="189.24" y="249.00" font-size="2.9" text-anchor="middle" fill="#2a2a2a">CD94 FITC</text>
<text transform="translate(148.20 204.96) rotate(-90)" font-size="2.9" text-anchor="middle" fill="#2a2a2a">CD117 PE</text>
<text x="281.80" y="170.90" font-size="17" text-anchor="start" fill="#111" >D</text>
<path d="M309.40 168.80L309.40 256.20L489.00 256.20" stroke="#222" stroke-width="0.8" fill="none"/>
<path d="M309.40 165.80l-2.1 4h4.2z" fill="#222"/>
<path d="M492.00 256.20l-4.2 -2.2v4.4z" fill="#222"/>
<text transform="translate(297.20 207.90) rotate(-90)" font-size="18.2" text-anchor="middle" fill="#111" >CD117</text>
<text x="410.40" y="275.20" font-size="18" text-anchor="middle" fill="#111" >CD94</text>
<rect x="322.50" y="193.60" width="16.50" height="25.80" stroke="#444" stroke-width="0.55" fill="none"/>
<rect x="341.30" y="207.30" width="26.20" height="35.10" stroke="#444" stroke-width="0.55" fill="none"/>
<path d="M333.5 193.1h0.5v0.5h-0.5zM337 193.1h0.5v0.5h-0.5zM336 194.1h0.5v0.5h-0.5zM330 195.1h0.5v0.5h-0.5zM331 195.1h0.5v0.5h-0.5zM339.5 195.1h0.5v0.5h-0.5zM323.5 195.6h0.5v0.5h-0.5zM327 195.6h0.5v0.5h-0.5zM330 195.6h0.5v0.5h-0.5zM335.5 195.6h0.5v0.5h-0.5zM325 196.1h1v0.5h-1zM327.5 196.1h0.5v0.5h-0.5zM340 196.1h0.5v0.5h-0.5zM326 196.6h0.5v0.5h-0.5zM325.5 197.1h0.5v0.5h-0.5zM333.5 197.1h0.5v0.5h-0.5zM335 197.1h0.5v0.5h-0.5zM336 197.1h1v0.5h-1zM325.5 197.6h0.5v0.5h-0.5zM326.5 197.6h0.5v0.5h-0.5zM328 197.6h0.5v0.5h-0.5zM330.5 197.6h0.5v0.5h-0.5zM334 197.6h0.5v0.5h-0.5zM335 197.6h0.5v0.5h-0.5zM336 197.6h0.5v0.5h-0.5zM339 197.6h0.5v0.5h-0.5zM343.5 197.6h0.5v0.5h-0.5zM324.5 198.1h0.5v0.5h-0.5zM330 198.1h0.5v0.5h-0.5zM331 198.1h0.5v0.5h-0.5zM333 198.1h0.5v0.5h-0.5zM334 198.1h0.5v0.5h-0.5zM335.5 198.1h0.5v0.5h-0.5zM337.5 198.1h0.5v0.5h-0.5zM339.5 198.1h0.5v0.5h-0.5zM347.5 198.1h0.5v0.5h-0.5zM330.5 198.6h0.5v0.5h-0.5zM332 198.6h0.5v0.5h-0.5zM340.5 198.6h0.5v0.5h-0.5zM351 198.6h0.5v0.5h-0.5zM329 199.1h1v0.5h-1zM331 199.1h0.5v0.5h-0.5zM332 199.1h0.5v0.5h-0.5zM336 199.1h0.5v0.5h-0.5zM337.5 199.1h1v0.5h-1zM324 199.6h1v0.5h-1zM326 199.6h0.5v0.5h-0.5zM329 199.6h0.5v0.5h-0.5zM330 199.6h0.5v0.5h-0.5zM332 199.6h0.5v0.5h-0.5zM333 199.6h0.5v0.5h-0.5zM336 199.6h0.5v0.5h-0.5zM346 199.6h0.5v0.5h-0.5zM324 200.1h0.5v0.5h-0.5zM326.5 200.1h0.5v0.5h-0.5zM327.5 200.1h0.5v0.5h-0.5zM329.5 200.1h0.5v0.5h-0.5zM331.5 200.1h1.5v0.5h-1.5zM337 200.1h0.5v0.5h-0.5zM338 200.1h0.5v0.5h-0.5zM340 200.1h0.5v0.5h-0.5zM349 200.1h0.5v0.5h-0.5zM322.5 200.6h0.5v0.5h-0.5zM325 200.6h0.5v0.5h-0.5zM326.5 200.6h0.5v0.5h-0.5zM327.5 200.6h0.5v0.5h-0.5zM329.5 200.6h0.5v0.5h-0.5zM330.5 200.6h0.5v0.5h-0.5zM331.5 200.6h1v0.5h-1zM333.5 200.6h0.5v0.5h-0.5zM336.5 200.6h0.5v0.5h-0.5zM338.5 200.6h1v0.5h-1zM342 200.6h0.5v0.5h-0.5zM343 200.6h0.5v0.5h-0.5zM345 200.6h0.5v0.5h-0.5zM348.5 200.6h0.5v0.5h-0.5zM325 201.1h0.5v0.5h-0.5zM326.5 201.1h0.5v0.5h-0.5zM328 201.1h1v0.5h-1zM329.5 201.1h0.5v0.5h-0.5zM330.5 201.1h1v0.5h-1zM333 201.1h0.5v0.5h-0.5zM336 201.1h1.5v0.5h-1.5zM339.5 201.1h0.5v0.5h-0.5zM340.5 201.1h0.5v0.5h-0.5zM344 201.1h0.5v0.5h-0.5zM350.5 201.1h0.5v0.5h-0.5zM323 201.6h0.5v0.5h-0.5zM324 201.6h1v0.5h-1zM325.5 201.6h1.5v0.5h-1.5zM327.5 201.6h3v0.5h-3zM331 201.6h0.5v0.5h-0.5zM332.5 201.6h0.5v0.5h-0.5zM334 201.6h0.5v0.5h-0.5zM335 201.6h0.5v0.5h-0.5zM337.5 201.6h0.5v0.5h-0.5zM340.5 201.6h0.5v0.5h-0.5zM352 201.6h0.5v0.5h-0.5zM322.5 202.1h0.5v0.5h-0.5zM324.5 202.1h0.5v0.5h-0.5zM326 202.1h0.5v0.5h-0.5zM327 202.1h0.5v0.5h-0.5zM328 202.1h2.5v0.5h-2.5zM331 202.1h0.5v0.5h-0.5zM332 202.1h1v0.5h-1zM335.5 202.1h0.5v0.5h-0.5zM337.5 202.1h0.5v0.5h-0.5zM339 202.1h0.5v0.5h-0.5zM340 202.1h0.5v0.5h-0.5zM345 202.1h0.5v0.5h-0.5zM346 202.1h0.5v0.5h-0.5zM323 202.6h0.5v0.5h-0.5zM324 202.6h0.5v0.5h-0.5zM326 202.6h1v0.5h-1zM328.5 202.6h1.5v0.5h-1.5zM330.5 202.6h2v0.5h-2zM333 202.6h0.5v0.5h-0.5zM334.5 202.6h1.5v0.5h-1.5zM336.5 202.6h0.5v0.5h-0.5zM338 202.6h0.5v0.5h-0.5zM340.5 202.6h0.5v0.5h-0.5zM349 202.6h0.5v0.5h-0.5zM352 202.6h0.5v0.5h-0.5zM323.5 203.1h3.5v0.5h-3.5zM327.5 203.1h2.5v0.5h-2.5zM330.5 203.1h0.5v0.5h-0.5zM331.5 203.1h0.5v0.5h-0.5zM334 203.1h2v0.5h-2zM337.5 203.1h1v0.5h-1zM350 203.1h0.5v0.5h-0.5zM352.5 203.1h0.5v0.5h-0.5zM322.5 203.6h1v0.5h-1zM324.5 203.6h1v0.5h-1zM326.5 203.6h3v0.5h-3zM330 203.6h1.5v0.5h-1.5zM332.5 203.6h1v0.5h-1zM334 203.6h1v0.5h-1zM335.5 203.6h0.5v0.5h-0.5zM337 203.6h0.5v0.5h-0.5zM339 203.6h1v0.5h-1zM344.5 203.6h0.5v0.5h-0.5zM348 203.6h0.5v0.5h-0.5zM352 203.6h0.5v0.5h-0.5zM356 203.6h0.5v0.5h-0.5zM358 203.6h0.5v0.5h-0.5zM323 204.1h1v0.5h-1zM324.5 204.1h1v0.5h-1zM326 204.1h2v0.5h-2zM328.5 204.1h1.5v0.5h-1.5zM330.5 204.1h1v0.5h-1zM332.5 204.1h0.5v0.5h-0.5zM335 204.1h1v0.5h-1zM337 204.1h1v0.5h-1zM344.5 204.1h0.5v0.5h-0.5zM346.5 204.1h0.5v0.5h-0.5zM349 204.1h1v0.5h-1zM322.5 204.6h1v0.5h-1zM324 204.6h0.5v0.5h-0.5zM325 204.6h7v0.5h-7zM332.5 204.6h1v0.5h-1zM334 204.6h1.5v0.5h-1.5zM336.5 204.6h0.5v0.5h-0.5zM338 204.6h1v0.5h-1zM340 204.6h0.5v0.5h-0.5zM344 204.6h0.5v0.5h-0.5zM345 204.6h1v0.5h-1zM346.5 204.6h0.5v0.5h-0.5zM349 204.6h0.5v0.5h-0.5zM351 204.6h0.5v0.5h-0.5zM355 204.6h0.5v0.5h-0.5zM322.5 205.1h2v0.5h-2zM325.5 205.1h3v0.5h-3zM329 205.1h5.5v0.5h-5.5zM335 205.1h1v0.5h-1zM336.5 205.1h0.5v0.5h-0.5zM337.5 205.1h1v0.5h-1zM340.5 205.1h1.5v0.5h-1.5zM343.5 205.1h0.5v0.5h-0.5zM347.5 205.1h0.5v0.5h-0.5zM354 205.1h0.5v0.5h-0.5zM323.5 205.6h0.5v0.5h-0.5zM325 205.6h1.5v0.5h-1.5zM327.5 205.6h6.5v0.5h-6.5zM334.5 205.6h0.5v0.5h-0.5zM335.5 205.6h2v0.5h-2zM338 205.6h0.5v0.5h-0.5zM340 205.6h0.5v0.5h-0.5zM341 205.6h0.5v0.5h-0.5zM342 205.6h0.5v0.5h-0.5zM343.5 205.6h0.5v0.5h-0.5zM350.5 205.6h0.5v0.5h-0.5zM354.5 205.6h1v0.5h-1zM357 205.6h0.5v0.5h-0.5zM323 206.1h0.5v0.5h-0.5zM324.5 206.1h1v0.5h-1zM326 206.1h0.5v0.5h-0.5zM327 206.1h1.5v0.5h-1.5zM329.5 206.1h1.5v0.5h-1.5zM331.5 206.1h1v0.5h-1zM333 206.1h1.5v0.5h-1.5zM335 206.1h1v0.5h-1zM338 206.1h1v0.5h-1zM342 206.1h0.5v0.5h-0.5zM344.5 206.1h0.5v0.5h-0.5zM345.5 206.1h2v0.5h-2zM349.5 206.1h0.5v0.5h-0.5zM352 206.1h2.5v0.5h-2.5zM323 206.6h0.5v0.5h-0.5zM324 206.6h1v0.5h-1zM325.5 206.6h7.5v0.5h-7.5zM333.5 206.6h1v0.5h-1zM335.5 206.6h0.5v0.5h-0.5zM336.5 206.6h1v0.5h-1zM339 206.6h2v0.5h-2zM341.5 206.6h0.5v0.5h-0.5zM342.5 206.6h1v0.5h-1zM345.5 206.6h0.5v0.5h-0.5zM346.5 206.6h1.5v0.5h-1.5zM350.5 206.6h0.5v0.5h-0.5zM351.5 206.6h0.5v0.5h-0.5zM354.5 206.6h0.5v0.5h-0.5zM322.5 207.1h4.5v0.5h-4.5zM327.5 207.1h7.5v0.5h-7.5zM335.5 207.1h0.5v0.5h-0.5zM337.5 207.1h1v0.5h-1zM339.5 207.1h1v0.5h-1zM342.5 207.1h1v0.5h-1zM344.5 207.1h0.5v0.5h-0.5zM346 207.1h0.5v0.5h-0.5zM347 207.1h0.5v0.5h-0.5zM349.5 207.1h1.5v0.5h-1.5zM352 207.1h1v0.5h-1zM355.5 207.1h1.5v0.5h-1.5zM359 207.1h0.5v0.5h-0.5zM360.5 207.1h0.5v0.5h-0.5zM322.5 207.6h0.5v0.5h-0.5zM323.5 207.6h0.5v0.5h-0.5zM324.5 207.6h10v0.5h-10zM335 207.6h0.5v0.5h-0.5zM336 207.6h1v0.5h-1zM338 207.6h0.5v0.5h-0.5zM340 207.6h0.5v0.5h-0.5zM341.5 207.6h0.5v0.5h-0.5zM343.5 207.6h0.5v0.5h-0.5zM345.5 207.6h0.5v0.5h-0.5zM348.5 207.6h0.5v0.5h-0.5zM354 207.6h0.5v0.5h-0.5zM355.5 207.6h0.5v0.5h-0.5zM358.5 207.6h0.5v0.5h-0.5zM322.5 208.1h11v0.5h-11zM334 208.1h1v0.5h-1zM335.5 208.1h2v0.5h-2zM338 208.1h1.5v0.5h-1.5zM343.5 208.1h0.5v0.5h-0.5zM345.5 208.1h2.5v0.5h-2.5zM348.5 208.1h2v0.5h-2zM355 208.1h0.5v0.5h-0.5zM356.5 208.1h0.5v0.5h-0.5zM357.5 208.1h0.5v0.5h-0.5zM359 208.1h0.5v0.5h-0.5zM322.5 208.6h10.5v0.5h-10.5zM334.5 208.6h0.5v0.5h-0.5zM335.5 208.6h0.5v0.5h-0.5zM336.5 208.6h0.5v0.5h-0.5zM337.5 208.6h0.5v0.5h-0.5zM338.5 208.6h0.5v0.5h-0.5zM340 208.6h0.5v0.5h-0.5zM342 208.6h0.5v0.5h-0.5zM344 208.6h0.5v0.5h-0.5zM345 208.6h1.5v0.5h-1.5zM347 208.6h0.5v0.5h-0.5zM348.5 208.6h0.5v0.5h-0.5zM349.5 208.6h1v0.5h-1zM351 208.6h1v0.5h-1zM353 208.6h1v0.5h-1zM356.5 208.6h0.5v0.5h-0.5zM357.5 208.6h0.5v0.5h-0.5zM359 208.6h0.5v0.5h-0.5zM323.5 209.1h1v0.5h-1zM325 209.1h0.5v0.5h-0.5zM326.5 209.1h7.5v0.5h-7.5zM334.5 209.1h0.5v0.5h-0.5zM335.5 209.1h1v0.5h-1zM337 209.1h0.5v0.5h-0.5zM338.5 209.1h1v0.5h-1zM341 209.1h1v0.5h-1zM343.5 209.1h1v0.5h-1zM345.5 209.1h0.5v0.5h-0.5zM351.5 209.1h0.5v0.5h-0.5zM353 209.1h1v0.5h-1zM354.5 209.1h1v0.5h-1zM360.5 209.1h0.5v0.5h-0.5zM322.5 209.6h1v0.5h-1zM324 209.6h3.5v0.5h-3.5zM328 209.6h3.5v0.5h-3.5zM332.5 209.6h1v0.5h-1zM334 209.6h1.5v0.5h-1.5zM336 209.6h0.5v0.5h-0.5zM337.5 209.6h3.5v0.5h-3.5zM342.5 209.6h0.5v0.5h-0.5zM343.5 209.6h3v0.5h-3zM347 209.6h0.5v0.5h-0.5zM348 209.6h1v0.5h-1zM349.5 209.6h0.5v0.5h-0.5zM350.5 209.6h0.5v0.5h-0.5zM352 209.6h0.5v0.5h-0.5zM353 209.6h0.5v0.5h-0.5zM354 209.6h1.5v0.5h-1.5zM356 209.6h0.5v0.5h-0.5zM323.5 210.1h0.5v0.5h-0.5zM324.5 210.1h12v0.5h-12zM337 210.1h0.5v0.5h-0.5zM338 210.1h2v0.5h-2zM341 210.1h0.5v0.5h-0.5zM342 210.1h1v0.5h-1zM344.5 210.1h4.5v0.5h-4.5zM349.5 210.1h3v0.5h-3zM353 210.1h0.5v0.5h-0.5zM355 210.1h0.5v0.5h-0.5zM356 210.1h0.5v0.5h-0.5zM357 210.1h0.5v0.5h-0.5zM361 210.1h0.5v0.5h-0.5zM322.5 210.6h1.5v0.5h-1.5zM324.5 210.6h0.5v0.5h-0.5zM325.5 210.6h3.5v0.5h-3.5zM329.5 210.6h2.5v0.5h-2.5zM332.5 210.6h2.5v0.5h-2.5zM336 210.6h1v0.5h-1zM338 210.6h1v0.5h-1zM340.5 210.6h0.5v0.5h-0.5zM341.5 210.6h1v0.5h-1zM343 210.6h1v0.5h-1zM345 210.6h1v0.5h-1zM346.5 210.6h1.5v0.5h-1.5zM348.5 210.6h2.5v0.5h-2.5zM352 210.6h2v0.5h-2zM355 210.6h0.5v0.5h-0.5zM356.5 210.6h0.5v0.5h-0.5zM361.5 210.6h0.5v0.5h-0.5zM323 211.1h0.5v0.5h-0.5zM324 211.1h0.5v0.5h-0.5zM325 211.1h3.5v0.5h-3.5zM329 211.1h1v0.5h-1zM330.5 211.1h0.5v0.5h-0.5zM331.5 211.1h0.5v0.5h-0.5zM332.5 211.1h2v0.5h-2zM336 211.1h0.5v0.5h-0.5zM337 211.1h0.5v0.5h-0.5zM338.5 211.1h0.5v0.5h-0.5zM340 211.1h0.5v0.5h-0.5zM341.5 211.1h0.5v0.5h-0.5zM342.5 211.1h1v0.5h-1zM344.5 211.1h1.5v0.5h-1.5zM346.5 211.1h1v0.5h-1zM348 211.1h0.5v0.5h-0.5zM349 211.1h2v0.5h-2zM351.5 211.1h1.5v0.5h-1.5zM354 211.1h1v0.5h-1zM356.5 211.1h1v0.5h-1zM360 211.1h0.5v0.5h-0.5zM323 211.6h3v0.5h-3zM326.5 211.6h0.5v0.5h-0.5zM327.5 211.6h1v0.5h-1zM329 211.6h2v0.5h-2zM331.5 211.6h2v0.5h-2zM334 211.6h1.5v0.5h-1.5zM336 211.6h0.5v0.5h-0.5zM338 211.6h0.5v0.5h-0.5zM339 211.6h1v0.5h-1zM340.5 211.6h1v0.5h-1zM342.5 211.6h1v0.5h-1zM345 211.6h1v0.5h-1zM346.5 211.6h1.5v0.5h-1.5zM348.5 211.6h3.5v0.5h-3.5zM352.5 211.6h1v0.5h-1zM354 211.6h0.5v0.5h-0.5zM355.5 211.6h1.5v0.5h-1.5zM323 212.1h1v0.5h-1zM324.5 212.1h3v0.5h-3zM328.5 212.1h1v0.5h-1zM330 212.1h6.5v0.5h-6.5zM337.5 212.1h0.5v0.5h-0.5zM339 212.1h0.5v0.5h-0.5zM340 212.1h0.5v0.5h-0.5zM342 212.1h0.5v0.5h-0.5zM343 212.1h0.5v0.5h-0.5zM344.5 212.1h2v0.5h-2zM347.5 212.1h0.5v0.5h-0.5zM348.5 212.1h1.5v0.5h-1.5zM351.5 212.1h1.5v0.5h-1.5zM353.5 212.1h0.5v0.5h-0.5zM354.5 212.1h2.5v0.5h-2.5zM357.5 212.1h0.5v0.5h-0.5zM360.5 212.1h0.5v0.5h-0.5zM322.5 212.6h2v0.5h-2zM325 212.6h1.5v0.5h-1.5zM327 212.6h4.5v0.5h-4.5zM332.5 212.6h4.5v0.5h-4.5zM337.5 212.6h1.5v0.5h-1.5zM339.5 212.6h0.5v0.5h-0.5zM340.5 212.6h3v0.5h-3zM344 212.6h3v0.5h-3zM348 212.6h0.5v0.5h-0.5zM349 212.6h2.5v0.5h-2.5zM352 212.6h2v0.5h-2zM355 212.6h0.5v0.5h-0.5zM356 212.6h1v0.5h-1zM357.5 212.6h0.5v0.5h-0.5zM358.5 212.6h0.5v0.5h-0.5zM361.5 212.6h0.5v0.5h-0.5zM322.5 213.1h1.5v0.5h-1.5zM324.5 213.1h0.5v0.5h-0.5zM325.5 213.1h1v0.5h-1zM327 213.1h2.5v0.5h-2.5zM331 213.1h0.5v0.5h-0.5zM332 213.1h0.5v0.5h-0.5zM333.5 213.1h0.5v0.5h-0.5zM335 213.1h0.5v0.5h-0.5zM336.5 213.1h1v0.5h-1zM339.5 213.1h2v0.5h-2zM342.5 213.1h0.5v0.5h-0.5zM343.5 213.1h0.5v0.5h-0.5zM344.5 213.1h0.5v0.5h-0.5zM345.5 213.1h2v0.5h-2zM348 213.1h3v0.5h-3zM351.5 213.1h1v0.5h-1zM353.5 213.1h1v0.5h-1zM359.5 213.1h0.5v0.5h-0.5zM362 213.1h0.5v0.5h-0.5zM322.5 213.6h1.5v0.5h-1.5zM325 213.6h2v0.5h-2zM327.5 213.6h0.5v0.5h-0.5zM329 213.6h1v0.5h-1zM330.5 213.6h1v0.5h-1zM332 213.6h0.5v0.5h-0.5zM333.5 213.6h0.5v0.5h-0.5zM334.5 213.6h0.5v0.5h-0.5zM336 213.6h1v0.5h-1zM337.5 213.6h1v0.5h-1zM339 213.6h0.5v0.5h-0.5zM340 213.6h0.5v0.5h-0.5zM341 213.6h0.5v0.5h-0.5zM342.5 213.6h0.5v0.5h-0.5zM345 213.6h0.5v0.5h-0.5zM347 213.6h2.5v0.5h-2.5zM350 213.6h1v0.5h-1zM352 213.6h0.5v0.5h-0.5zM353.5 213.6h0.5v0.5h-0.5zM354.5 213.6h0.5v0.5h-0.5zM355.5 213.6h0.5v0.5h-0.5zM357.5 213.6h1v0.5h-1zM359 213.6h0.5v0.5h-0.5zM364 213.6h0.5v0.5h-0.5zM322.5 214.1h2v0.5h-2zM325 214.1h1.5v0.5h-1.5zM327.5 214.1h1.5v0.5h-1.5zM329.5 214.1h0.5v0.5h-0.5zM330.5 214.1h1.5v0.5h-1.5zM332.5 214.1h0.5v0.5h-0.5zM333.5 214.1h1.5v0.5h-1.5zM335.5 214.1h0.5v0.5h-0.5zM336.5 214.1h1.5v0.5h-1.5zM338.5 214.1h1v0.5h-1zM340 214.1h1v0.5h-1zM341.5 214.1h0.5v0.5h-0.5zM343 214.1h0.5v0.5h-0.5zM344.5 214.1h0.5v0.5h-0.5zM346 214.1h0.5v0.5h-0.5zM348.5 214.1h2.5v0.5h-2.5zM351.5 214.1h0.5v0.5h-0.5zM353 214.1h1.5v0.5h-1.5zM355.5 214.1h1v0.5h-1zM357 214.1h2.5v0.5h-2.5zM361 214.1h0.5v0.5h-0.5zM322.5 214.6h0.5v0.5h-0.5zM324.5 214.6h1.5v0.5h-1.5zM326.5 214.6h0.5v0.5h-0.5zM328 214.6h4.5v0.5h-4.5zM334 214.6h1v0.5h-1zM336.5 214.6h0.5v0.5h-0.5zM338 214.6h1.5v0.5h-1.5zM340.5 214.6h0.5v0.5h-0.5zM342.5 214.6h1v0.5h-1zM344.5 214.6h2v0.5h-2zM347 214.6h1.5v0.5h-1.5zM349.5 214.6h3.5v0.5h-3.5zM355.5 214.6h0.5v0.5h-0.5zM356.5 214.6h0.5v0.5h-0.5zM358.5 214.6h0.5v0.5h-0.5zM359.5 214.6h0.5v0.5h-0.5zM361.5 214.6h0.5v0.5h-0.5zM366.5 214.6h0.5v0.5h-0.5zM322.5 215.1h1v0.5h-1zM325.5 215.1h0.5v0.5h-0.5zM326.5 215.1h1v0.5h-1zM328 215.1h0.5v0.5h-0.5zM329 215.1h1v0.5h-1zM330.5 215.1h0.5v0.5h-0.5zM332 215.1h0.5v0.5h-0.5zM334 215.1h0.5v0.5h-0.5zM335.5 215.1h0.5v0.5h-0.5zM336.5 215.1h0.5v0.5h-0.5zM337.5 215.1h0.5v0.5h-0.5zM338.5 215.1h1v0.5h-1zM340 215.1h0.5v0.5h-0.5zM341 215.1h1v0.5h-1zM343.5 215.1h0.5v0.5h-0.5zM344.5 215.1h1v0.5h-1zM346 215.1h2.5v0.5h-2.5zM349 215.1h6.5v0.5h-6.5zM356 215.1h0.5v0.5h-0.5zM363.5 215.1h0.5v0.5h-0.5zM325 215.6h2.5v0.5h-2.5zM328.5 215.6h1.5v0.5h-1.5zM331 215.6h1v0.5h-1zM332.5 215.6h2v0.5h-2zM336 215.6h1v0.5h-1zM338.5 215.6h1v0.5h-1zM340.5 215.6h0.5v0.5h-0.5zM343.5 215.6h0.5v0.5h-0.5zM344.5 215.6h0.5v0.5h-0.5zM346 215.6h0.5v0.5h-0.5zM347 215.6h2.5v0.5h-2.5zM350 215.6h1.5v0.5h-1.5zM352.5 215.6h1v0.5h-1zM354.5 215.6h2.5v0.5h-2.5zM359 215.6h0.5v0.5h-0.5zM366 215.6h0.5v0.5h-0.5zM324 216.1h1.5v0.5h-1.5zM326 216.1h2.5v0.5h-2.5zM331.5 216.1h0.5v0.5h-0.5zM332.5 216.1h0.5v0.5h-0.5zM333.5 216.1h1v0.5h-1zM336.5 216.1h2v0.5h-2zM341 216.1h0.5v0.5h-0.5zM342 216.1h2v0.5h-2zM345 216.1h1v0.5h-1zM346.5 216.1h0.5v0.5h-0.5zM347.5 216.1h1v0.5h-1zM349 216.1h2.5v0.5h-2.5zM352 216.1h2.5v0.5h-2.5zM355 216.1h0.5v0.5h-0.5zM356 216.1h1v0.5h-1zM359 216.1h0.5v0.5h-0.5zM361.5 216.1h0.5v0.5h-0.5zM363.5 216.1h0.5v0.5h-0.5zM323.5 216.6h0.5v0.5h-0.5zM328.5 216.6h1v0.5h-1zM330 216.6h2v0.5h-2zM332.5 216.6h1v0.5h-1zM335 216.6h2v0.5h-2zM338 216.6h1v0.5h-1zM339.5 216.6h0.5v0.5h-0.5zM340.5 216.6h0.5v0.5h-0.5zM342.5 216.6h2v0.5h-2zM345 216.6h0.5v0.5h-0.5zM346.5 216.6h0.5v0.5h-0.5zM347.5 216.6h1v0.5h-1zM350 216.6h0.5v0.5h-0.5zM351 216.6h2v0.5h-2zM354 216.6h2.5v0.5h-2.5zM357 216.6h1v0.5h-1zM322.5 217.1h0.5v0.5h-0.5zM324 217.1h1.5v0.5h-1.5zM326.5 217.1h0.5v0.5h-0.5zM328.5 217.1h0.5v0.5h-0.5zM329.5 217.1h0.5v0.5h-0.5zM331 217.1h1v0.5h-1zM333 217.1h2v0.5h-2zM336.5 217.1h1v0.5h-1zM339 217.1h1v0.5h-1zM343 217.1h0.5v0.5h-0.5zM344.5 217.1h0.5v0.5h-0.5zM346 217.1h0.5v0.5h-0.5zM347 217.1h3v0.5h-3zM351 217.1h5.5v0.5h-5.5zM357 217.1h0.5v0.5h-0.5zM359 217.1h0.5v0.5h-0.5zM324 217.6h1v0.5h-1zM328 217.6h1v0.5h-1zM330 217.6h0.5v0.5h-0.5zM331 217.6h1v0.5h-1zM333.5 217.6h2v0.5h-2zM336 217.6h0.5v0.5h-0.5zM337 217.6h0.5v0.5h-0.5zM338.5 217.6h0.5v0.5h-0.5zM340 217.6h0.5v0.5h-0.5zM341.5 217.6h3v0.5h-3zM345.5 217.6h1.5v0.5h-1.5zM348.5 217.6h0.5v0.5h-0.5zM349.5 217.6h1v0.5h-1zM351 217.6h1v0.5h-1zM352.5 217.6h3v0.5h-3zM356.5 217.6h1v0.5h-1zM323.5 218.1h1v0.5h-1zM327 218.1h2.5v0.5h-2.5zM332.5 218.1h1.5v0.5h-1.5zM335 218.1h0.5v0.5h-0.5zM337 218.1h0.5v0.5h-0.5zM339 218.1h1v0.5h-1zM342.5 218.1h0.5v0.5h-0.5zM343.5 218.1h1v0.5h-1zM345 218.1h1v0.5h-1zM346.5 218.1h0.5v0.5h-0.5zM347.5 218.1h1.5v0.5h-1.5zM350.5 218.1h3v0.5h-3zM354 218.1h0.5v0.5h-0.5zM356 218.1h0.5v0.5h-0.5zM357.5 218.1h0.5v0.5h-0.5zM359 218.1h0.5v0.5h-0.5zM360 218.1h0.5v0.5h-0.5zM322.5 218.6h0.5v0.5h-0.5zM324.5 218.6h0.5v0.5h-0.5zM326.5 218.6h0.5v0.5h-0.5zM327.5 218.6h1v0.5h-1zM330.5 218.6h1v0.5h-1zM332 218.6h1.5v0.5h-1.5zM334 218.6h0.5v0.5h-0.5zM336.5 218.6h1v0.5h-1zM340 218.6h0.5v0.5h-0.5zM341.5 218.6h0.5v0.5h-0.5zM342.5 218.6h1v0.5h-1zM345 218.6h0.5v0.5h-0.5zM346.5 218.6h4.5v0.5h-4.5zM352.5 218.6h0.5v0.5h-0.5zM353.5 218.6h1.5v0.5h-1.5zM355.5 218.6h1.5v0.5h-1.5zM360 218.6h0.5v0.5h-0.5zM323.5 219.1h0.5v0.5h-0.5zM324.5 219.1h0.5v0.5h-0.5zM326 219.1h0.5v0.5h-0.5zM327.5 219.1h0.5v0.5h-0.5zM328.5 219.1h0.5v0.5h-0.5zM331 219.1h0.5v0.5h-0.5zM332.5 219.1h2v0.5h-2zM336 219.1h0.5v0.5h-0.5zM338 219.1h0.5v0.5h-0.5zM339 219.1h0.5v0.5h-0.5zM341 219.1h0.5v0.5h-0.5zM342 219.1h0.5v0.5h-0.5zM343.5 219.1h1v0.5h-1zM345 219.1h1v0.5h-1zM349.5 219.1h7.5v0.5h-7.5zM357.5 219.1h0.5v0.5h-0.5zM359 219.1h0.5v0.5h-0.5zM361 219.1h0.5v0.5h-0.5zM325 219.6h0.5v0.5h-0.5zM326 219.6h0.5v0.5h-0.5zM327.5 219.6h0.5v0.5h-0.5zM333 219.6h2v0.5h-2zM337.5 219.6h1v0.5h-1zM340 219.6h0.5v0.5h-0.5zM341 219.6h0.5v0.5h-0.5zM342.5 219.6h2v0.5h-2zM345.5 219.6h1.5v0.5h-1.5zM347.5 219.6h0.5v0.5h-0.5zM348.5 219.6h1v0.5h-1zM350 219.6h1.5v0.5h-1.5zM352 219.6h1.5v0.5h-1.5zM355.5 219.6h0.5v0.5h-0.5zM356.5 219.6h1.5v0.5h-1.5zM359.5 219.6h0.5v0.5h-0.5zM322.5 220.1h0.5v0.5h-0.5zM328 220.1h0.5v0.5h-0.5zM329 220.1h0.5v0.5h-0.5zM332.5 220.1h0.5v0.5h-0.5zM334.5 220.1h0.5v0.5h-0.5zM335.5 220.1h0.5v0.5h-0.5zM336.5 220.1h0.5v0.5h-0.5zM340 220.1h0.5v0.5h-0.5zM341 220.1h0.5v0.5h-0.5zM342.5 220.1h0.5v0.5h-0.5zM343.5 220.1h1.5v0.5h-1.5zM345.5 220.1h0.5v0.5h-0.5zM346.5 220.1h0.5v0.5h-0.5zM347.5 220.1h0.5v0.5h-0.5zM348.5 220.1h0.5v0.5h-0.5zM350 220.1h0.5v0.5h-0.5zM351.5 220.1h0.5v0.5h-0.5zM352.5 220.1h0.5v0.5h-0.5zM354.5 220.1h3v0.5h-3zM358.5 220.1h1.5v0.5h-1.5zM325.5 220.6h0.5v0.5h-0.5zM331 220.6h1v0.5h-1zM333 220.6h0.5v0.5h-0.5zM334.5 220.6h0.5v0.5h-0.5zM337.5 220.6h0.5v0.5h-0.5zM339.5 220.6h0.5v0.5h-0.5zM345.5 220.6h0.5v0.5h-0.5zM346.5 220.6h0.5v0.5h-0.5zM348 220.6h0.5v0.5h-0.5zM351 220.6h0.5v0.5h-0.5zM352.5 220.6h1v0.5h-1zM354 220.6h1.5v0.5h-1.5zM356 220.6h1.5v0.5h-1.5zM358 220.6h0.5v0.5h-0.5zM359.5 220.6h0.5v0.5h-0.5zM324 221.1h0.5v0.5h-0.5zM325 221.1h0.5v0.5h-0.5zM326 221.1h0.5v0.5h-0.5zM328 221.1h0.5v0.5h-0.5zM329.5 221.1h0.5v0.5h-0.5zM330.5 221.1h0.5v0.5h-0.5zM333 221.1h0.5v0.5h-0.5zM334 221.1h0.5v0.5h-0.5zM335.5 221.1h0.5v0.5h-0.5zM338 221.1h1v0.5h-1zM340 221.1h0.5v0.5h-0.5zM343 221.1h0.5v0.5h-0.5zM345 221.1h0.5v0.5h-0.5zM346.5 221.1h0.5v0.5h-0.5zM347.5 221.1h0.5v0.5h-0.5zM349 221.1h1.5v0.5h-1.5zM352.5 221.1h0.5v0.5h-0.5zM353.5 221.1h1v0.5h-1zM356 221.1h2v0.5h-2zM358.5 221.1h0.5v0.5h-0.5zM359.5 221.1h0.5v0.5h-0.5zM323 221.6h0.5v0.5h-0.5zM325 221.6h0.5v0.5h-0.5zM326 221.6h0.5v0.5h-0.5zM327 221.6h0.5v0.5h-0.5zM328 221.6h0.5v0.5h-0.5zM332 221.6h0.5v0.5h-0.5zM342 221.6h0.5v0.5h-0.5zM343 221.6h1v0.5h-1zM345 221.6h0.5v0.5h-0.5zM346 221.6h0.5v0.5h-0.5zM347 221.6h1v0.5h-1zM350 221.6h0.5v0.5h-0.5zM351 221.6h2v0.5h-2zM353.5 221.6h1.5v0.5h-1.5zM355.5 221.6h1v0.5h-1zM357.5 221.6h1v0.5h-1zM359 221.6h0.5v0.5h-0.5zM325.5 222.1h0.5v0.5h-0.5zM326.5 222.1h0.5v0.5h-0.5zM327.5 222.1h0.5v0.5h-0.5zM328.5 222.1h1v0.5h-1zM334 222.1h0.5v0.5h-0.5zM336.5 222.1h0.5v0.5h-0.5zM339 222.1h0.5v0.5h-0.5zM342.5 222.1h1v0.5h-1zM348 222.1h0.5v0.5h-0.5zM349.5 222.1h0.5v0.5h-0.5zM351 222.1h5v0.5h-5zM356.5 222.1h2v0.5h-2zM332 222.6h0.5v0.5h-0.5zM335 222.6h0.5v0.5h-0.5zM339.5 222.6h2v0.5h-2zM342.5 222.6h0.5v0.5h-0.5zM343.5 222.6h0.5v0.5h-0.5zM346.5 222.6h0.5v0.5h-0.5zM353 222.6h0.5v0.5h-0.5zM354.5 222.6h1v0.5h-1zM356 222.6h0.5v0.5h-0.5zM357 222.6h1.5v0.5h-1.5zM324.5 223.1h0.5v0.5h-0.5zM327.5 223.1h1v0.5h-1zM329 223.1h0.5v0.5h-0.5zM330.5 223.1h0.5v0.5h-0.5zM332 223.1h0.5v0.5h-0.5zM336.5 223.1h0.5v0.5h-0.5zM341 223.1h1v0.5h-1zM343.5 223.1h1.5v0.5h-1.5zM346 223.1h0.5v0.5h-0.5zM352 223.1h0.5v0.5h-0.5zM354.5 223.1h2.5v0.5h-2.5zM359 223.1h0.5v0.5h-0.5zM329.5 223.6h1v0.5h-1zM334 223.6h0.5v0.5h-0.5zM337.5 223.6h0.5v0.5h-0.5zM339 223.6h0.5v0.5h-0.5zM340.5 223.6h0.5v0.5h-0.5zM347.5 223.6h0.5v0.5h-0.5zM349 223.6h1v0.5h-1zM352.5 223.6h1.5v0.5h-1.5zM354.5 223.6h0.5v0.5h-0.5zM355.5 223.6h1.5v0.5h-1.5zM359.5 223.6h0.5v0.5h-0.5zM360.5 223.6h0.5v0.5h-0.5zM324 224.1h0.5v0.5h-0.5zM333 224.1h0.5v0.5h-0.5zM337.5 224.1h1v0.5h-1zM341.5 224.1h0.5v0.5h-0.5zM344.5 224.1h1.5v0.5h-1.5zM346.5 224.1h1.5v0.5h-1.5zM348.5 224.1h0.5v0.5h-0.5zM350.5 224.1h0.5v0.5h-0.5zM351.5 224.1h3v0.5h-3zM355 224.1h0.5v0.5h-0.5zM356 224.1h0.5v0.5h-0.5zM357 224.1h0.5v0.5h-0.5zM359.5 224.1h0.5v0.5h-0.5zM325.5 224.6h0.5v0.5h-0.5zM333 224.6h0.5v0.5h-0.5zM338 224.6h0.5v0.5h-0.5zM343 224.6h1v0.5h-1zM347 224.6h0.5v0.5h-0.5zM348.5 224.6h1v0.5h-1zM351 224.6h4v0.5h-4zM357.5 224.6h0.5v0.5h-0.5zM358.5 224.6h0.5v0.5h-0.5zM328.5 225.1h0.5v0.5h-0.5zM329.5 225.1h0.5v0.5h-0.5zM331 225.1h0.5v0.5h-0.5zM339 225.1h0.5v0.5h-0.5zM341.5 225.1h0.5v0.5h-0.5zM343 225.1h1v0.5h-1zM350 225.1h0.5v0.5h-0.5zM353.5 225.1h1v0.5h-1zM355 225.1h1v0.5h-1zM357 225.1h0.5v0.5h-0.5zM358 225.1h0.5v0.5h-0.5zM322.5 225.6h0.5v0.5h-0.5zM343.5 225.6h0.5v0.5h-0.5zM344.5 225.6h0.5v0.5h-0.5zM348 225.6h0.5v0.5h-0.5zM350 225.6h0.5v0.5h-0.5zM351.5 225.6h1v0.5h-1zM353 225.6h2.5v0.5h-2.5zM356 225.6h1.5v0.5h-1.5zM358 225.6h0.5v0.5h-0.5zM329.5 226.1h0.5v0.5h-0.5zM332.5 226.1h0.5v0.5h-0.5zM334 226.1h1v0.5h-1zM338.5 226.1h0.5v0.5h-0.5zM341.5 226.1h0.5v0.5h-0.5zM343.5 226.1h0.5v0.5h-0.5zM347.5 226.1h0.5v0.5h-0.5zM350 226.1h0.5v0.5h-0.5zM352 226.1h1.5v0.5h-1.5zM354.5 226.1h3v0.5h-3zM358 226.1h0.5v0.5h-0.5zM323.5 226.6h0.5v0.5h-0.5zM326.5 226.6h0.5v0.5h-0.5zM336 226.6h0.5v0.5h-0.5zM337 226.6h0.5v0.5h-0.5zM344 226.6h0.5v0.5h-0.5zM345.5 226.6h0.5v0.5h-0.5zM349 226.6h0.5v0.5h-0.5zM351.5 226.6h1.5v0.5h-1.5zM353.5 226.6h1.5v0.5h-1.5zM355.5 226.6h1v0.5h-1zM357 226.6h1.5v0.5h-1.5zM359.5 226.6h0.5v0.5h-0.5zM327 227.1h0.5v0.5h-0.5zM330.5 227.1h0.5v0.5h-0.5zM334 227.1h0.5v0.5h-0.5zM336.5 227.1h0.5v0.5h-0.5zM342 227.1h0.5v0.5h-0.5zM346.5 227.1h1v0.5h-1zM350.5 227.1h0.5v0.5h-0.5zM352 227.1h2v0.5h-2zM354.5 227.1h0.5v0.5h-0.5zM355.5 227.1h2v0.5h-2zM358 227.1h0.5v0.5h-0.5zM359 227.1h0.5v0.5h-0.5zM323 227.6h0.5v0.5h-0.5zM324.5 227.6h0.5v0.5h-0.5zM326.5 227.6h0.5v0.5h-0.5zM331.5 227.6h1v0.5h-1zM341 227.6h1v0.5h-1zM343 227.6h1v0.5h-1zM345 227.6h0.5v0.5h-0.5zM347 227.6h0.5v0.5h-0.5zM349.5 227.6h0.5v0.5h-0.5zM351 227.6h0.5v0.5h-0.5zM352 227.6h1v0.5h-1zM353.5 227.6h1v0.5h-1zM355 227.6h1.5v0.5h-1.5zM357 227.6h0.5v0.5h-0.5zM361 227.6h0.5v0.5h-0.5zM362 227.6h0.5v0.5h-0.5zM323 228.1h0.5v0.5h-0.5zM324.5 228.1h0.5v0.5h-0.5zM336 228.1h0.5v0.5h-0.5zM337 228.1h0.5v0.5h-0.5zM338.5 228.1h0.5v0.5h-0.5zM346.5 228.1h0.5v0.5h-0.5zM347.5 228.1h0.5v0.5h-0.5zM350.5 228.1h0.5v0.5h-0.5zM352 228.1h3v0.5h-3zM356 228.1h1v0.5h-1zM357.5 228.1h1v0.5h-1zM325 228.6h0.5v0.5h-0.5zM326 228.6h0.5v0.5h-0.5zM333 228.6h0.5v0.5h-0.5zM334 228.6h0.5v0.5h-0.5zM339.5 228.6h0.5v0.5h-0.5zM341 228.6h0.5v0.5h-0.5zM347 228.6h0.5v0.5h-0.5zM348 228.6h0.5v0.5h-0.5zM351 228.6h0.5v0.5h-0.5zM353 228.6h0.5v0.5h-0.5zM355 228.6h1v0.5h-1zM356.5 228.6h1v0.5h-1zM334 229.1h0.5v0.5h-0.5zM337.5 229.1h1v0.5h-1zM339 229.1h0.5v0.5h-0.5zM340.5 229.1h0.5v0.5h-0.5zM344.5 229.1h0.5v0.5h-0.5zM346.5 229.1h0.5v0.5h-0.5zM348 229.1h0.5v0.5h-0.5zM352 229.1h0.5v0.5h-0.5zM353 229.1h4v0.5h-4zM359 229.1h1v0.5h-1zM332 229.6h0.5v0.5h-0.5zM339.5 229.6h0.5v0.5h-0.5zM342 229.6h0.5v0.5h-0.5zM346 229.6h0.5v0.5h-0.5zM351.5 229.6h1v0.5h-1zM353.5 229.6h2.5v0.5h-2.5zM357 229.6h0.5v0.5h-0.5zM359 229.6h0.5v0.5h-0.5zM324.5 230.1h0.5v0.5h-0.5zM326 230.1h0.5v0.5h-0.5zM331 230.1h1v0.5h-1zM334 230.1h1v0.5h-1zM336.5 230.1h0.5v0.5h-0.5zM338 230.1h0.5v0.5h-0.5zM341 230.1h0.5v0.5h-0.5zM343 230.1h0.5v0.5h-0.5zM349 230.1h0.5v0.5h-0.5zM353 230.1h1.5v0.5h-1.5zM356 230.1h0.5v0.5h-0.5zM358 230.1h0.5v0.5h-0.5zM328.5 230.6h0.5v0.5h-0.5zM331 230.6h0.5v0.5h-0.5zM335 230.6h1.5v0.5h-1.5zM337 230.6h0.5v0.5h-0.5zM346.5 230.6h0.5v0.5h-0.5zM353.5 230.6h2v0.5h-2zM356 230.6h0.5v0.5h-0.5zM324.5 231.1h0.5v0.5h-0.5zM328.5 231.1h0.5v0.5h-0.5zM329.5 231.1h0.5v0.5h-0.5zM337.5 231.1h0.5v0.5h-0.5zM338.5 231.1h0.5v0.5h-0.5zM341 231.1h0.5v0.5h-0.5zM347 231.1h0.5v0.5h-0.5zM351 231.1h1v0.5h-1zM353 231.1h2v0.5h-2zM355.5 231.1h0.5v0.5h-0.5zM356.5 231.1h0.5v0.5h-0.5zM357.5 231.1h1v0.5h-1zM327 231.6h0.5v0.5h-0.5zM331.5 231.6h0.5v0.5h-0.5zM335 231.6h1v0.5h-1zM337 231.6h0.5v0.5h-0.5zM339 231.6h0.5v0.5h-0.5zM346.5 231.6h0.5v0.5h-0.5zM347.5 231.6h0.5v0.5h-0.5zM348.5 231.6h0.5v0.5h-0.5zM353 231.6h1.5v0.5h-1.5zM355 231.6h1v0.5h-1zM356.5 231.6h0.5v0.5h-0.5zM357.5 231.6h1v0.5h-1zM323 232.1h0.5v0.5h-0.5zM324.5 232.1h1.5v0.5h-1.5zM327 232.1h0.5v0.5h-0.5zM328 232.1h0.5v0.5h-0.5zM335.5 232.1h0.5v0.5h-0.5zM339 232.1h0.5v0.5h-0.5zM340.5 232.1h0.5v0.5h-0.5zM344 232.1h0.5v0.5h-0.5zM347 232.1h0.5v0.5h-0.5zM351 232.1h1v0.5h-1zM353 232.1h0.5v0.5h-0.5zM354 232.1h1v0.5h-1zM355.5 232.1h1v0.5h-1zM357.5 232.1h1.5v0.5h-1.5zM322.5 232.6h1v0.5h-1zM326.5 232.6h0.5v0.5h-0.5zM335.5 232.6h0.5v0.5h-0.5zM351.5 232.6h1v0.5h-1zM353 232.6h1v0.5h-1zM355 232.6h0.5v0.5h-0.5zM356 232.6h1v0.5h-1zM323 233.1h0.5v0.5h-0.5zM328 233.1h0.5v0.5h-0.5zM338 233.1h0.5v0.5h-0.5zM339.5 233.1h1v0.5h-1zM341 233.1h0.5v0.5h-0.5zM344.5 233.1h0.5v0.5h-0.5zM351 233.1h1v0.5h-1zM353.5 233.1h2v0.5h-2zM356 233.1h0.5v0.5h-0.5zM357 233.1h1v0.5h-1zM322.5 233.6h0.5v0.5h-0.5zM323.5 233.6h1v0.5h-1zM327.5 233.6h0.5v0.5h-0.5zM329 233.6h0.5v0.5h-0.5zM331 233.6h0.5v0.5h-0.5zM332.5 233.6h0.5v0.5h-0.5zM333.5 233.6h0.5v0.5h-0.5zM344 233.6h0.5v0.5h-0.5zM347 233.6h0.5v0.5h-0.5zM349.5 233.6h0.5v0.5h-0.5zM352 233.6h1.5v0.5h-1.5zM354.5 233.6h3v0.5h-3zM333.5 234.1h0.5v0.5h-0.5zM338.5 234.1h0.5v0.5h-0.5zM339.5 234.1h0.5v0.5h-0.5zM342 234.1h0.5v0.5h-0.5zM343 234.1h0.5v0.5h-0.5zM350 234.1h1v0.5h-1zM353 234.1h0.5v0.5h-0.5zM354 234.1h1v0.5h-1zM356.5 234.1h1v0.5h-1zM322.5 234.6h0.5v0.5h-0.5zM325 234.6h0.5v0.5h-0.5zM334.5 234.6h0.5v0.5h-0.5zM339.5 234.6h1v0.5h-1zM341 234.6h0.5v0.5h-0.5zM342 234.6h0.5v0.5h-0.5zM346.5 234.6h0.5v0.5h-0.5zM347.5 234.6h0.5v0.5h-0.5zM349 234.6h0.5v0.5h-0.5zM353 234.6h1.5v0.5h-1.5zM355 234.6h0.5v0.5h-0.5zM357 234.6h0.5v0.5h-0.5zM327.5 235.1h0.5v0.5h-0.5zM332 235.1h1v0.5h-1zM334 235.1h0.5v0.5h-0.5zM335 235.1h0.5v0.5h-0.5zM340.5 235.1h0.5v0.5h-0.5zM350.5 235.1h1v0.5h-1zM352 235.1h1v0.5h-1zM356.5 235.1h1v0.5h-1zM324.5 235.6h1v0.5h-1zM334.5 235.6h0.5v0.5h-0.5zM335.5 235.6h1v0.5h-1zM338 235.6h0.5v0.5h-0.5zM340.5 235.6h0.5v0.5h-0.5zM342.5 235.6h0.5v0.5h-0.5zM345 235.6h0.5v0.5h-0.5zM348 235.6h0.5v0.5h-0.5zM349.5 235.6h0.5v0.5h-0.5zM350.5 235.6h0.5v0.5h-0.5zM353.5 235.6h1v0.5h-1zM355 235.6h0.5v0.5h-0.5zM357.5 235.6h0.5v0.5h-0.5zM326.5 236.1h0.5v0.5h-0.5zM331 236.1h0.5v0.5h-0.5zM339.5 236.1h0.5v0.5h-0.5zM348.5 236.1h0.5v0.5h-0.5zM350 236.1h0.5v0.5h-0.5zM352 236.1h0.5v0.5h-0.5zM353.5 236.1h1.5v0.5h-1.5zM355.5 236.1h0.5v0.5h-0.5zM356.5 236.1h0.5v0.5h-0.5zM358 236.1h0.5v0.5h-0.5zM360 236.1h0.5v0.5h-0.5zM326.5 236.6h0.5v0.5h-0.5zM329.5 236.6h0.5v0.5h-0.5zM330.5 236.6h1v0.5h-1zM336.5 236.6h0.5v0.5h-0.5zM337.5 236.6h0.5v0.5h-0.5zM341 236.6h0.5v0.5h-0.5zM354 236.6h0.5v0.5h-0.5zM355 236.6h0.5v0.5h-0.5zM356 236.6h1v0.5h-1zM357.5 236.6h0.5v0.5h-0.5zM326 237.1h0.5v0.5h-0.5zM332 237.1h0.5v0.5h-0.5zM339.5 237.1h0.5v0.5h-0.5zM350.5 237.1h0.5v0.5h-0.5zM352.5 237.1h0.5v0.5h-0.5zM353.5 237.1h0.5v0.5h-0.5zM354.5 237.1h0.5v0.5h-0.5zM355.5 237.1h0.5v0.5h-0.5zM357 237.1h0.5v0.5h-0.5zM358.5 237.1h0.5v0.5h-0.5zM331.5 237.6h0.5v0.5h-0.5zM341 237.6h0.5v0.5h-0.5zM342 237.6h0.5v0.5h-0.5zM343 237.6h0.5v0.5h-0.5zM345 237.6h0.5v0.5h-0.5zM346 237.6h1v0.5h-1zM350.5 237.6h0.5v0.5h-0.5zM353.5 237.6h0.5v0.5h-0.5zM355.5 237.6h2v0.5h-2zM358 237.6h1v0.5h-1zM323 238.1h0.5v0.5h-0.5zM326 238.1h0.5v0.5h-0.5zM327.5 238.1h0.5v0.5h-0.5zM338.5 238.1h1v0.5h-1zM340.5 238.1h0.5v0.5h-0.5zM341.5 238.1h0.5v0.5h-0.5zM344 238.1h2v0.5h-2zM347.5 238.1h0.5v0.5h-0.5zM352.5 238.1h1v0.5h-1zM354.5 238.1h0.5v0.5h-0.5zM355.5 238.1h2v0.5h-2zM327 238.6h0.5v0.5h-0.5zM352.5 238.6h0.5v0.5h-0.5zM354.5 238.6h1.5v0.5h-1.5zM356.5 238.6h1v0.5h-1zM322.5 239.1h0.5v0.5h-0.5zM329.5 239.1h0.5v0.5h-0.5zM332.5 239.1h0.5v0.5h-0.5zM335.5 239.1h0.5v0.5h-0.5zM338 239.1h0.5v0.5h-0.5zM341.5 239.1h0.5v0.5h-0.5zM344 239.1h0.5v0.5h-0.5zM345 239.1h0.5v0.5h-0.5zM352.5 239.1h0.5v0.5h-0.5zM354.5 239.1h0.5v0.5h-0.5zM356 239.1h0.5v0.5h-0.5zM357 239.1h0.5v0.5h-0.5zM359 239.1h0.5v0.5h-0.5zM322.5 239.6h0.5v0.5h-0.5zM325 239.6h0.5v0.5h-0.5zM329 239.6h0.5v0.5h-0.5zM336 239.6h0.5v0.5h-0.5zM338.5 239.6h0.5v0.5h-0.5zM341 239.6h1v0.5h-1zM344 239.6h0.5v0.5h-0.5zM345.5 239.6h0.5v0.5h-0.5zM349.5 239.6h0.5v0.5h-0.5zM352.5 239.6h3v0.5h-3zM356 239.6h0.5v0.5h-0.5zM358 239.6h0.5v0.5h-0.5zM323.5 240.1h0.5v0.5h-0.5zM324.5 240.1h0.5v0.5h-0.5zM335 240.1h0.5v0.5h-0.5zM342.5 240.1h0.5v0.5h-0.5zM345 240.1h1.5v0.5h-1.5zM347.5 240.1h1v0.5h-1zM351.5 240.1h1v0.5h-1zM353.5 240.1h1.5v0.5h-1.5zM324 240.6h0.5v0.5h-0.5zM332.5 240.6h0.5v0.5h-0.5zM336.5 240.6h0.5v0.5h-0.5zM345 240.6h0.5v0.5h-0.5zM352.5 240.6h1.5v0.5h-1.5zM355.5 240.6h0.5v0.5h-0.5zM356.5 240.6h0.5v0.5h-0.5zM322.5 241.1h0.5v0.5h-0.5zM326.5 241.1h0.5v0.5h-0.5zM335 241.1h0.5v0.5h-0.5zM337.5 241.1h0.5v0.5h-0.5zM341.5 241.1h0.5v0.5h-0.5zM346 241.1h0.5v0.5h-0.5zM351.5 241.1h1v0.5h-1zM353 241.1h1v0.5h-1zM354.5 241.1h2.5v0.5h-2.5zM357.5 241.1h0.5v0.5h-0.5zM358.5 241.1h0.5v0.5h-0.5zM359.5 241.1h0.5v0.5h-0.5zM325 241.6h0.5v0.5h-0.5zM326.5 241.6h1v0.5h-1zM329 241.6h0.5v0.5h-0.5zM330 241.6h1v0.5h-1zM332 241.6h0.5v0.5h-0.5zM351.5 241.6h0.5v0.5h-0.5zM352.5 241.6h1v0.5h-1zM354 241.6h1v0.5h-1zM355.5 241.6h0.5v0.5h-0.5zM356.5 241.6h0.5v0.5h-0.5zM359 241.6h0.5v0.5h-0.5zM322.5 242.1h0.5v0.5h-0.5zM330.5 242.1h1v0.5h-1zM338 242.1h0.5v0.5h-0.5zM340.5 242.1h0.5v0.5h-0.5zM342 242.1h0.5v0.5h-0.5zM345.5 242.1h0.5v0.5h-0.5zM351 242.1h1v0.5h-1zM353 242.1h0.5v0.5h-0.5zM354 242.1h2v0.5h-2zM357 242.1h0.5v0.5h-0.5zM358 242.1h0.5v0.5h-0.5z" fill="#161616" filter="url(#b)"/>
<rect x="322.50" y="169.60" width="72.10" height="72.80" stroke="#505050" stroke-width="0.8" fill="none"/>
<text x="324.40" y="244.90" font-size="2.6" text-anchor="middle" fill="#2a2a2a" font-weight="normal">10<tspan dy="-1" font-size="1.8">0</tspan></text>
<text x="321.30" y="239.20" font-size="2.6" text-anchor="end" fill="#2a2a2a" font-weight="normal">10<tspan dy="-1" font-size="1.8">0</tspan></text>
<text x="342.12" y="244.90" font-size="2.6" text-anchor="middle" fill="#2a2a2a" font-weight="normal">10<tspan dy="-1" font-size="1.8">1</tspan></text>
<text x="321.30" y="221.45" font-size="2.6" text-anchor="end" fill="#2a2a2a" font-weight="normal">10<tspan dy="-1" font-size="1.8">1</tspan></text>
<text x="359.85" y="244.90" font-size="2.6" text-anchor="middle" fill="#2a2a2a" font-weight="normal">10<tspan dy="-1" font-size="1.8">2</tspan></text>
<text x="321.30" y="203.71" font-size="2.6" text-anchor="end" fill="#2a2a2a" font-weight="normal">10<tspan dy="-1" font-size="1.8">2</tspan></text>
<text x="377.57" y="244.90" font-size="2.6" text-anchor="middle" fill="#2a2a2a" font-weight="normal">10<tspan dy="-1" font-size="1.8">3</tspan></text>
<text x="321.30" y="185.96" font-size="2.6" text-anchor="end" fill="#2a2a2a" font-weight="normal">10<tspan dy="-1" font-size="1.8">3</tspan></text>
<text x="395.30" y="244.90" font-size="2.6" text-anchor="middle" fill="#2a2a2a" font-weight="normal">10<tspan dy="-1" font-size="1.8">4</tspan></text>
<text x="321.30" y="168.21" font-size="2.6" text-anchor="end" fill="#2a2a2a" font-weight="normal">10<tspan dy="-1" font-size="1.8">4</tspan></text>
<text x="357.61" y="248.80" font-size="2.9" text-anchor="middle" fill="#2a2a2a">CD94 FITC</text>
<text transform="translate(317.50 205.27) rotate(-90)" font-size="2.9" text-anchor="middle" fill="#2a2a2a">CD117 PE</text>
<text x="326.40" y="188.50" font-size="8.9" text-anchor="start" fill="#111" >50</text>
<text x="351.60" y="204.40" font-size="8.9" text-anchor="start" fill="#111" >40</text>
<rect x="413.70" y="193.60" width="16.70" height="25.80" stroke="#444" stroke-width="0.55" fill="none"/>
<rect x="432.60" y="207.30" width="26.10" height="35.10" stroke="#444" stroke-width="0.55" fill="none"/>
<path d="M423.7 188.6h0.5v0.5h-0.5zM429.2 192.1h0.5v0.5h-0.5zM430.7 192.1h0.5v0.5h-0.5zM431.7 192.1h0.5v0.5h-0.5zM414.2 193.1h0.5v0.5h-0.5zM418.7 193.6h0.5v0.5h-0.5zM421.2 193.6h0.5v0.5h-0.5zM425.7 193.6h0.5v0.5h-0.5zM415.2 194.1h0.5v0.5h-0.5zM421.2 194.1h0.5v0.5h-0.5zM428.7 194.1h0.5v0.5h-0.5zM432.7 194.1h0.5v0.5h-0.5zM420.7 194.6h0.5v0.5h-0.5zM426.7 195.1h0.5v0.5h-0.5zM422.2 196.1h0.5v0.5h-0.5zM428.2 196.1h0.5v0.5h-0.5zM447.2 196.1h0.5v0.5h-0.5zM417.2 196.6h0.5v0.5h-0.5zM427.7 196.6h1v0.5h-1zM415.7 197.1h1v0.5h-1zM419.2 197.1h0.5v0.5h-0.5zM420.7 197.1h0.5v0.5h-0.5zM426.2 197.1h0.5v0.5h-0.5zM427.2 197.1h0.5v0.5h-0.5zM416.2 197.6h0.5v0.5h-0.5zM420.2 197.6h0.5v0.5h-0.5zM422.7 197.6h0.5v0.5h-0.5zM426.2 197.6h0.5v0.5h-0.5zM429.2 197.6h0.5v0.5h-0.5zM415.2 198.1h1v0.5h-1zM417.2 198.1h0.5v0.5h-0.5zM418.7 198.1h0.5v0.5h-0.5zM419.7 198.1h1v0.5h-1zM422.7 198.1h0.5v0.5h-0.5zM416.7 198.6h1v0.5h-1zM419.2 198.6h0.5v0.5h-0.5zM420.7 198.6h2v0.5h-2zM423.2 198.6h0.5v0.5h-0.5zM427.7 198.6h0.5v0.5h-0.5zM419.2 199.1h0.5v0.5h-0.5zM420.7 199.1h0.5v0.5h-0.5zM423.2 199.1h1v0.5h-1zM426.7 199.1h0.5v0.5h-0.5zM428.2 199.1h1v0.5h-1zM434.2 199.1h0.5v0.5h-0.5zM414.2 199.6h0.5v0.5h-0.5zM420.2 199.6h1.5v0.5h-1.5zM422.7 199.6h0.5v0.5h-0.5zM425.2 199.6h0.5v0.5h-0.5zM433.7 199.6h1v0.5h-1zM414.7 200.1h0.5v0.5h-0.5zM416.2 200.1h0.5v0.5h-0.5zM418.7 200.1h0.5v0.5h-0.5zM420.7 200.1h1v0.5h-1zM422.7 200.1h0.5v0.5h-0.5zM424.2 200.1h0.5v0.5h-0.5zM425.7 200.1h1v0.5h-1zM430.7 200.1h1v0.5h-1zM434.2 200.1h0.5v0.5h-0.5zM414.7 200.6h1v0.5h-1zM416.2 200.6h0.5v0.5h-0.5zM418.2 200.6h0.5v0.5h-0.5zM419.2 200.6h1v0.5h-1zM421.2 200.6h0.5v0.5h-0.5zM422.2 200.6h1.5v0.5h-1.5zM429.2 200.6h1v0.5h-1zM414.7 201.1h0.5v0.5h-0.5zM416.2 201.1h1v0.5h-1zM418.7 201.1h0.5v0.5h-0.5zM420.7 201.1h0.5v0.5h-0.5zM422.2 201.1h1v0.5h-1zM423.7 201.1h1v0.5h-1zM425.7 201.1h1v0.5h-1zM414.2 201.6h1v0.5h-1zM417.2 201.6h1.5v0.5h-1.5zM419.7 201.6h0.5v0.5h-0.5zM420.7 201.6h2v0.5h-2zM424.2 201.6h1v0.5h-1zM425.7 201.6h0.5v0.5h-0.5zM426.7 201.6h1v0.5h-1zM433.2 201.6h0.5v0.5h-0.5zM435.7 201.6h0.5v0.5h-0.5zM414.7 202.1h0.5v0.5h-0.5zM416.2 202.1h2.5v0.5h-2.5zM419.7 202.1h0.5v0.5h-0.5zM420.7 202.1h1v0.5h-1zM422.2 202.1h0.5v0.5h-0.5zM423.2 202.1h1v0.5h-1zM426.2 202.1h0.5v0.5h-0.5zM427.2 202.1h0.5v0.5h-0.5zM428.2 202.1h0.5v0.5h-0.5zM429.2 202.1h0.5v0.5h-0.5zM430.7 202.1h0.5v0.5h-0.5zM432.2 202.1h0.5v0.5h-0.5zM433.7 202.1h0.5v0.5h-0.5zM435.2 202.1h0.5v0.5h-0.5zM414.2 202.6h0.5v0.5h-0.5zM416.2 202.6h1.5v0.5h-1.5zM418.2 202.6h2v0.5h-2zM421.2 202.6h1v0.5h-1zM422.7 202.6h0.5v0.5h-0.5zM424.2 202.6h1v0.5h-1zM425.7 202.6h1.5v0.5h-1.5zM427.7 202.6h1v0.5h-1zM437.7 202.6h0.5v0.5h-0.5zM413.7 203.1h1.5v0.5h-1.5zM415.7 203.1h1v0.5h-1zM417.2 203.1h1.5v0.5h-1.5zM419.2 203.1h2v0.5h-2zM421.7 203.1h2.5v0.5h-2.5zM426.7 203.1h0.5v0.5h-0.5zM427.7 203.1h0.5v0.5h-0.5zM428.7 203.1h0.5v0.5h-0.5zM429.7 203.1h1v0.5h-1zM413.7 203.6h1.5v0.5h-1.5zM416.2 203.6h0.5v0.5h-0.5zM417.2 203.6h1v0.5h-1zM419.2 203.6h0.5v0.5h-0.5zM420.7 203.6h3v0.5h-3zM424.7 203.6h1.5v0.5h-1.5zM426.7 203.6h1.5v0.5h-1.5zM429.2 203.6h1v0.5h-1zM413.7 204.1h1v0.5h-1zM415.2 204.1h0.5v0.5h-0.5zM416.2 204.1h1.5v0.5h-1.5zM418.2 204.1h0.5v0.5h-0.5zM419.2 204.1h0.5v0.5h-0.5zM420.2 204.1h3.5v0.5h-3.5zM424.2 204.1h0.5v0.5h-0.5zM426.2 204.1h0.5v0.5h-0.5zM429.2 204.1h0.5v0.5h-0.5zM430.7 204.1h0.5v0.5h-0.5zM414.2 204.6h0.5v0.5h-0.5zM415.7 204.6h0.5v0.5h-0.5zM418.2 204.6h0.5v0.5h-0.5zM419.2 204.6h6.5v0.5h-6.5zM426.2 204.6h0.5v0.5h-0.5zM428.2 204.6h1v0.5h-1zM413.7 205.1h0.5v0.5h-0.5zM414.7 205.1h1.5v0.5h-1.5zM417.2 205.1h3.5v0.5h-3.5zM421.2 205.1h1.5v0.5h-1.5zM423.2 205.1h0.5v0.5h-0.5zM424.2 205.1h3v0.5h-3zM429.2 205.1h0.5v0.5h-0.5zM432.2 205.1h0.5v0.5h-0.5zM434.2 205.1h0.5v0.5h-0.5zM414.2 205.6h0.5v0.5h-0.5zM415.7 205.6h2v0.5h-2zM418.2 205.6h1v0.5h-1zM419.7 205.6h5.5v0.5h-5.5zM426.7 205.6h1v0.5h-1zM431.2 205.6h0.5v0.5h-0.5zM433.7 205.6h0.5v0.5h-0.5zM413.7 206.1h0.5v0.5h-0.5zM414.7 206.1h3v0.5h-3zM418.2 206.1h2v0.5h-2zM420.7 206.1h4.5v0.5h-4.5zM425.7 206.1h2v0.5h-2zM428.7 206.1h0.5v0.5h-0.5zM430.2 206.1h0.5v0.5h-0.5zM433.2 206.1h0.5v0.5h-0.5zM438.2 206.1h0.5v0.5h-0.5zM414.2 206.6h0.5v0.5h-0.5zM415.2 206.6h1.5v0.5h-1.5zM417.2 206.6h0.5v0.5h-0.5zM418.2 206.6h6.5v0.5h-6.5zM426.2 206.6h0.5v0.5h-0.5zM427.2 206.6h0.5v0.5h-0.5zM428.7 206.6h0.5v0.5h-0.5zM429.7 206.6h0.5v0.5h-0.5zM432.2 206.6h0.5v0.5h-0.5zM433.7 206.6h0.5v0.5h-0.5zM434.7 206.6h0.5v0.5h-0.5zM440.7 206.6h0.5v0.5h-0.5zM413.7 207.1h0.5v0.5h-0.5zM415.2 207.1h13v0.5h-13zM429.7 207.1h0.5v0.5h-0.5zM431.2 207.1h0.5v0.5h-0.5zM432.2 207.1h0.5v0.5h-0.5zM435.7 207.1h0.5v0.5h-0.5zM437.2 207.1h0.5v0.5h-0.5zM414.7 207.6h0.5v0.5h-0.5zM415.7 207.6h1.5v0.5h-1.5zM417.7 207.6h6.5v0.5h-6.5zM424.7 207.6h1v0.5h-1zM426.7 207.6h0.5v0.5h-0.5zM427.7 207.6h1v0.5h-1zM429.2 207.6h1v0.5h-1zM430.7 207.6h0.5v0.5h-0.5zM414.2 208.1h1v0.5h-1zM416.7 208.1h9.5v0.5h-9.5zM426.7 208.1h0.5v0.5h-0.5zM427.7 208.1h1.5v0.5h-1.5zM433.2 208.1h0.5v0.5h-0.5zM435.7 208.1h0.5v0.5h-0.5zM437.7 208.1h0.5v0.5h-0.5zM438.7 208.1h0.5v0.5h-0.5zM444.7 208.1h0.5v0.5h-0.5zM413.7 208.6h0.5v0.5h-0.5zM414.7 208.6h0.5v0.5h-0.5zM415.7 208.6h0.5v0.5h-0.5zM416.7 208.6h0.5v0.5h-0.5zM417.7 208.6h4.5v0.5h-4.5zM422.7 208.6h3v0.5h-3zM427.7 208.6h0.5v0.5h-0.5zM429.7 208.6h0.5v0.5h-0.5zM414.2 209.1h1v0.5h-1zM415.7 209.1h1v0.5h-1zM417.2 209.1h0.5v0.5h-0.5zM418.2 209.1h6v0.5h-6zM425.2 209.1h0.5v0.5h-0.5zM426.2 209.1h1v0.5h-1zM427.7 209.1h1.5v0.5h-1.5zM414.2 209.6h1v0.5h-1zM415.7 209.6h6.5v0.5h-6.5zM422.7 209.6h3v0.5h-3zM426.2 209.6h1v0.5h-1zM428.7 209.6h0.5v0.5h-0.5zM430.2 209.6h0.5v0.5h-0.5zM431.2 209.6h0.5v0.5h-0.5zM432.7 209.6h0.5v0.5h-0.5zM433.7 209.6h0.5v0.5h-0.5zM415.2 210.1h0.5v0.5h-0.5zM416.2 210.1h1.5v0.5h-1.5zM418.2 210.1h1v0.5h-1zM419.7 210.1h6.5v0.5h-6.5zM426.7 210.1h0.5v0.5h-0.5zM427.7 210.1h2.5v0.5h-2.5zM434.7 210.1h0.5v0.5h-0.5zM436.2 210.1h1v0.5h-1zM440.7 210.1h0.5v0.5h-0.5zM413.7 210.6h1.5v0.5h-1.5zM415.7 210.6h1v0.5h-1zM417.7 210.6h0.5v0.5h-0.5zM418.7 210.6h1.5v0.5h-1.5zM420.7 210.6h4v0.5h-4zM425.2 210.6h0.5v0.5h-0.5zM427.2 210.6h0.5v0.5h-0.5zM428.2 210.6h0.5v0.5h-0.5zM431.2 210.6h0.5v0.5h-0.5zM432.2 210.6h0.5v0.5h-0.5zM436.2 210.6h0.5v0.5h-0.5zM438.7 210.6h0.5v0.5h-0.5zM447.7 210.6h0.5v0.5h-0.5zM414.7 211.1h0.5v0.5h-0.5zM415.7 211.1h1v0.5h-1zM418.2 211.1h6v0.5h-6zM425.2 211.1h1v0.5h-1zM426.7 211.1h0.5v0.5h-0.5zM428.2 211.1h1v0.5h-1zM429.7 211.1h0.5v0.5h-0.5zM432.2 211.1h0.5v0.5h-0.5zM433.7 211.1h1v0.5h-1zM442.2 211.1h0.5v0.5h-0.5zM414.7 211.6h0.5v0.5h-0.5zM415.7 211.6h1v0.5h-1zM417.7 211.6h8.5v0.5h-8.5zM426.7 211.6h0.5v0.5h-0.5zM428.7 211.6h1v0.5h-1zM442.7 211.6h2v0.5h-2zM445.2 211.6h0.5v0.5h-0.5zM451.2 211.6h0.5v0.5h-0.5zM415.2 212.1h0.5v0.5h-0.5zM416.2 212.1h1.5v0.5h-1.5zM418.2 212.1h0.5v0.5h-0.5zM419.2 212.1h2v0.5h-2zM422.2 212.1h1.5v0.5h-1.5zM424.7 212.1h1v0.5h-1zM426.7 212.1h2v0.5h-2zM429.7 212.1h0.5v0.5h-0.5zM433.2 212.1h0.5v0.5h-0.5zM434.2 212.1h0.5v0.5h-0.5zM443.7 212.1h0.5v0.5h-0.5zM415.2 212.6h1v0.5h-1zM416.7 212.6h2v0.5h-2zM419.2 212.6h1.5v0.5h-1.5zM421.2 212.6h2v0.5h-2zM423.7 212.6h1.5v0.5h-1.5zM426.2 212.6h0.5v0.5h-0.5zM428.2 212.6h1v0.5h-1zM430.7 212.6h1v0.5h-1zM433.2 212.6h1.5v0.5h-1.5zM435.7 212.6h0.5v0.5h-0.5zM436.7 212.6h0.5v0.5h-0.5zM439.7 212.6h0.5v0.5h-0.5zM442.7 212.6h0.5v0.5h-0.5zM447.2 212.6h0.5v0.5h-0.5zM449.2 212.6h0.5v0.5h-0.5zM415.7 213.1h2v0.5h-2zM418.2 213.1h0.5v0.5h-0.5zM419.2 213.1h1v0.5h-1zM420.7 213.1h0.5v0.5h-0.5zM421.7 213.1h2v0.5h-2zM424.7 213.1h1.5v0.5h-1.5zM427.2 213.1h1v0.5h-1zM431.2 213.1h0.5v0.5h-0.5zM433.2 213.1h0.5v0.5h-0.5zM434.2 213.1h0.5v0.5h-0.5zM442.7 213.1h0.5v0.5h-0.5zM448.2 213.1h0.5v0.5h-0.5zM451.7 213.1h1v0.5h-1zM413.7 213.6h0.5v0.5h-0.5zM415.2 213.6h0.5v0.5h-0.5zM417.2 213.6h2.5v0.5h-2.5zM420.7 213.6h0.5v0.5h-0.5zM421.7 213.6h4v0.5h-4zM428.2 213.6h0.5v0.5h-0.5zM429.7 213.6h0.5v0.5h-0.5zM438.7 213.6h0.5v0.5h-0.5zM442.7 213.6h0.5v0.5h-0.5zM446.7 213.6h0.5v0.5h-0.5zM414.2 214.1h1.5v0.5h-1.5zM416.2 214.1h1.5v0.5h-1.5zM418.2 214.1h1v0.5h-1zM419.7 214.1h0.5v0.5h-0.5zM420.7 214.1h0.5v0.5h-0.5zM422.2 214.1h1v0.5h-1zM424.2 214.1h1v0.5h-1zM425.7 214.1h0.5v0.5h-0.5zM426.7 214.1h0.5v0.5h-0.5zM427.7 214.1h1v0.5h-1zM429.2 214.1h0.5v0.5h-0.5zM432.7 214.1h1v0.5h-1zM435.2 214.1h0.5v0.5h-0.5zM437.2 214.1h0.5v0.5h-0.5zM440.7 214.1h0.5v0.5h-0.5zM441.7 214.1h1v0.5h-1zM443.2 214.1h0.5v0.5h-0.5zM414.2 214.6h0.5v0.5h-0.5zM416.2 214.6h1.5v0.5h-1.5zM418.2 214.6h0.5v0.5h-0.5zM419.2 214.6h1v0.5h-1zM421.2 214.6h0.5v0.5h-0.5zM422.7 214.6h0.5v0.5h-0.5zM423.7 214.6h0.5v0.5h-0.5zM424.7 214.6h1v0.5h-1zM426.2 214.6h0.5v0.5h-0.5zM427.7 214.6h0.5v0.5h-0.5zM428.7 214.6h0.5v0.5h-0.5zM430.2 214.6h0.5v0.5h-0.5zM431.7 214.6h0.5v0.5h-0.5zM433.2 214.6h0.5v0.5h-0.5zM434.2 214.6h1v0.5h-1zM440.7 214.6h0.5v0.5h-0.5zM444.7 214.6h0.5v0.5h-0.5zM447.2 214.6h0.5v0.5h-0.5zM451.2 214.6h0.5v0.5h-0.5zM415.7 215.1h0.5v0.5h-0.5zM417.2 215.1h1v0.5h-1zM418.7 215.1h1v0.5h-1zM420.2 215.1h1.5v0.5h-1.5zM422.7 215.1h1.5v0.5h-1.5zM425.2 215.1h1v0.5h-1zM426.7 215.1h1.5v0.5h-1.5zM429.2 215.1h0.5v0.5h-0.5zM433.2 215.1h0.5v0.5h-0.5zM435.2 215.1h1.5v0.5h-1.5zM437.2 215.1h0.5v0.5h-0.5zM439.7 215.1h0.5v0.5h-0.5zM442.7 215.1h0.5v0.5h-0.5zM444.2 215.1h0.5v0.5h-0.5zM451.7 215.1h0.5v0.5h-0.5zM414.2 215.6h0.5v0.5h-0.5zM416.2 215.6h1v0.5h-1zM417.7 215.6h2v0.5h-2zM420.2 215.6h0.5v0.5h-0.5zM421.2 215.6h0.5v0.5h-0.5zM423.2 215.6h0.5v0.5h-0.5zM424.7 215.6h0.5v0.5h-0.5zM425.7 215.6h0.5v0.5h-0.5zM427.7 215.6h1v0.5h-1zM431.7 215.6h0.5v0.5h-0.5zM433.2 215.6h0.5v0.5h-0.5zM435.7 215.6h0.5v0.5h-0.5zM436.7 215.6h0.5v0.5h-0.5zM440.2 215.6h0.5v0.5h-0.5zM445.2 215.6h0.5v0.5h-0.5zM446.2 215.6h0.5v0.5h-0.5zM416.2 216.1h3v0.5h-3zM419.7 216.1h2v0.5h-2zM422.2 216.1h2v0.5h-2zM425.7 216.1h0.5v0.5h-0.5zM427.2 216.1h0.5v0.5h-0.5zM431.7 216.1h0.5v0.5h-0.5zM433.7 216.1h1v0.5h-1zM436.2 216.1h0.5v0.5h-0.5zM438.2 216.1h0.5v0.5h-0.5zM444.7 216.1h0.5v0.5h-0.5zM447.2 216.1h0.5v0.5h-0.5zM413.7 216.6h0.5v0.5h-0.5zM415.2 216.6h2v0.5h-2zM418.7 216.6h0.5v0.5h-0.5zM420.2 216.6h0.5v0.5h-0.5zM421.2 216.6h1v0.5h-1zM423.2 216.6h0.5v0.5h-0.5zM425.2 216.6h0.5v0.5h-0.5zM426.7 216.6h0.5v0.5h-0.5zM427.7 216.6h0.5v0.5h-0.5zM428.7 216.6h0.5v0.5h-0.5zM429.7 216.6h0.5v0.5h-0.5zM434.7 216.6h0.5v0.5h-0.5zM435.7 216.6h1v0.5h-1zM437.7 216.6h0.5v0.5h-0.5zM438.7 216.6h0.5v0.5h-0.5zM441.2 216.6h1.5v0.5h-1.5zM444.2 216.6h0.5v0.5h-0.5zM447.2 216.6h0.5v0.5h-0.5zM414.2 217.1h1v0.5h-1zM418.2 217.1h0.5v0.5h-0.5zM420.2 217.1h1v0.5h-1zM424.2 217.1h0.5v0.5h-0.5zM425.2 217.1h0.5v0.5h-0.5zM427.7 217.1h0.5v0.5h-0.5zM431.2 217.1h0.5v0.5h-0.5zM432.2 217.1h1v0.5h-1zM434.2 217.1h0.5v0.5h-0.5zM436.7 217.1h0.5v0.5h-0.5zM440.7 217.1h0.5v0.5h-0.5zM442.2 217.1h0.5v0.5h-0.5zM444.2 217.1h0.5v0.5h-0.5zM416.2 217.6h1v0.5h-1zM419.2 217.6h0.5v0.5h-0.5zM420.7 217.6h0.5v0.5h-0.5zM421.7 217.6h1v0.5h-1zM424.2 217.6h1.5v0.5h-1.5zM426.2 217.6h0.5v0.5h-0.5zM428.7 217.6h0.5v0.5h-0.5zM430.7 217.6h1v0.5h-1zM437.2 217.6h0.5v0.5h-0.5zM440.2 217.6h0.5v0.5h-0.5zM442.7 217.6h0.5v0.5h-0.5zM445.2 217.6h0.5v0.5h-0.5zM447.7 217.6h0.5v0.5h-0.5zM450.7 217.6h0.5v0.5h-0.5zM417.2 218.1h0.5v0.5h-0.5zM423.2 218.1h0.5v0.5h-0.5zM425.7 218.1h1.5v0.5h-1.5zM431.2 218.1h0.5v0.5h-0.5zM436.7 218.1h0.5v0.5h-0.5zM437.7 218.1h0.5v0.5h-0.5zM444.7 218.1h0.5v0.5h-0.5zM451.7 218.1h0.5v0.5h-0.5zM416.2 218.6h0.5v0.5h-0.5zM417.2 218.6h0.5v0.5h-0.5zM420.2 218.6h0.5v0.5h-0.5zM422.7 218.6h0.5v0.5h-0.5zM424.2 218.6h0.5v0.5h-0.5zM426.2 218.6h0.5v0.5h-0.5zM429.7 218.6h0.5v0.5h-0.5zM435.2 218.6h0.5v0.5h-0.5zM436.7 218.6h0.5v0.5h-0.5zM439.7 218.6h1v0.5h-1zM441.2 218.6h0.5v0.5h-0.5zM443.2 218.6h0.5v0.5h-0.5zM445.7 218.6h0.5v0.5h-0.5zM414.7 219.1h0.5v0.5h-0.5zM417.2 219.1h0.5v0.5h-0.5zM418.2 219.1h0.5v0.5h-0.5zM424.2 219.1h0.5v0.5h-0.5zM425.2 219.1h0.5v0.5h-0.5zM426.2 219.1h0.5v0.5h-0.5zM427.2 219.1h0.5v0.5h-0.5zM432.7 219.1h0.5v0.5h-0.5zM434.7 219.1h0.5v0.5h-0.5zM436.2 219.1h0.5v0.5h-0.5zM437.7 219.1h0.5v0.5h-0.5zM444.2 219.1h0.5v0.5h-0.5zM448.7 219.1h1v0.5h-1zM414.2 219.6h0.5v0.5h-0.5zM415.2 219.6h0.5v0.5h-0.5zM421.2 219.6h1v0.5h-1zM422.7 219.6h0.5v0.5h-0.5zM423.7 219.6h1v0.5h-1zM430.2 219.6h0.5v0.5h-0.5zM435.7 219.6h0.5v0.5h-0.5zM436.7 219.6h0.5v0.5h-0.5zM437.7 219.6h0.5v0.5h-0.5zM439.7 219.6h1v0.5h-1zM442.2 219.6h0.5v0.5h-0.5zM444.2 219.6h0.5v0.5h-0.5zM448.7 219.6h0.5v0.5h-0.5zM414.2 220.1h0.5v0.5h-0.5zM415.2 220.1h1v0.5h-1zM417.7 220.1h0.5v0.5h-0.5zM419.2 220.1h0.5v0.5h-0.5zM421.2 220.1h0.5v0.5h-0.5zM425.7 220.1h0.5v0.5h-0.5zM426.7 220.1h0.5v0.5h-0.5zM428.7 220.1h0.5v0.5h-0.5zM432.2 220.1h0.5v0.5h-0.5zM436.2 220.1h0.5v0.5h-0.5zM437.2 220.1h0.5v0.5h-0.5zM440.7 220.1h0.5v0.5h-0.5zM443.7 220.1h2v0.5h-2zM447.2 220.1h0.5v0.5h-0.5zM413.7 220.6h0.5v0.5h-0.5zM414.7 220.6h0.5v0.5h-0.5zM416.7 220.6h0.5v0.5h-0.5zM418.7 220.6h0.5v0.5h-0.5zM420.7 220.6h0.5v0.5h-0.5zM423.7 220.6h0.5v0.5h-0.5zM429.7 220.6h0.5v0.5h-0.5zM430.7 220.6h0.5v0.5h-0.5zM432.7 220.6h0.5v0.5h-0.5zM435.7 220.6h1v0.5h-1zM438.7 220.6h0.5v0.5h-0.5zM440.2 220.6h1.5v0.5h-1.5zM443.2 220.6h0.5v0.5h-0.5zM415.7 221.1h0.5v0.5h-0.5zM418.2 221.1h0.5v0.5h-0.5zM424.2 221.1h0.5v0.5h-0.5zM427.2 221.1h0.5v0.5h-0.5zM428.2 221.1h0.5v0.5h-0.5zM431.7 221.1h0.5v0.5h-0.5zM432.7 221.1h0.5v0.5h-0.5zM434.2 221.1h0.5v0.5h-0.5zM436.2 221.1h0.5v0.5h-0.5zM437.7 221.1h0.5v0.5h-0.5zM440.7 221.1h0.5v0.5h-0.5zM443.2 221.1h0.5v0.5h-0.5zM445.7 221.1h0.5v0.5h-0.5zM416.2 221.6h0.5v0.5h-0.5zM419.7 221.6h0.5v0.5h-0.5zM421.7 221.6h0.5v0.5h-0.5zM422.7 221.6h0.5v0.5h-0.5zM424.7 221.6h0.5v0.5h-0.5zM425.7 221.6h0.5v0.5h-0.5zM428.7 221.6h0.5v0.5h-0.5zM431.2 221.6h0.5v0.5h-0.5zM432.7 221.6h0.5v0.5h-0.5zM435.2 221.6h0.5v0.5h-0.5zM436.7 221.6h0.5v0.5h-0.5zM441.2 221.6h1v0.5h-1zM444.7 221.6h1v0.5h-1zM446.2 221.6h0.5v0.5h-0.5zM447.2 221.6h0.5v0.5h-0.5zM450.2 221.6h0.5v0.5h-0.5zM414.2 222.1h0.5v0.5h-0.5zM415.2 222.1h1v0.5h-1zM416.7 222.1h0.5v0.5h-0.5zM427.2 222.1h0.5v0.5h-0.5zM429.7 222.1h0.5v0.5h-0.5zM431.2 222.1h0.5v0.5h-0.5zM433.2 222.1h0.5v0.5h-0.5zM434.7 222.1h1v0.5h-1zM438.7 222.1h0.5v0.5h-0.5zM441.2 222.1h0.5v0.5h-0.5zM443.7 222.1h0.5v0.5h-0.5zM449.7 222.1h0.5v0.5h-0.5zM451.7 222.1h0.5v0.5h-0.5zM416.2 222.6h0.5v0.5h-0.5zM422.2 222.6h0.5v0.5h-0.5zM425.2 222.6h0.5v0.5h-0.5zM426.2 222.6h1v0.5h-1zM429.2 222.6h0.5v0.5h-0.5zM431.7 222.6h0.5v0.5h-0.5zM437.2 222.6h0.5v0.5h-0.5zM438.7 222.6h0.5v0.5h-0.5zM441.7 222.6h0.5v0.5h-0.5zM443.7 222.6h0.5v0.5h-0.5zM444.7 222.6h0.5v0.5h-0.5zM445.7 222.6h1v0.5h-1zM450.7 222.6h0.5v0.5h-0.5zM451.7 222.6h0.5v0.5h-0.5zM456.7 222.6h0.5v0.5h-0.5zM415.2 223.1h0.5v0.5h-0.5zM416.7 223.1h0.5v0.5h-0.5zM424.7 223.1h0.5v0.5h-0.5zM426.2 223.1h0.5v0.5h-0.5zM430.2 223.1h0.5v0.5h-0.5zM431.7 223.1h0.5v0.5h-0.5zM432.7 223.1h0.5v0.5h-0.5zM434.2 223.1h0.5v0.5h-0.5zM438.2 223.1h0.5v0.5h-0.5zM439.7 223.1h0.5v0.5h-0.5zM441.2 223.1h0.5v0.5h-0.5zM442.2 223.1h0.5v0.5h-0.5zM445.2 223.1h0.5v0.5h-0.5zM448.7 223.1h0.5v0.5h-0.5zM414.2 223.6h0.5v0.5h-0.5zM420.7 223.6h0.5v0.5h-0.5zM421.7 223.6h0.5v0.5h-0.5zM428.7 223.6h0.5v0.5h-0.5zM438.7 223.6h0.5v0.5h-0.5zM444.2 223.6h0.5v0.5h-0.5zM447.2 223.6h0.5v0.5h-0.5zM449.7 223.6h1v0.5h-1zM415.7 224.1h0.5v0.5h-0.5zM419.2 224.1h1.5v0.5h-1.5zM423.2 224.1h0.5v0.5h-0.5zM424.7 224.1h0.5v0.5h-0.5zM439.2 224.1h0.5v0.5h-0.5zM441.2 224.1h0.5v0.5h-0.5zM442.7 224.1h0.5v0.5h-0.5zM419.2 224.6h1v0.5h-1zM425.7 224.6h0.5v0.5h-0.5zM426.7 224.6h1v0.5h-1zM437.2 224.6h0.5v0.5h-0.5zM441.7 224.6h0.5v0.5h-0.5zM444.7 224.6h1v0.5h-1zM448.2 224.6h0.5v0.5h-0.5zM452.2 224.6h0.5v0.5h-0.5zM414.2 225.1h0.5v0.5h-0.5zM418.2 225.1h0.5v0.5h-0.5zM422.7 225.1h0.5v0.5h-0.5zM424.7 225.1h0.5v0.5h-0.5zM432.7 225.1h0.5v0.5h-0.5zM433.7 225.1h0.5v0.5h-0.5zM435.2 225.1h0.5v0.5h-0.5zM443.7 225.1h0.5v0.5h-0.5zM449.7 225.1h0.5v0.5h-0.5zM415.7 225.6h0.5v0.5h-0.5zM419.7 225.6h0.5v0.5h-0.5zM424.2 225.6h0.5v0.5h-0.5zM426.2 225.6h0.5v0.5h-0.5zM429.7 225.6h0.5v0.5h-0.5zM432.7 225.6h0.5v0.5h-0.5zM433.7 225.6h0.5v0.5h-0.5zM437.2 225.6h0.5v0.5h-0.5zM438.2 225.6h0.5v0.5h-0.5zM440.7 225.6h0.5v0.5h-0.5zM449.7 225.6h0.5v0.5h-0.5zM417.2 226.1h0.5v0.5h-0.5zM430.7 226.1h0.5v0.5h-0.5zM437.7 226.1h0.5v0.5h-0.5zM438.7 226.1h1v0.5h-1zM440.7 226.1h0.5v0.5h-0.5zM443.7 226.1h1v0.5h-1zM446.2 226.1h1v0.5h-1zM415.2 226.6h0.5v0.5h-0.5zM416.7 226.6h0.5v0.5h-0.5zM428.2 226.6h0.5v0.5h-0.5zM429.2 226.6h0.5v0.5h-0.5zM436.7 226.6h0.5v0.5h-0.5zM439.7 226.6h0.5v0.5h-0.5zM442.7 226.6h0.5v0.5h-0.5zM445.2 226.6h0.5v0.5h-0.5zM452.2 226.6h0.5v0.5h-0.5zM453.2 226.6h0.5v0.5h-0.5zM418.7 227.1h0.5v0.5h-0.5zM424.2 227.1h0.5v0.5h-0.5zM432.2 227.1h0.5v0.5h-0.5zM438.7 227.1h0.5v0.5h-0.5zM446.2 227.1h0.5v0.5h-0.5zM448.7 227.1h0.5v0.5h-0.5zM449.7 227.1h0.5v0.5h-0.5zM420.7 227.6h0.5v0.5h-0.5zM421.7 227.6h0.5v0.5h-0.5zM423.2 227.6h0.5v0.5h-0.5zM430.2 227.6h0.5v0.5h-0.5zM443.7 227.6h0.5v0.5h-0.5zM451.7 227.6h0.5v0.5h-0.5zM418.2 228.1h0.5v0.5h-0.5zM423.2 228.1h0.5v0.5h-0.5zM427.7 228.1h0.5v0.5h-0.5zM428.7 228.1h0.5v0.5h-0.5zM429.7 228.1h0.5v0.5h-0.5zM435.7 228.1h1v0.5h-1zM438.7 228.1h0.5v0.5h-0.5zM444.7 228.1h0.5v0.5h-0.5zM446.2 228.1h0.5v0.5h-0.5zM448.2 228.1h1v0.5h-1zM415.2 228.6h0.5v0.5h-0.5zM420.7 228.6h0.5v0.5h-0.5zM426.2 228.6h0.5v0.5h-0.5zM430.2 228.6h0.5v0.5h-0.5zM435.7 228.6h0.5v0.5h-0.5zM437.2 228.6h1v0.5h-1zM440.2 228.6h1v0.5h-1zM442.7 228.6h0.5v0.5h-0.5zM447.2 228.6h0.5v0.5h-0.5zM451.2 228.6h0.5v0.5h-0.5zM416.2 229.1h0.5v0.5h-0.5zM417.7 229.1h0.5v0.5h-0.5zM419.7 229.1h0.5v0.5h-0.5zM422.7 229.1h0.5v0.5h-0.5zM425.2 229.1h0.5v0.5h-0.5zM430.7 229.1h0.5v0.5h-0.5zM447.2 229.1h0.5v0.5h-0.5zM415.7 229.6h0.5v0.5h-0.5zM419.7 229.6h0.5v0.5h-0.5zM422.2 229.6h0.5v0.5h-0.5zM423.7 229.6h0.5v0.5h-0.5zM433.7 229.6h0.5v0.5h-0.5zM439.2 229.6h0.5v0.5h-0.5zM443.7 229.6h0.5v0.5h-0.5zM445.2 229.6h0.5v0.5h-0.5zM446.2 229.6h0.5v0.5h-0.5zM448.7 229.6h0.5v0.5h-0.5zM414.7 230.1h0.5v0.5h-0.5zM427.2 230.1h0.5v0.5h-0.5zM439.2 230.1h0.5v0.5h-0.5zM440.2 230.1h1.5v0.5h-1.5zM445.7 230.1h0.5v0.5h-0.5zM447.2 230.1h0.5v0.5h-0.5zM448.7 230.1h0.5v0.5h-0.5zM414.2 230.6h0.5v0.5h-0.5zM417.7 230.6h0.5v0.5h-0.5zM438.2 230.6h0.5v0.5h-0.5zM442.2 230.6h0.5v0.5h-0.5zM447.2 230.6h0.5v0.5h-0.5zM420.7 231.1h0.5v0.5h-0.5zM429.7 231.1h0.5v0.5h-0.5zM431.7 231.1h0.5v0.5h-0.5zM433.7 231.1h0.5v0.5h-0.5zM440.7 231.1h0.5v0.5h-0.5zM444.2 231.1h0.5v0.5h-0.5zM447.2 231.1h0.5v0.5h-0.5zM418.2 231.6h0.5v0.5h-0.5zM429.7 231.6h0.5v0.5h-0.5zM435.2 231.6h0.5v0.5h-0.5zM443.2 231.6h0.5v0.5h-0.5zM445.2 231.6h0.5v0.5h-0.5zM417.7 232.1h0.5v0.5h-0.5zM423.2 232.1h0.5v0.5h-0.5zM425.7 232.1h0.5v0.5h-0.5zM428.7 232.1h0.5v0.5h-0.5zM433.7 232.1h0.5v0.5h-0.5zM436.7 232.1h0.5v0.5h-0.5zM437.7 232.1h0.5v0.5h-0.5zM438.7 232.1h0.5v0.5h-0.5zM441.7 232.1h0.5v0.5h-0.5zM447.2 232.1h0.5v0.5h-0.5zM449.2 232.1h0.5v0.5h-0.5zM416.7 232.6h0.5v0.5h-0.5zM421.7 232.6h0.5v0.5h-0.5zM429.7 232.6h0.5v0.5h-0.5zM434.7 232.6h0.5v0.5h-0.5zM439.7 232.6h0.5v0.5h-0.5zM446.7 232.6h0.5v0.5h-0.5zM413.7 233.1h0.5v0.5h-0.5zM415.2 233.1h0.5v0.5h-0.5zM435.7 233.1h0.5v0.5h-0.5zM436.7 233.1h0.5v0.5h-0.5zM442.2 233.1h0.5v0.5h-0.5zM448.7 233.1h0.5v0.5h-0.5zM428.7 233.6h0.5v0.5h-0.5zM429.7 233.6h0.5v0.5h-0.5zM431.7 233.6h0.5v0.5h-0.5zM442.2 233.6h0.5v0.5h-0.5zM446.2 233.6h0.5v0.5h-0.5zM449.7 233.6h0.5v0.5h-0.5zM451.7 233.6h0.5v0.5h-0.5zM421.7 234.1h1v0.5h-1zM426.7 234.1h0.5v0.5h-0.5zM428.2 234.1h0.5v0.5h-0.5zM431.7 234.1h0.5v0.5h-0.5zM446.2 234.1h0.5v0.5h-0.5zM448.2 234.1h0.5v0.5h-0.5zM416.7 234.6h0.5v0.5h-0.5zM417.7 234.6h0.5v0.5h-0.5zM434.2 234.6h0.5v0.5h-0.5zM437.2 234.6h1v0.5h-1zM446.7 234.6h0.5v0.5h-0.5zM451.7 234.6h0.5v0.5h-0.5zM422.7 235.1h0.5v0.5h-0.5zM440.2 235.1h0.5v0.5h-0.5zM454.2 235.1h0.5v0.5h-0.5zM419.7 235.6h0.5v0.5h-0.5zM422.2 235.6h0.5v0.5h-0.5zM426.7 235.6h0.5v0.5h-0.5zM428.2 235.6h1v0.5h-1zM436.2 235.6h0.5v0.5h-0.5zM439.2 235.6h0.5v0.5h-0.5zM449.2 235.6h0.5v0.5h-0.5zM413.7 236.1h0.5v0.5h-0.5zM426.2 236.1h0.5v0.5h-0.5zM443.2 236.1h0.5v0.5h-0.5zM449.7 236.1h0.5v0.5h-0.5zM452.7 236.1h0.5v0.5h-0.5zM413.7 236.6h0.5v0.5h-0.5zM427.2 236.6h0.5v0.5h-0.5zM438.7 236.6h0.5v0.5h-0.5zM441.2 236.6h0.5v0.5h-0.5zM416.7 237.1h0.5v0.5h-0.5zM417.7 237.1h0.5v0.5h-0.5zM419.7 237.1h0.5v0.5h-0.5zM431.7 237.1h0.5v0.5h-0.5zM436.2 237.1h0.5v0.5h-0.5zM444.2 237.1h0.5v0.5h-0.5zM445.2 237.1h0.5v0.5h-0.5zM447.2 237.1h0.5v0.5h-0.5zM451.7 237.1h0.5v0.5h-0.5zM420.2 237.6h0.5v0.5h-0.5zM423.2 237.6h0.5v0.5h-0.5zM428.2 237.6h0.5v0.5h-0.5zM432.2 237.6h0.5v0.5h-0.5zM419.7 238.1h0.5v0.5h-0.5zM425.2 238.1h0.5v0.5h-0.5zM447.7 238.1h0.5v0.5h-0.5zM414.2 238.6h0.5v0.5h-0.5zM426.7 238.6h0.5v0.5h-0.5zM434.2 238.6h0.5v0.5h-0.5zM440.2 238.6h0.5v0.5h-0.5zM421.7 239.1h0.5v0.5h-0.5zM426.2 239.1h0.5v0.5h-0.5zM428.2 239.1h0.5v0.5h-0.5zM430.2 239.1h0.5v0.5h-0.5zM433.7 239.1h0.5v0.5h-0.5zM435.7 239.1h1v0.5h-1zM437.7 239.1h0.5v0.5h-0.5zM452.2 239.1h0.5v0.5h-0.5zM414.7 239.6h0.5v0.5h-0.5zM416.2 239.6h0.5v0.5h-0.5zM421.7 239.6h0.5v0.5h-0.5zM422.7 239.6h0.5v0.5h-0.5zM423.7 239.6h0.5v0.5h-0.5zM429.7 239.6h0.5v0.5h-0.5zM437.2 239.6h0.5v0.5h-0.5zM439.2 239.6h0.5v0.5h-0.5zM444.2 239.6h0.5v0.5h-0.5zM445.2 239.6h1v0.5h-1zM447.2 239.6h0.5v0.5h-0.5zM414.2 240.1h0.5v0.5h-0.5zM419.7 240.1h0.5v0.5h-0.5zM422.2 240.1h0.5v0.5h-0.5zM425.7 240.1h1v0.5h-1zM428.2 240.1h0.5v0.5h-0.5zM429.7 240.1h0.5v0.5h-0.5zM431.2 240.1h0.5v0.5h-0.5zM435.2 240.1h0.5v0.5h-0.5zM439.2 240.1h0.5v0.5h-0.5zM440.2 240.1h0.5v0.5h-0.5zM444.2 240.1h0.5v0.5h-0.5zM446.7 240.1h0.5v0.5h-0.5zM415.7 240.6h0.5v0.5h-0.5zM419.7 240.6h0.5v0.5h-0.5zM423.2 240.6h0.5v0.5h-0.5zM424.2 240.6h0.5v0.5h-0.5zM430.2 240.6h0.5v0.5h-0.5zM432.2 240.6h1v0.5h-1zM434.2 240.6h0.5v0.5h-0.5zM435.7 240.6h0.5v0.5h-0.5zM442.7 240.6h0.5v0.5h-0.5zM444.7 240.6h1v0.5h-1zM450.7 240.6h0.5v0.5h-0.5zM416.7 241.1h0.5v0.5h-0.5zM418.7 241.1h0.5v0.5h-0.5zM421.2 241.1h0.5v0.5h-0.5zM425.2 241.1h1v0.5h-1zM436.2 241.1h0.5v0.5h-0.5zM437.2 241.1h1v0.5h-1zM415.2 241.6h0.5v0.5h-0.5zM416.2 241.6h1v0.5h-1zM421.2 241.6h0.5v0.5h-0.5zM423.2 241.6h0.5v0.5h-0.5zM427.2 241.6h1.5v0.5h-1.5zM433.7 241.6h0.5v0.5h-0.5zM437.7 241.6h1v0.5h-1zM415.2 242.1h0.5v0.5h-0.5zM423.2 242.1h1v0.5h-1zM425.2 242.1h1v0.5h-1zM434.2 242.1h0.5v0.5h-0.5zM435.2 242.1h0.5v0.5h-0.5zM437.7 242.1h0.5v0.5h-0.5zM449.2 242.1h0.5v0.5h-0.5z" fill="#161616" filter="url(#b)"/>
<rect x="413.70" y="169.60" width="73.90" height="72.80" stroke="#505050" stroke-width="0.8" fill="none"/>
<text x="415.60" y="244.90" font-size="2.6" text-anchor="middle" fill="#2a2a2a" font-weight="normal">10<tspan dy="-1" font-size="1.8">0</tspan></text>
<text x="412.50" y="239.20" font-size="2.6" text-anchor="end" fill="#2a2a2a" font-weight="normal">10<tspan dy="-1" font-size="1.8">0</tspan></text>
<text x="433.77" y="244.90" font-size="2.6" text-anchor="middle" fill="#2a2a2a" font-weight="normal">10<tspan dy="-1" font-size="1.8">1</tspan></text>
<text x="412.50" y="221.45" font-size="2.6" text-anchor="end" fill="#2a2a2a" font-weight="normal">10<tspan dy="-1" font-size="1.8">1</tspan></text>
<text x="451.95" y="244.90" font-size="2.6" text-anchor="middle" fill="#2a2a2a" font-weight="normal">10<tspan dy="-1" font-size="1.8">2</tspan></text>
<text x="412.50" y="203.71" font-size="2.6" text-anchor="end" fill="#2a2a2a" font-weight="normal">10<tspan dy="-1" font-size="1.8">2</tspan></text>
<text x="470.12" y="244.90" font-size="2.6" text-anchor="middle" fill="#2a2a2a" font-weight="normal">10<tspan dy="-1" font-size="1.8">3</tspan></text>
<text x="412.50" y="185.96" font-size="2.6" text-anchor="end" fill="#2a2a2a" font-weight="normal">10<tspan dy="-1" font-size="1.8">3</tspan></text>
<text x="488.30" y="244.90" font-size="2.6" text-anchor="middle" fill="#2a2a2a" font-weight="normal">10<tspan dy="-1" font-size="1.8">4</tspan></text>
<text x="412.50" y="168.21" font-size="2.6" text-anchor="end" fill="#2a2a2a" font-weight="normal">10<tspan dy="-1" font-size="1.8">4</tspan></text>
<text x="449.69" y="248.80" font-size="2.9" text-anchor="middle" fill="#2a2a2a">CD94 FITC</text>
<text transform="translate(408.70 205.27) rotate(-90)" font-size="2.9" text-anchor="middle" fill="#2a2a2a">CD117 PE</text>
<text x="419.90" y="188.40" font-size="8.9" text-anchor="start" fill="#111" >70</text>
<text x="441.00" y="204.40" font-size="8.9" text-anchor="start" fill="#111" >16</text>
<text x="0.20" y="295.80" font-size="17" text-anchor="start" fill="#111" >C</text>
<path d="M41.70 382.20L43.50 382.20" stroke="#444" stroke-width="0.6" fill="none"/>
<text x="41.30" y="384.90" font-size="7.6" text-anchor="end" fill="#111" >0</text>
<path d="M43.50 366.67L195.80 366.67" stroke="#bdbdbd" stroke-width="0.7" fill="none"/>
<path d="M41.70 366.67L43.50 366.67" stroke="#444" stroke-width="0.6" fill="none"/>
<text x="41.30" y="369.37" font-size="7.6" text-anchor="end" fill="#111" >10</text>
<path d="M43.50 351.13L195.80 351.13" stroke="#bdbdbd" stroke-width="0.7" fill="none"/>
<path d="M41.70 351.13L43.50 351.13" stroke="#444" stroke-width="0.6" fill="none"/>
<text x="41.30" y="353.83" font-size="7.6" text-anchor="end" fill="#111" >20</text>
<path d="M43.50 335.60L195.80 335.60" stroke="#bdbdbd" stroke-width="0.7" fill="none"/>
<path d="M41.70 335.60L43.50 335.60" stroke="#444" stroke-width="0.6" fill="none"/>
<text x="41.30" y="338.30" font-size="7.6" text-anchor="end" fill="#111" >30</text>
<path d="M43.50 320.07L195.80 320.07" stroke="#bdbdbd" stroke-width="0.7" fill="none"/>
<path d="M41.70 320.07L43.50 320.07" stroke="#444" stroke-width="0.6" fill="none"/>
<text x="41.30" y="322.77" font-size="7.6" text-anchor="end" fill="#111" >40</text>
<path d="M43.50 304.53L195.80 304.53" stroke="#bdbdbd" stroke-width="0.7" fill="none"/>
<path d="M41.70 304.53L43.50 304.53" stroke="#444" stroke-width="0.6" fill="none"/>
<text x="41.30" y="307.23" font-size="7.6" text-anchor="end" fill="#111" >50</text>
<path d="M41.70 289.00L43.50 289.00" stroke="#444" stroke-width="0.6" fill="none"/>
<text x="41.30" y="291.70" font-size="7.6" text-anchor="end" fill="#111" >60</text>
<path d="M43.50 289.00L195.80 289.00" stroke="#777" stroke-width="0.8" fill="none"/>
<path d="M195.80 289.00L195.80 382.20" stroke="#999" stroke-width="0.8" fill="none"/>
<path d="M43.50 289.00L43.50 382.20" stroke="#444" stroke-width="0.8" fill="none"/>
<path d="M43.50 382.20L195.80 382.20" stroke="#444" stroke-width="0.8" fill="none"/>
<rect x="66.2" y="306.86" width="30.9" height="75.34" fill="#000"/>
<path d="M81.60 306.86L81.60 294.44" stroke="#333" stroke-width="0.7" fill="none"/>
<path d="M80.20 294.44L83.00 294.44" stroke="#333" stroke-width="0.7" fill="none"/>
<rect x="142.1" y="366.67" width="30.8" height="15.53" fill="#000"/>
<path d="M157.30 366.67L157.30 358.90" stroke="#333" stroke-width="0.7" fill="none"/>
<path d="M155.90 358.90L158.70 358.90" stroke="#333" stroke-width="0.7" fill="none"/>
<text transform="translate(26.00 334.70) rotate(-90)" font-size="10.5" text-anchor="middle" fill="#111" >Fold expansion</text>
<text x="81.60" y="391.00" font-size="8.3" text-anchor="middle" fill="#111" >EL08.1D2 and</text>
<text x="81.80" y="399.00" font-size="8.3" text-anchor="middle" fill="#111" >cytokines</text>
<text x="157.70" y="394.00" font-size="8.3" text-anchor="middle" fill="#111" >cytokines</text>
<text x="231.80" y="295.50" font-size="17.5" text-anchor="start" fill="#111" >E</text>
<text x="310.10" y="303.00" font-size="9.1" text-anchor="middle" fill="#111" >bulk</text>
<text x="436.60" y="291.40" font-size="9.2" text-anchor="middle" fill="#111" >gated on:</text>
<text x="362.4" y="303.0" font-size="9.1" fill="#111">CD94<tspan dy="-2.7" font-size="6.3">-</tspan><tspan dy="2.7">CD117</tspan><tspan dy="-2.7" font-size="6.3">high</tspan></text>
<text x="441.4" y="303.0" font-size="9.1" fill="#111">CD94<tspan dy="-2.7" font-size="6.3">+</tspan><tspan dy="2.7">CD117</tspan><tspan dy="-2.7" font-size="6.3">-/low</tspan></text>
<path d="M276.80 309.30L346.70 309.30" stroke="#111" stroke-width="1.5" fill="none"/>
<path d="M361.00 309.30L432.00 309.30" stroke="#111" stroke-width="1.5" fill="none"/>
<path d="M441.00 309.30L515.00 309.30" stroke="#111" stroke-width="1.5" fill="none"/>
<text x="231.80" y="336.30" font-size="9.2" text-anchor="start" fill="#111" >gran B</text>
<text x="231.80" y="377.70" font-size="9.1" text-anchor="start" fill="#111" >perforin</text>
<path d="M275.5 342.8L279.5 342.6L282.6 338.9L285.7 330.5L288.0 325.0L289.6 322.6L290.8 321.5L291.8 323.2L292.6 325.8L294.9 331.2L296.4 330.2L298.0 328.9L300.0 327.0L301.8 325.5L303.2 325.3L304.2 326.6L306.5 333.5L309.5 339.7L313.4 342.6L316.0 342.8Z" fill="#cfcfcf" stroke="none"/>
<path d="M275.5 342.8L279.5 342.6L282.6 338.9L285.7 330.5L288.0 325.0L289.6 322.6L290.8 321.5L291.8 323.2L292.6 325.8L294.9 331.2L296.4 330.2L298.0 328.9L300.0 327.0L301.8 325.5L303.2 325.3L304.2 326.6L306.5 333.5L309.5 339.7L313.4 342.6L316.0 342.8" fill="none" stroke="#111" stroke-width="1.0" stroke-linejoin="round"/>
<path d="M274.9 319.0L274.9 342.8L340.3 342.8" fill="none" stroke="#222" stroke-width="0.9"/>
<path d="M293.40 331.70L340.00 331.70" stroke="#3a3a3a" stroke-width="0.85" fill="none"/>
<path d="M293.40 330.90L293.40 332.50" stroke="#444" stroke-width="0.5" fill="none"/>
<path d="M340.00 330.90L340.00 332.50" stroke="#444" stroke-width="0.5" fill="none"/>
<text x="334.5" y="329.5" font-size="2.8" text-anchor="middle" fill="#222" font-weight="normal">M1</text>
<text x="275.40" y="346.90" font-size="3.0" text-anchor="middle" fill="#222" font-weight="normal">10<tspan dy="-1.1" font-size="2.1">0</tspan></text>
<text x="291.75" y="346.90" font-size="3.0" text-anchor="middle" fill="#222" font-weight="normal">10<tspan dy="-1.1" font-size="2.1">1</tspan></text>
<text x="308.10" y="346.90" font-size="3.0" text-anchor="middle" fill="#222" font-weight="normal">10<tspan dy="-1.1" font-size="2.1">2</tspan></text>
<text x="324.45" y="346.90" font-size="3.0" text-anchor="middle" fill="#222" font-weight="normal">10<tspan dy="-1.1" font-size="2.1">3</tspan></text>
<text x="340.80" y="346.90" font-size="3.0" text-anchor="middle" fill="#222" font-weight="normal">10<tspan dy="-1.1" font-size="2.1">4</tspan></text>
<text x="273.70" y="321.00" font-size="2.4" text-anchor="end" fill="#222" font-weight="normal">128</text>
<text x="273.70" y="343.60" font-size="2.4" text-anchor="end" fill="#222" font-weight="normal">0</text>
<text transform="translate(271.60 331.90) rotate(-90)" font-size="3.0" text-anchor="middle" fill="#222">Events</text>
<path d="M275.3 385.8L276.5 385.5L278.8 382.8L281.0 376.6L283.4 373.5L285.0 373.8L286.5 372.5L288.8 370.5L291.0 367.4L292.2 368.6L293.4 368.2L294.9 366.6L296.5 367.7L298.0 366.2L299.5 368.9L301.0 368.2L302.6 372.8L304.2 379.7L306.5 384.3L309.5 385.6L312.0 385.8Z" fill="#cfcfcf" stroke="none"/>
<path d="M275.3 385.8L276.5 385.5L278.8 382.8L281.0 376.6L283.4 373.5L285.0 373.8L286.5 372.5L288.8 370.5L291.0 367.4L292.2 368.6L293.4 368.2L294.9 366.6L296.5 367.7L298.0 366.2L299.5 368.9L301.0 368.2L302.6 372.8L304.2 379.7L306.5 384.3L309.5 385.6L312.0 385.8" fill="none" stroke="#111" stroke-width="1.0" stroke-linejoin="round"/>
<path d="M274.9 362.0L274.9 385.8L340.3 385.8" fill="none" stroke="#222" stroke-width="0.9"/>
<path d="M292.60 374.80L340.00 374.80" stroke="#3a3a3a" stroke-width="0.85" fill="none"/>
<path d="M292.60 374.00L292.60 375.60" stroke="#444" stroke-width="0.5" fill="none"/>
<path d="M340.00 374.00L340.00 375.60" stroke="#444" stroke-width="0.5" fill="none"/>
<text x="334.5" y="372.6" font-size="2.8" text-anchor="middle" fill="#222" font-weight="normal">M1</text>
<text x="275.40" y="389.90" font-size="3.0" text-anchor="middle" fill="#222" font-weight="normal">10<tspan dy="-1.1" font-size="2.1">0</tspan></text>
<text x="291.75" y="389.90" font-size="3.0" text-anchor="middle" fill="#222" font-weight="normal">10<tspan dy="-1.1" font-size="2.1">1</tspan></text>
<text x="308.10" y="389.90" font-size="3.0" text-anchor="middle" fill="#222" font-weight="normal">10<tspan dy="-1.1" font-size="2.1">2</tspan></text>
<text x="324.45" y="389.90" font-size="3.0" text-anchor="middle" fill="#222" font-weight="normal">10<tspan dy="-1.1" font-size="2.1">3</tspan></text>
<text x="340.80" y="389.90" font-size="3.0" text-anchor="middle" fill="#222" font-weight="normal">10<tspan dy="-1.1" font-size="2.1">4</tspan></text>
<text x="273.70" y="364.00" font-size="2.4" text-anchor="end" fill="#222" font-weight="normal">128</text>
<text x="273.70" y="386.60" font-size="2.4" text-anchor="end" fill="#222" font-weight="normal">0</text>
<text transform="translate(271.60 374.90) rotate(-90)" font-size="3.0" text-anchor="middle" fill="#222">Events</text>
<text x="307.2" y="394.6" font-size="3.5" text-anchor="middle" fill="#222">Perforin-FITC</text>
<path d="M362.5 342.8L365.8 342.6L369.6 340.5L371.6 335.0L372.6 331.3L373.5 329.0L374.8 329.2L375.8 330.5L377.8 336.6L379.6 341.2L385.8 342.4L395.0 342.8Z" fill="#cfcfcf" stroke="none"/>
<path d="M362.5 342.8L365.8 342.6L369.6 340.5L371.6 335.0L372.6 331.3L373.5 329.0L374.8 329.2L375.8 330.5L377.8 336.6L379.6 341.2L385.8 342.4L395.0 342.8" fill="none" stroke="#111" stroke-width="1.0" stroke-linejoin="round"/>
<path d="M361.9 319.0L361.9 342.8L426.5 342.8" fill="none" stroke="#222" stroke-width="0.9"/>
<path d="M379.60 327.40L426.30 327.40" stroke="#3a3a3a" stroke-width="0.85" fill="none"/>
<path d="M379.60 326.60L379.60 328.20" stroke="#444" stroke-width="0.5" fill="none"/>
<path d="M426.30 326.60L426.30 328.20" stroke="#444" stroke-width="0.5" fill="none"/>
<text x="420.8" y="325.2" font-size="2.8" text-anchor="middle" fill="#222" font-weight="normal">M1</text>
<text x="362.40" y="346.90" font-size="3.0" text-anchor="middle" fill="#222" font-weight="normal">10<tspan dy="-1.1" font-size="2.1">0</tspan></text>
<text x="378.55" y="346.90" font-size="3.0" text-anchor="middle" fill="#222" font-weight="normal">10<tspan dy="-1.1" font-size="2.1">1</tspan></text>
<text x="394.70" y="346.90" font-size="3.0" text-anchor="middle" fill="#222" font-weight="normal">10<tspan dy="-1.1" font-size="2.1">2</tspan></text>
<text x="410.85" y="346.90" font-size="3.0" text-anchor="middle" fill="#222" font-weight="normal">10<tspan dy="-1.1" font-size="2.1">3</tspan></text>
<text x="427.00" y="346.90" font-size="3.0" text-anchor="middle" fill="#222" font-weight="normal">10<tspan dy="-1.1" font-size="2.1">4</tspan></text>
<text x="360.70" y="321.00" font-size="2.4" text-anchor="end" fill="#222" font-weight="normal">128</text>
<text x="360.70" y="343.60" font-size="2.4" text-anchor="end" fill="#222" font-weight="normal">0</text>
<text transform="translate(358.60 331.90) rotate(-90)" font-size="3.0" text-anchor="middle" fill="#222">Events</text>
<path d="M362.3 385.8L363.5 385.5L366.5 381.2L368.8 376.6L370.7 374.3L372.7 376.6L375.8 380.5L379.6 382.8L385.8 384.8L393.5 385.7L400.0 385.8Z" fill="#cfcfcf" stroke="none"/>
<path d="M362.3 385.8L363.5 385.5L366.5 381.2L368.8 376.6L370.7 374.3L372.7 376.6L375.8 380.5L379.6 382.8L385.8 384.8L393.5 385.7L400.0 385.8" fill="none" stroke="#111" stroke-width="1.0" stroke-linejoin="round"/>
<path d="M361.9 362.0L361.9 385.8L426.5 385.8" fill="none" stroke="#222" stroke-width="0.9"/>
<path d="M379.60 370.50L426.30 370.50" stroke="#3a3a3a" stroke-width="0.85" fill="none"/>
<path d="M379.60 369.70L379.60 371.30" stroke="#444" stroke-width="0.5" fill="none"/>
<path d="M426.30 369.70L426.30 371.30" stroke="#444" stroke-width="0.5" fill="none"/>
<text x="420.8" y="368.3" font-size="2.8" text-anchor="middle" fill="#222" font-weight="normal">M1</text>
<text x="362.40" y="389.90" font-size="3.0" text-anchor="middle" fill="#222" font-weight="normal">10<tspan dy="-1.1" font-size="2.1">0</tspan></text>
<text x="378.55" y="389.90" font-size="3.0" text-anchor="middle" fill="#222" font-weight="normal">10<tspan dy="-1.1" font-size="2.1">1</tspan></text>
<text x="394.70" y="389.90" font-size="3.0" text-anchor="middle" fill="#222" font-weight="normal">10<tspan dy="-1.1" font-size="2.1">2</tspan></text>
<text x="410.85" y="389.90" font-size="3.0" text-anchor="middle" fill="#222" font-weight="normal">10<tspan dy="-1.1" font-size="2.1">3</tspan></text>
<text x="427.00" y="389.90" font-size="3.0" text-anchor="middle" fill="#222" font-weight="normal">10<tspan dy="-1.1" font-size="2.1">4</tspan></text>
<text x="360.70" y="364.00" font-size="2.4" text-anchor="end" fill="#222" font-weight="normal">128</text>
<text x="360.70" y="386.60" font-size="2.4" text-anchor="end" fill="#222" font-weight="normal">0</text>
<text transform="translate(358.60 374.90) rotate(-90)" font-size="3.0" text-anchor="middle" fill="#222">Events</text>
<text x="393.5" y="394.6" font-size="3.5" text-anchor="middle" fill="#222">Perforin-FITC</text>
<path d="M452.0 342.8L458.5 342.6L464.6 341.2L470.0 338.9L473.8 335.0L476.9 331.7L479.2 333.5L482.3 338.9L485.4 341.7L487.7 342.6L492.0 342.8Z" fill="#cfcfcf" stroke="none"/>
<path d="M452.0 342.8L458.5 342.6L464.6 341.2L470.0 338.9L473.8 335.0L476.9 331.7L479.2 333.5L482.3 338.9L485.4 341.7L487.7 342.6L492.0 342.8" fill="none" stroke="#111" stroke-width="1.0" stroke-linejoin="round"/>
<path d="M449.2 319.0L449.2 342.8L513.8 342.8" fill="none" stroke="#222" stroke-width="0.9"/>
<path d="M466.20 331.70L513.60 331.70" stroke="#3a3a3a" stroke-width="0.85" fill="none"/>
<path d="M466.20 330.90L466.20 332.50" stroke="#444" stroke-width="0.5" fill="none"/>
<path d="M513.60 330.90L513.60 332.50" stroke="#444" stroke-width="0.5" fill="none"/>
<text x="508.1" y="329.5" font-size="2.8" text-anchor="middle" fill="#222" font-weight="normal">M1</text>
<text x="449.70" y="346.90" font-size="3.0" text-anchor="middle" fill="#222" font-weight="normal">10<tspan dy="-1.1" font-size="2.1">0</tspan></text>
<text x="465.85" y="346.90" font-size="3.0" text-anchor="middle" fill="#222" font-weight="normal">10<tspan dy="-1.1" font-size="2.1">1</tspan></text>
<text x="482.00" y="346.90" font-size="3.0" text-anchor="middle" fill="#222" font-weight="normal">10<tspan dy="-1.1" font-size="2.1">2</tspan></text>
<text x="498.15" y="346.90" font-size="3.0" text-anchor="middle" fill="#222" font-weight="normal">10<tspan dy="-1.1" font-size="2.1">3</tspan></text>
<text x="514.30" y="346.90" font-size="3.0" text-anchor="middle" fill="#222" font-weight="normal">10<tspan dy="-1.1" font-size="2.1">4</tspan></text>
<text x="448.00" y="321.00" font-size="2.4" text-anchor="end" fill="#222" font-weight="normal">128</text>
<text x="448.00" y="343.60" font-size="2.4" text-anchor="end" fill="#222" font-weight="normal">0</text>
<text transform="translate(445.90 331.90) rotate(-90)" font-size="3.0" text-anchor="middle" fill="#222">Events</text>
<path d="M452.0 385.8L456.9 385.6L461.5 384.6L467.7 380.5L471.5 377.4L474.6 374.3L476.9 378.9L480.0 383.5L483.8 385.6L488.0 385.8Z" fill="#cfcfcf" stroke="none"/>
<path d="M452.0 385.8L456.9 385.6L461.5 384.6L467.7 380.5L471.5 377.4L474.6 374.3L476.9 378.9L480.0 383.5L483.8 385.6L488.0 385.8" fill="none" stroke="#111" stroke-width="1.0" stroke-linejoin="round"/>
<path d="M449.2 362.0L449.2 385.8L513.8 385.8" fill="none" stroke="#222" stroke-width="0.9"/>
<path d="M466.20 374.80L513.60 374.80" stroke="#3a3a3a" stroke-width="0.85" fill="none"/>
<path d="M466.20 374.00L466.20 375.60" stroke="#444" stroke-width="0.5" fill="none"/>
<path d="M513.60 374.00L513.60 375.60" stroke="#444" stroke-width="0.5" fill="none"/>
<text x="508.1" y="372.6" font-size="2.8" text-anchor="middle" fill="#222" font-weight="normal">M1</text>
<text x="449.70" y="389.90" font-size="3.0" text-anchor="middle" fill="#222" font-weight="normal">10<tspan dy="-1.1" font-size="2.1">0</tspan></text>
<text x="465.85" y="389.90" font-size="3.0" text-anchor="middle" fill="#222" font-weight="normal">10<tspan dy="-1.1" font-size="2.1">1</tspan></text>
<text x="482.00" y="389.90" font-size="3.0" text-anchor="middle" fill="#222" font-weight="normal">10<tspan dy="-1.1" font-size="2.1">2</tspan></text>
<text x="498.15" y="389.90" font-size="3.0" text-anchor="middle" fill="#222" font-weight="normal">10<tspan dy="-1.1" font-size="2.1">3</tspan></text>
<text x="514.30" y="389.90" font-size="3.0" text-anchor="middle" fill="#222" font-weight="normal">10<tspan dy="-1.1" font-size="2.1">4</tspan></text>
<text x="448.00" y="364.00" font-size="2.4" text-anchor="end" fill="#222" font-weight="normal">128</text>
<text x="448.00" y="386.60" font-size="2.4" text-anchor="end" fill="#222" font-weight="normal">0</text>
<text transform="translate(445.90 374.90) rotate(-90)" font-size="3.0" text-anchor="middle" fill="#222">Events</text>
<text x="480.8" y="394.6" font-size="3.5" text-anchor="middle" fill="#222">Perforin-FITC</text>
</svg></body></html>
